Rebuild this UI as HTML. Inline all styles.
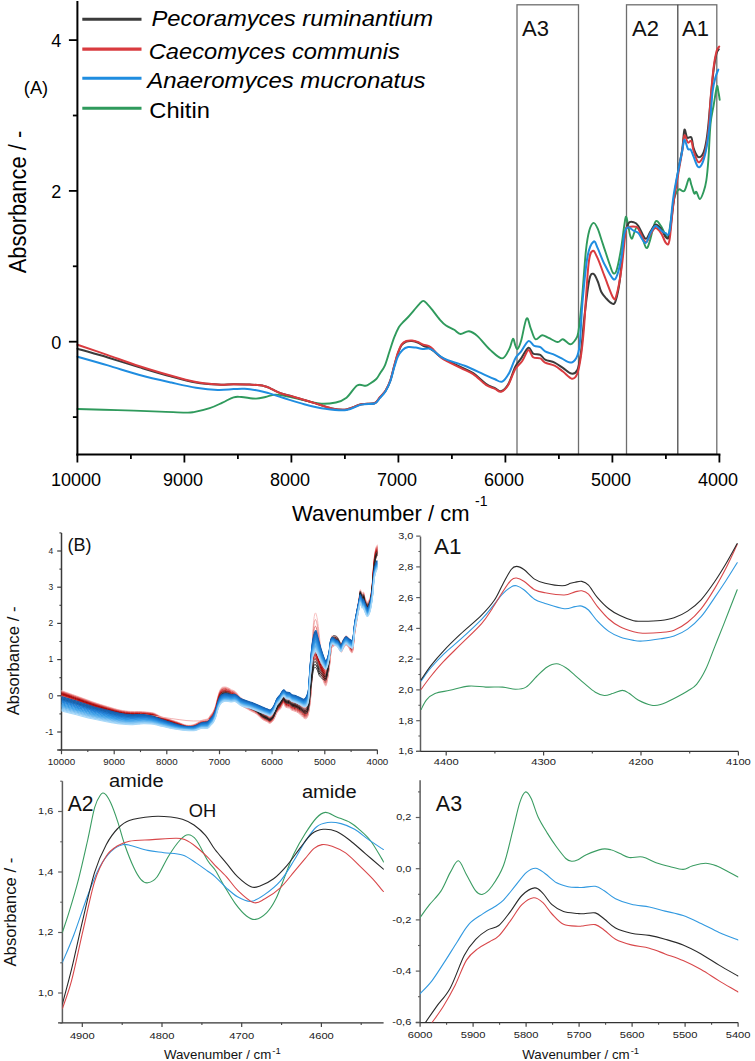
<!DOCTYPE html>
<html><head><meta charset="utf-8"><style>
html,body{margin:0;padding:0;background:#fff;}
svg{display:block;}
</style></head><body>
<svg width="755" height="1061" viewBox="0 0 755 1061">
<defs>
<clipPath id="clipB"><rect x="61.5" y="533" width="320" height="217"/></clipPath>
<clipPath id="clipA2"><rect x="62.4" y="781" width="321.5" height="242"/></clipPath>
<clipPath id="clipA3"><rect x="420.1" y="780" width="318.5" height="242.6"/></clipPath>
</defs>
<rect width="755" height="1061" fill="#fff"/>
<rect x="517" y="4.8" width="61.5" height="449.7" fill="none" stroke="#6e6e6e" stroke-width="1.3"/>
<rect x="626.5" y="4.8" width="90.3" height="449.7" fill="none" stroke="#6e6e6e" stroke-width="1.3"/>
<line x1="677.8" y1="4.8" x2="677.8" y2="454.5" stroke="#4a4a4a" stroke-width="1.3"/>
<text x="522" y="35.5" font-family="Liberation Sans, sans-serif" font-size="22" fill="#111">A3</text>
<text x="632" y="35.5" font-family="Liberation Sans, sans-serif" font-size="22" fill="#111">A2</text>
<text x="682" y="35.5" font-family="Liberation Sans, sans-serif" font-size="22" fill="#111">A1</text>
<path d="M77.5,409.0 C84.2,409.2 103.7,409.7 117.4,410.1 C131.1,410.5 148.4,411.2 159.7,411.6 C171.0,412.0 179.5,412.5 185.2,412.6 C190.9,412.7 189.7,412.8 193.8,412.1 C197.9,411.4 204.9,409.8 209.7,408.2 C214.5,406.6 218.5,404.4 222.5,402.6 C226.5,400.8 230.4,398.2 233.6,397.3 C236.8,396.4 237.8,396.8 241.5,397.0 C245.2,397.2 251.9,398.6 255.9,398.6 C259.9,398.6 262.2,397.7 265.4,397.0 C268.6,396.3 271.7,394.8 274.9,394.6 C278.1,394.4 281.4,395.3 284.5,395.8 C287.6,396.3 287.9,396.5 293.6,397.8 C299.4,399.1 311.9,402.7 319.0,403.5 C326.1,404.3 331.3,403.4 335.9,402.5 C340.5,401.6 343.0,400.6 346.5,397.8 C350.0,395.0 353.9,387.5 357.1,385.5 C360.3,383.5 363.5,386.1 365.6,385.8 C367.7,385.5 368.0,384.9 369.8,383.8 C371.6,382.7 374.6,380.7 376.3,379.0 C378.0,377.3 378.6,375.6 380.0,373.4 C381.4,371.2 383.1,369.5 384.7,365.9 C386.3,362.3 387.8,356.5 389.4,351.8 C391.0,347.1 392.5,341.8 394.1,337.7 C395.7,333.6 397.4,329.8 398.8,327.3 C400.2,324.8 401.0,324.3 402.6,322.6 C404.2,320.9 406.3,319.0 408.2,317.0 C410.1,315.0 412.0,312.6 413.9,310.4 C415.8,308.2 417.9,305.4 419.5,303.8 C421.1,302.2 422.0,300.9 423.3,300.9 C424.6,300.9 425.5,302.2 427.1,303.8 C428.7,305.4 430.6,307.7 432.7,310.4 C434.8,313.1 437.8,317.3 440.0,319.8 C442.2,322.3 443.6,323.8 446.0,325.5 C448.4,327.2 451.8,328.4 454.2,329.8 C456.6,331.2 458.0,333.8 460.5,334.0 C463.0,334.2 466.2,330.9 469.0,331.3 C471.8,331.7 474.0,333.0 477.5,336.1 C481.0,339.2 486.1,346.2 490.2,349.9 C494.3,353.6 499.0,358.6 502.2,358.4 C505.4,358.2 507.5,352.2 509.3,348.9 C511.1,345.6 511.9,339.3 512.9,338.7 C513.9,338.1 514.5,343.6 515.3,345.3 C516.1,347.0 516.6,349.7 517.6,348.9 C518.6,348.1 519.7,345.6 521.2,340.5 C522.7,335.4 525.0,320.5 526.6,318.5 C528.2,316.5 529.3,325.1 530.8,328.6 C532.3,332.1 533.6,338.2 535.5,339.3 C537.4,340.4 539.9,335.4 542.1,335.2 C544.3,335.0 546.0,336.8 548.6,337.9 C551.2,339.0 555.2,341.8 557.6,342.0 C560.0,342.2 560.8,338.9 562.9,339.3 C565.0,339.7 568.1,344.1 570.1,344.3 C572.1,344.5 573.5,342.5 574.9,340.5 C576.3,338.5 577.2,338.8 578.3,332.4 C579.4,326.0 580.4,315.5 581.7,301.9 C583.0,288.3 584.6,262.8 585.9,250.9 C587.2,239.0 588.0,235.3 589.3,230.6 C590.6,225.9 592.2,223.2 593.6,222.9 C595.0,222.6 596.2,225.4 597.8,228.9 C599.3,232.4 600.9,238.2 602.9,244.1 C604.9,250.0 608.0,259.7 609.7,264.5 C611.4,269.3 612.0,272.0 613.1,273.0 C614.2,274.0 615.2,274.2 616.5,270.5 C617.8,266.8 619.4,258.3 620.7,250.9 C622.0,243.5 623.3,231.7 624.2,226.0 C625.1,220.3 625.3,217.3 625.9,216.8 C626.5,216.3 627.1,220.2 627.8,223.2 C628.5,226.1 629.2,231.9 629.9,234.5 C630.6,237.1 631.3,238.9 632.0,238.7 C632.7,238.5 633.3,235.0 634.1,233.1 C634.9,231.2 635.8,227.2 637.0,227.4 C638.2,227.6 639.7,231.1 641.2,234.5 C642.7,237.9 644.8,246.7 646.2,247.9 C647.6,249.1 648.2,245.9 649.7,241.5 C651.2,237.1 653.5,224.3 655.4,221.7 C657.3,219.1 659.4,223.9 661.0,226.0 C662.6,228.1 664.1,232.6 665.3,234.5 C666.5,236.4 667.2,239.7 668.1,237.3 C669.0,234.9 670.0,226.4 670.9,220.3 C671.8,214.2 672.8,205.2 673.7,200.5 C674.7,195.8 675.7,193.9 676.6,192.0 C677.5,190.1 678.1,189.4 679.4,189.2 C680.7,189.0 682.8,192.7 684.4,190.9 C686.0,189.1 687.8,179.6 689.0,178.6 C690.2,177.6 690.5,182.5 691.4,185.0 C692.3,187.5 693.5,192.4 694.3,193.5 C695.1,194.6 695.5,190.9 696.4,191.8 C697.3,192.7 698.7,199.1 699.9,199.1 C701.1,199.1 702.4,195.1 703.5,192.0 C704.6,188.9 705.5,186.1 706.3,180.7 C707.1,175.3 707.7,168.9 708.4,159.5 C709.1,150.1 709.6,133.1 710.5,124.1 C711.4,115.1 712.5,111.8 713.6,105.5 C714.7,99.2 716.1,89.0 716.9,86.6 C717.7,84.2 717.8,89.1 718.3,91.3 C718.8,93.5 719.5,98.4 719.7,99.8" fill="none" stroke="#2f9a5c" stroke-width="1.9" stroke-linejoin="round" stroke-linecap="round" />
<path d="M77.5,348.7 C82.5,350.2 97.5,354.4 107.8,357.5 C118.1,360.6 129.0,364.1 139.6,367.3 C150.2,370.5 162.0,374.1 171.4,376.6 C180.8,379.2 188.3,381.3 196.0,382.6 C203.7,383.9 211.4,384.3 217.7,384.6 C224.0,384.9 228.3,384.3 233.6,384.3 C238.9,384.3 244.5,384.3 249.5,384.6 C254.5,384.9 260.1,385.1 263.8,385.9 C267.5,386.6 268.8,387.8 271.7,389.1 C274.6,390.4 277.6,392.2 281.3,393.5 C285.0,394.8 288.0,395.3 293.6,396.9 C299.2,398.5 308.4,401.2 314.7,403.1 C321.0,405.0 326.4,407.3 331.7,408.4 C337.0,409.4 341.6,410.1 346.5,409.4 C351.4,408.7 356.7,405.2 361.4,404.2 C366.1,403.2 371.4,404.3 374.5,403.2 C377.6,402.1 378.1,399.4 380.0,397.3 C381.9,395.2 383.9,393.6 385.6,390.8 C387.3,388.0 389.0,384.6 390.4,380.5 C391.8,376.4 392.9,371.0 394.1,366.5 C395.4,362.0 396.6,357.1 397.9,353.5 C399.2,349.9 400.3,347.0 401.7,345.0 C403.1,343.0 404.7,342.2 406.4,341.5 C408.1,340.8 410.1,340.8 412.0,341.0 C413.9,341.2 415.8,341.7 417.7,342.5 C419.6,343.3 421.4,344.9 423.3,345.8 C425.2,346.7 427.3,346.9 429.0,347.8 C430.7,348.7 431.6,349.4 433.7,351.0 C435.8,352.6 436.9,354.7 441.4,357.3 C445.9,359.9 455.2,364.2 460.5,366.9 C465.8,369.5 469.0,370.4 473.2,373.2 C477.4,376.0 482.3,381.3 485.9,383.8 C489.5,386.3 492.5,387.0 495.0,388.2 C497.5,389.4 498.8,391.8 501.0,391.2 C503.2,390.6 505.7,388.7 508.1,384.6 C510.5,380.5 513.1,371.1 515.3,366.7 C517.5,362.3 519.0,361.6 521.2,358.4 C523.4,355.2 526.4,348.5 528.4,347.7 C530.4,346.9 531.1,352.4 533.1,353.6 C535.1,354.8 538.3,353.8 540.3,354.8 C542.3,355.8 542.7,358.3 545.1,359.6 C547.5,360.9 551.6,361.2 554.6,362.6 C557.6,364.0 560.1,366.1 562.9,367.9 C565.7,369.7 568.9,373.2 571.3,373.6 C573.7,374.0 575.6,373.6 577.2,370.3 C578.8,367.0 579.6,362.2 580.8,353.6 C582.0,345.0 582.8,331.1 584.2,318.8 C585.6,306.5 587.7,287.3 589.3,279.8 C590.9,272.3 592.2,273.6 593.6,273.9 C595.0,274.2 596.5,278.5 597.8,281.5 C599.1,284.5 599.8,288.9 601.2,291.7 C602.6,294.5 604.5,296.5 606.3,298.5 C608.1,300.5 610.7,303.2 612.2,303.6 C613.8,304.0 614.3,305.0 615.6,301.0 C616.9,297.0 618.5,290.4 619.9,279.8 C621.3,269.2 622.8,246.7 624.2,237.3 C625.6,227.9 626.9,225.7 628.5,223.2 C630.1,220.7 632.5,221.9 634.1,222.4 C635.8,222.9 636.5,223.3 638.4,226.0 C640.3,228.7 643.5,237.8 645.5,238.7 C647.5,239.6 648.8,233.9 650.4,231.6 C652.0,229.2 653.6,225.1 655.4,224.6 C657.2,224.1 659.2,226.7 661.0,228.8 C662.8,230.9 664.6,236.4 666.0,237.3 C667.4,238.2 668.2,240.6 669.5,234.5 C670.8,228.4 672.3,210.9 673.7,200.5 C675.1,190.1 676.6,180.7 678.0,172.2 C679.4,163.7 681.1,156.7 682.2,149.6 C683.3,142.5 683.6,131.8 684.4,129.8 C685.2,127.8 686.0,136.3 687.2,137.6 C688.4,138.9 690.3,135.8 691.4,137.6 C692.5,139.4 692.5,145.0 693.6,148.2 C694.7,151.4 696.4,155.5 697.8,156.7 C699.2,157.9 700.8,156.7 702.0,155.3 C703.2,153.9 703.9,152.2 704.9,148.2 C705.9,144.2 706.8,139.2 707.7,131.2 C708.7,123.2 709.6,110.2 710.6,100.0 C711.6,89.8 712.6,77.7 713.6,70.0 C714.6,62.3 715.5,57.5 716.4,54.0 C717.3,50.5 718.4,50.1 718.8,49.3" fill="none" stroke="#3b3b3b" stroke-width="2.0" stroke-linejoin="round" stroke-linecap="round" />
<path d="M77.5,344.8 C82.5,346.5 97.5,351.5 107.8,355.1 C118.1,358.7 129.0,362.8 139.6,366.2 C150.2,369.6 162.0,373.1 171.4,375.8 C180.8,378.5 188.3,380.6 196.0,382.1 C203.7,383.6 211.4,384.2 217.7,384.6 C224.0,385.0 228.3,384.3 233.6,384.3 C238.9,384.3 244.5,384.3 249.5,384.6 C254.5,384.9 260.1,385.1 263.8,385.9 C267.5,386.6 268.8,387.8 271.7,389.1 C274.6,390.4 277.6,392.2 281.3,393.5 C285.0,394.8 288.0,395.1 293.6,396.7 C299.2,398.3 308.4,401.2 314.7,403.1 C321.0,405.1 326.4,407.3 331.7,408.4 C337.0,409.4 341.6,410.1 346.5,409.4 C351.4,408.7 356.7,405.2 361.4,404.2 C366.1,403.2 371.4,404.4 374.5,403.2 C377.6,402.0 378.1,399.1 380.0,397.0 C381.9,394.9 383.9,393.2 385.6,390.4 C387.3,387.6 389.0,384.1 390.4,380.0 C391.8,375.9 392.9,370.4 394.1,365.9 C395.4,361.3 396.6,356.3 397.9,352.7 C399.2,349.1 400.3,346.2 401.7,344.3 C403.1,342.4 404.7,341.6 406.4,341.0 C408.1,340.4 410.1,340.4 412.0,340.5 C413.9,340.6 415.8,341.2 417.7,341.9 C419.6,342.6 421.4,344.0 423.3,344.7 C425.2,345.4 427.3,345.2 429.0,346.1 C430.7,347.0 431.6,347.9 433.7,349.9 C435.8,351.8 436.9,354.8 441.4,357.8 C445.9,360.8 455.2,365.2 460.5,367.9 C465.8,370.6 469.0,371.4 473.2,374.2 C477.4,377.0 482.3,382.4 485.9,384.8 C489.5,387.2 492.5,387.6 495.0,388.8 C497.5,390.0 498.8,392.4 501.0,391.8 C503.2,391.2 505.7,389.0 508.1,385.2 C510.5,381.4 512.9,373.2 515.3,369.1 C517.7,365.0 520.2,364.0 522.4,360.8 C524.6,357.6 526.6,350.7 528.4,350.1 C530.2,349.5 531.1,355.8 533.1,357.2 C535.1,358.6 538.3,357.5 540.3,358.4 C542.3,359.3 542.7,361.4 545.1,362.6 C547.5,363.8 551.6,364.1 554.6,365.6 C557.6,367.1 560.0,369.3 562.9,371.5 C565.8,373.7 569.5,378.3 571.9,378.7 C574.3,379.1 575.7,377.5 577.2,373.9 C578.7,370.3 579.7,364.5 580.8,357.2 C581.9,349.9 582.5,345.4 583.8,330.0 C585.1,314.6 587.0,277.7 588.5,264.5 C590.0,251.3 591.2,251.9 592.7,250.9 C594.2,249.9 595.8,254.4 597.8,258.6 C599.8,262.9 602.0,269.9 604.6,276.4 C607.2,282.9 611.1,294.5 613.1,297.6 C615.1,300.7 615.1,300.1 616.5,295.1 C617.9,290.2 620.1,278.5 621.6,267.9 C623.1,257.3 624.6,238.3 625.7,231.6 C626.9,224.8 626.9,228.2 628.5,227.4 C630.1,226.6 634.0,226.5 635.6,226.7 C637.2,226.9 636.8,226.2 638.4,228.8 C640.0,231.4 643.5,241.2 645.5,242.2 C647.5,243.1 648.8,236.8 650.4,234.5 C652.0,232.2 653.6,228.3 655.4,228.1 C657.2,227.9 659.2,230.6 661.0,233.1 C662.8,235.6 664.6,241.8 666.0,243.0 C667.4,244.2 668.2,246.9 669.5,240.1 C670.8,233.2 671.6,216.8 673.7,201.9 C675.8,187.1 680.4,162.1 682.2,151.0 C684.0,139.9 683.5,136.9 684.4,135.5 C685.3,134.1 686.7,141.6 687.9,142.5 C689.1,143.4 690.4,139.7 691.4,141.1 C692.4,142.5 692.5,147.6 693.6,151.0 C694.7,154.4 696.5,160.1 697.8,161.6 C699.1,163.1 700.1,161.7 701.3,160.2 C702.5,158.7 703.7,157.2 704.9,152.4 C706.1,147.6 707.4,140.6 708.4,131.2 C709.4,121.8 709.9,106.6 710.8,96.0 C711.7,85.4 712.7,75.1 713.6,67.7 C714.5,60.3 715.5,55.2 716.4,51.7 C717.3,48.2 718.7,47.4 719.2,46.5" fill="none" stroke="#d93b3f" stroke-width="2.0" stroke-linejoin="round" stroke-linecap="round" />
<path d="M77.5,356.7 C82.5,358.1 97.5,362.3 107.8,365.4 C118.1,368.4 129.0,372.1 139.6,375.0 C150.2,377.9 162.0,380.5 171.4,382.6 C180.8,384.7 188.3,386.5 196.0,387.7 C203.7,388.9 211.4,389.7 217.7,389.9 C224.0,390.1 229.1,389.3 233.6,389.1 C238.1,388.9 240.5,388.5 244.7,388.8 C248.9,389.1 255.0,390.0 259.0,390.7 C263.0,391.4 264.6,391.9 268.6,393.1 C272.6,394.3 277.1,396.0 283.0,397.8 C288.9,399.6 297.1,402.4 304.2,404.2 C311.2,406.0 318.2,407.8 325.3,408.8 C332.4,409.8 340.5,410.8 346.5,410.1 C352.5,409.4 356.7,405.7 361.4,404.6 C366.1,403.5 371.4,404.6 374.5,403.5 C377.6,402.4 378.1,399.9 380.0,397.9 C381.9,395.9 383.9,394.1 385.6,391.3 C387.3,388.5 389.0,384.9 390.4,381.0 C391.8,377.1 392.9,371.9 394.1,367.8 C395.4,363.7 396.5,359.5 397.9,356.5 C399.3,353.5 400.9,351.5 402.6,349.9 C404.3,348.3 406.0,347.5 408.2,347.1 C410.4,346.7 413.4,347.3 415.8,347.6 C418.2,347.9 420.2,348.9 422.4,349.0 C424.6,349.1 427.1,348.2 429.0,348.5 C430.9,348.8 431.3,349.2 433.7,350.8 C436.1,352.4 438.4,355.9 443.6,358.4 C448.8,360.9 457.6,363.0 464.7,365.8 C471.8,368.6 480.8,373.1 485.9,375.3 C490.9,377.6 492.3,378.2 495.0,379.3 C497.7,380.4 499.8,382.7 502.2,381.6 C504.6,380.5 507.1,376.6 509.3,372.7 C511.5,368.8 513.3,362.0 515.3,358.4 C517.3,354.8 519.0,354.2 521.2,351.3 C523.4,348.4 526.2,342.0 528.4,341.1 C530.6,340.2 532.3,344.9 534.3,345.9 C536.3,346.9 538.5,346.2 540.3,347.1 C542.1,348.0 542.7,350.0 545.1,351.3 C547.5,352.6 551.8,353.6 554.6,354.8 C557.4,356.0 559.1,357.1 561.7,358.4 C564.3,359.7 567.7,362.6 570.1,362.6 C572.5,362.6 574.4,361.3 576.0,358.4 C577.6,355.5 578.5,354.7 579.6,345.3 C580.7,335.9 581.2,316.8 582.5,301.9 C583.8,287.0 585.8,266.1 587.6,256.0 C589.5,245.9 591.9,242.9 593.6,241.6 C595.3,240.3 596.0,244.6 597.8,248.4 C599.6,252.2 602.0,259.4 604.6,264.5 C607.2,269.6 611.0,277.2 613.1,278.9 C615.2,280.6 615.9,278.5 617.3,274.7 C618.7,270.9 620.5,262.7 621.6,256.0 C622.8,249.3 623.2,239.3 624.2,234.5 C625.2,229.7 626.1,228.0 627.8,227.4 C629.4,226.8 632.3,230.0 634.1,230.9 C635.9,231.8 636.5,231.1 638.4,233.1 C640.3,235.1 643.5,243.0 645.5,243.0 C647.5,243.0 648.8,235.9 650.4,233.1 C652.0,230.3 653.6,226.5 655.4,226.0 C657.2,225.5 659.4,229.0 661.0,230.2 C662.6,231.4 663.9,232.9 665.3,233.1 C666.7,233.3 668.1,238.0 669.5,231.6 C670.9,225.2 671.6,208.3 673.7,194.9 C675.8,181.5 680.4,160.2 682.2,151.0 C684.0,141.8 683.5,140.0 684.4,139.7 C685.3,139.3 686.8,147.2 687.9,148.9 C689.0,150.6 689.8,148.3 690.7,149.6 C691.7,150.9 692.4,153.9 693.6,156.7 C694.8,159.5 696.5,165.2 697.8,166.6 C699.1,168.0 700.1,167.1 701.3,165.2 C702.5,163.3 703.7,160.2 704.9,155.3 C706.1,150.4 707.5,141.9 708.4,135.5 C709.3,129.1 709.8,124.5 710.5,117.1 C711.2,109.7 711.8,97.9 712.6,91.3 C713.4,84.7 714.5,80.8 715.5,77.2 C716.5,73.6 717.8,70.9 718.3,69.6" fill="none" stroke="#1f8de0" stroke-width="2.0" stroke-linejoin="round" stroke-linecap="round" />
<line x1="77.4" y1="1" x2="77.4" y2="455.5" stroke="#000" stroke-width="2"/>
<line x1="76.4" y1="454.5" x2="720.4" y2="454.5" stroke="#000" stroke-width="2"/>
<line x1="72.9" y1="417.1" x2="77.4" y2="417.1" stroke="#000" stroke-width="1.8"/>
<line x1="68.9" y1="341.7" x2="77.4" y2="341.7" stroke="#000" stroke-width="1.8"/>
<line x1="72.9" y1="266.3" x2="77.4" y2="266.3" stroke="#000" stroke-width="1.8"/>
<line x1="68.9" y1="190.9" x2="77.4" y2="190.9" stroke="#000" stroke-width="1.8"/>
<line x1="72.9" y1="115.5" x2="77.4" y2="115.5" stroke="#000" stroke-width="1.8"/>
<line x1="68.9" y1="40.1" x2="77.4" y2="40.1" stroke="#000" stroke-width="1.8"/>
<text x="61.2" y="348.7" font-family="Liberation Sans, sans-serif" font-size="18" text-anchor="end" fill="#000">0</text>
<text x="61.2" y="197.9" font-family="Liberation Sans, sans-serif" font-size="18" text-anchor="end" fill="#000">2</text>
<text x="61.2" y="47.1" font-family="Liberation Sans, sans-serif" font-size="18" text-anchor="end" fill="#000">4</text>
<line x1="77.4" y1="454.5" x2="77.4" y2="462.5" stroke="#000" stroke-width="1.8"/>
<line x1="130.9" y1="454.5" x2="130.9" y2="459.0" stroke="#000" stroke-width="1.8"/>
<line x1="184.4" y1="454.5" x2="184.4" y2="462.5" stroke="#000" stroke-width="1.8"/>
<line x1="237.9" y1="454.5" x2="237.9" y2="459.0" stroke="#000" stroke-width="1.8"/>
<line x1="291.4" y1="454.5" x2="291.4" y2="462.5" stroke="#000" stroke-width="1.8"/>
<line x1="344.9" y1="454.5" x2="344.9" y2="459.0" stroke="#000" stroke-width="1.8"/>
<line x1="398.4" y1="454.5" x2="398.4" y2="462.5" stroke="#000" stroke-width="1.8"/>
<line x1="451.9" y1="454.5" x2="451.9" y2="459.0" stroke="#000" stroke-width="1.8"/>
<line x1="505.4" y1="454.5" x2="505.4" y2="462.5" stroke="#000" stroke-width="1.8"/>
<line x1="558.9" y1="454.5" x2="558.9" y2="459.0" stroke="#000" stroke-width="1.8"/>
<line x1="612.4" y1="454.5" x2="612.4" y2="462.5" stroke="#000" stroke-width="1.8"/>
<line x1="665.9" y1="454.5" x2="665.9" y2="459.0" stroke="#000" stroke-width="1.8"/>
<line x1="719.4" y1="454.5" x2="719.4" y2="462.5" stroke="#000" stroke-width="1.8"/>
<text x="76.1" y="485.6" font-family="Liberation Sans, sans-serif" font-size="18" text-anchor="middle" fill="#000">10000</text>
<text x="183.1" y="485.6" font-family="Liberation Sans, sans-serif" font-size="18" text-anchor="middle" fill="#000">9000</text>
<text x="290.1" y="485.6" font-family="Liberation Sans, sans-serif" font-size="18" text-anchor="middle" fill="#000">8000</text>
<text x="397.1" y="485.6" font-family="Liberation Sans, sans-serif" font-size="18" text-anchor="middle" fill="#000">7000</text>
<text x="504.1" y="485.6" font-family="Liberation Sans, sans-serif" font-size="18" text-anchor="middle" fill="#000">6000</text>
<text x="611.1" y="485.6" font-family="Liberation Sans, sans-serif" font-size="18" text-anchor="middle" fill="#000">5000</text>
<text x="718.1" y="485.6" font-family="Liberation Sans, sans-serif" font-size="18" text-anchor="middle" fill="#000">4000</text>
<text x="292" y="521.2" font-family="Liberation Sans, sans-serif" font-size="22" fill="#000" textLength="177.5" lengthAdjust="spacingAndGlyphs">Wavenumber / cm</text>
<text x="475" y="505.5" font-family="Liberation Sans, sans-serif" font-size="14" fill="#000">-1</text>
<text transform="translate(25.6,273.3) rotate(-90)" font-family="Liberation Sans, sans-serif" font-size="23" fill="#000" textLength="142.5" lengthAdjust="spacingAndGlyphs">Absorbance / -</text>
<text x="23.8" y="94.4" font-family="Liberation Sans, sans-serif" font-size="18.3" fill="#000">(A)</text>
<line x1="82.3" y1="19.3" x2="141.5" y2="19.3" stroke="#3b3b3b" stroke-width="3.1"/>
<text x="151.5" y="26.4" font-family="Liberation Sans, sans-serif" font-size="22" font-style="italic" fill="#000" textLength="281.7" lengthAdjust="spacingAndGlyphs">Pecoramyces ruminantium</text>
<line x1="82.3" y1="49.1" x2="141.5" y2="49.1" stroke="#d93b3f" stroke-width="3.1"/>
<text x="148.8" y="58.5" font-family="Liberation Sans, sans-serif" font-size="22" font-style="italic" fill="#000" textLength="251" lengthAdjust="spacingAndGlyphs">Caecomyces communis</text>
<line x1="82.3" y1="78.3" x2="141.5" y2="78.3" stroke="#1f8de0" stroke-width="3.1"/>
<text x="147.2" y="87.7" font-family="Liberation Sans, sans-serif" font-size="22" font-style="italic" fill="#000" textLength="278.4" lengthAdjust="spacingAndGlyphs">Anaeromyces mucronatus</text>
<line x1="82.3" y1="108.3" x2="141.5" y2="108.3" stroke="#2f9a5c" stroke-width="3.1"/>
<text x="149.3" y="117.8" font-family="Liberation Sans, sans-serif" font-size="22" font-style="normal" fill="#000" textLength="60.6" lengthAdjust="spacingAndGlyphs">Chitin</text>
<line x1="61.5" y1="533" x2="61.5" y2="750" stroke="#3a3a3a" stroke-width="1.5"/>
<line x1="57.2" y1="750" x2="377.6" y2="750" stroke="#3a3a3a" stroke-width="1.3"/>
<line x1="57.2" y1="732.0" x2="61.5" y2="732.0" stroke="#3a3a3a" stroke-width="1.2"/>
<line x1="57.2" y1="695.8" x2="61.5" y2="695.8" stroke="#3a3a3a" stroke-width="1.2"/>
<line x1="57.2" y1="659.6" x2="61.5" y2="659.6" stroke="#3a3a3a" stroke-width="1.2"/>
<line x1="57.2" y1="623.4" x2="61.5" y2="623.4" stroke="#3a3a3a" stroke-width="1.2"/>
<line x1="57.2" y1="587.2" x2="61.5" y2="587.2" stroke="#3a3a3a" stroke-width="1.2"/>
<line x1="57.2" y1="551.0" x2="61.5" y2="551.0" stroke="#3a3a3a" stroke-width="1.2"/>
<line x1="59.4" y1="750.1" x2="61.5" y2="750.1" stroke="#3a3a3a" stroke-width="1.1"/>
<line x1="59.4" y1="713.9" x2="61.5" y2="713.9" stroke="#3a3a3a" stroke-width="1.1"/>
<line x1="59.4" y1="677.7" x2="61.5" y2="677.7" stroke="#3a3a3a" stroke-width="1.1"/>
<line x1="59.4" y1="641.5" x2="61.5" y2="641.5" stroke="#3a3a3a" stroke-width="1.1"/>
<line x1="59.4" y1="605.3" x2="61.5" y2="605.3" stroke="#3a3a3a" stroke-width="1.1"/>
<line x1="59.4" y1="569.1" x2="61.5" y2="569.1" stroke="#3a3a3a" stroke-width="1.1"/>
<line x1="59.4" y1="532.9" x2="61.5" y2="532.9" stroke="#3a3a3a" stroke-width="1.1"/>
<line x1="61.5" y1="750" x2="61.5" y2="754.2" stroke="#444" stroke-width="1.2"/>
<line x1="114.2" y1="750" x2="114.2" y2="754.2" stroke="#444" stroke-width="1.2"/>
<line x1="166.8" y1="750" x2="166.8" y2="754.2" stroke="#444" stroke-width="1.2"/>
<line x1="219.5" y1="750" x2="219.5" y2="754.2" stroke="#444" stroke-width="1.2"/>
<line x1="272.1" y1="750" x2="272.1" y2="754.2" stroke="#444" stroke-width="1.2"/>
<line x1="324.8" y1="750" x2="324.8" y2="754.2" stroke="#444" stroke-width="1.2"/>
<line x1="377.4" y1="750" x2="377.4" y2="754.2" stroke="#444" stroke-width="1.2"/>
<line x1="87.8" y1="750" x2="87.8" y2="752.1" stroke="#444" stroke-width="1.1"/>
<line x1="140.5" y1="750" x2="140.5" y2="752.1" stroke="#444" stroke-width="1.1"/>
<line x1="193.1" y1="750" x2="193.1" y2="752.1" stroke="#444" stroke-width="1.1"/>
<line x1="245.8" y1="750" x2="245.8" y2="752.1" stroke="#444" stroke-width="1.1"/>
<line x1="298.4" y1="750" x2="298.4" y2="752.1" stroke="#444" stroke-width="1.1"/>
<line x1="351.1" y1="750" x2="351.1" y2="752.1" stroke="#444" stroke-width="1.1"/>
<text x="45.2" y="734.8" font-family="Liberation Sans, sans-serif" font-size="9.4" fill="#222" textLength="8.1" lengthAdjust="spacingAndGlyphs">-1</text>
<text x="48.6" y="698.6" font-family="Liberation Sans, sans-serif" font-size="9.4" fill="#222" textLength="4.7" lengthAdjust="spacingAndGlyphs">0</text>
<text x="48.6" y="662.4" font-family="Liberation Sans, sans-serif" font-size="9.4" fill="#222" textLength="4.7" lengthAdjust="spacingAndGlyphs">1</text>
<text x="48.6" y="626.2" font-family="Liberation Sans, sans-serif" font-size="9.4" fill="#222" textLength="4.7" lengthAdjust="spacingAndGlyphs">2</text>
<text x="48.6" y="590.0" font-family="Liberation Sans, sans-serif" font-size="9.4" fill="#222" textLength="4.7" lengthAdjust="spacingAndGlyphs">3</text>
<text x="48.6" y="553.8" font-family="Liberation Sans, sans-serif" font-size="9.4" fill="#222" textLength="4.7" lengthAdjust="spacingAndGlyphs">4</text>
<text x="47.8" y="764.9" font-family="Liberation Sans, sans-serif" font-size="9.4" fill="#222" textLength="27.3" lengthAdjust="spacingAndGlyphs">10000</text>
<text x="103.3" y="764.9" font-family="Liberation Sans, sans-serif" font-size="9.4" fill="#222" textLength="21.7" lengthAdjust="spacingAndGlyphs">9000</text>
<text x="156.0" y="764.9" font-family="Liberation Sans, sans-serif" font-size="9.4" fill="#222" textLength="21.7" lengthAdjust="spacingAndGlyphs">8000</text>
<text x="208.6" y="764.9" font-family="Liberation Sans, sans-serif" font-size="9.4" fill="#222" textLength="21.7" lengthAdjust="spacingAndGlyphs">7000</text>
<text x="261.3" y="764.9" font-family="Liberation Sans, sans-serif" font-size="9.4" fill="#222" textLength="21.7" lengthAdjust="spacingAndGlyphs">6000</text>
<text x="313.9" y="764.9" font-family="Liberation Sans, sans-serif" font-size="9.4" fill="#222" textLength="21.7" lengthAdjust="spacingAndGlyphs">5000</text>
<text x="366.6" y="764.9" font-family="Liberation Sans, sans-serif" font-size="9.4" fill="#222" textLength="21.7" lengthAdjust="spacingAndGlyphs">4000</text>
<text x="67.6" y="550.6" font-family="Liberation Sans, sans-serif" font-size="18" fill="#111">(B)</text>
<text transform="translate(18.5,715.3) rotate(-90)" font-family="Liberation Sans, sans-serif" font-size="16.5" fill="#111" textLength="108.8" lengthAdjust="spacingAndGlyphs">Absorbance / -</text>
<g clip-path="url(#clipB)"><path d="M61.5,690.6 C64.0,691.5 71.4,694.1 76.5,695.9 C81.6,697.8 86.9,699.8 92.1,701.6 C97.3,703.4 103.1,705.3 107.8,706.6 C112.4,708.0 116.1,709.2 119.9,710.0 C123.7,710.8 127.5,711.2 130.5,711.4 C133.6,711.7 135.8,711.4 138.4,711.5 C141.0,711.6 143.7,711.7 146.2,712.0 C148.7,712.2 151.4,712.5 153.2,712.9 C155.0,713.3 155.7,713.9 157.1,714.6 C158.5,715.3 160.0,716.3 161.8,716.9 C163.6,717.6 165.1,717.9 167.9,718.8 C170.6,719.6 175.1,721.2 178.3,722.3 C181.4,723.4 184.0,724.9 186.6,725.2 C189.2,725.6 191.5,725.3 193.9,724.5 C196.3,723.7 198.9,721.5 201.2,720.5 C203.5,719.5 206.2,719.6 207.7,718.7 C209.2,717.8 209.5,716.4 210.4,715.2 C211.3,714.0 212.3,713.0 213.2,711.4 C214.0,709.9 214.8,708.1 215.5,706.0 C216.2,703.8 216.7,701.1 217.3,698.8 C217.9,696.5 218.6,693.8 219.2,692.1 C219.8,690.3 220.4,689.1 221.1,688.2 C221.8,687.4 222.5,687.1 223.4,687.0 C224.2,686.8 225.2,686.9 226.1,687.1 C227.1,687.3 228.0,687.7 228.9,688.2 C229.9,688.6 230.8,689.4 231.7,689.9 C232.6,690.3 233.7,690.4 234.5,690.9 C235.4,691.5 235.8,692.0 236.8,693.1 C237.8,694.2 238.4,695.7 240.6,697.4 C242.8,699.1 247.4,701.7 250.0,703.2 C252.6,704.8 254.2,705.2 256.3,706.7 C258.3,708.2 260.7,710.9 262.5,712.2 C264.3,713.5 265.7,713.8 267.0,714.4 C268.2,715.1 268.9,716.3 269.9,716.1 C271.0,715.8 272.3,714.8 273.4,712.9 C274.6,711.1 275.8,706.9 277.0,704.8 C278.1,702.8 279.4,702.1 280.5,700.5 C281.5,698.9 282.5,695.4 283.4,695.0 C284.3,694.7 284.8,697.7 285.7,698.2 C286.7,698.8 288.3,698.1 289.3,698.4 C290.3,698.8 290.5,699.7 291.6,700.2 C292.8,700.7 294.8,700.6 296.3,701.2 C297.8,701.7 299.0,702.7 300.4,703.6 C301.8,704.5 303.6,706.6 304.8,706.6 C306.0,706.5 306.7,705.6 307.4,703.2 C308.2,700.9 308.7,697.2 309.2,692.4 C309.7,687.6 310.0,684.7 310.7,674.2 C311.3,663.7 312.3,639.7 313.0,629.5 C313.7,619.4 314.3,614.7 315.1,613.3 C315.8,611.8 316.6,614.9 317.6,620.8 C318.5,626.6 319.7,640.7 320.9,648.4 C322.2,656.1 324.1,664.0 325.1,667.0 C326.1,670.1 326.1,668.8 326.8,666.7 C327.5,664.5 328.5,659.2 329.3,654.4 C330.0,649.5 330.7,640.6 331.3,637.5 C331.9,634.4 331.9,636.1 332.7,635.9 C333.5,635.6 335.4,636.0 336.2,636.1 C337.0,636.3 336.7,635.9 337.5,637.0 C338.4,638.2 340.1,642.7 341.0,643.1 C342.0,643.4 342.6,640.3 343.4,639.1 C344.3,637.9 345.0,636.0 345.9,635.7 C346.8,635.5 347.8,636.7 348.7,637.8 C349.5,638.9 350.4,641.8 351.1,642.3 C351.8,642.8 352.2,644.1 352.8,640.7 C353.5,637.4 353.9,629.4 354.9,622.2 C356.0,614.9 358.2,602.7 359.1,597.3 C360.0,591.9 359.7,590.5 360.2,589.7 C360.6,589.0 361.3,592.5 361.9,592.9 C362.5,593.3 363.2,591.4 363.6,592.0 C364.1,592.6 364.2,595.1 364.7,596.6 C365.2,598.2 366.1,600.8 366.8,601.5 C367.4,602.2 367.9,601.4 368.5,600.6 C369.1,599.8 369.7,599.1 370.3,596.7 C370.8,594.3 371.5,590.9 372.0,586.3 C372.5,581.7 372.7,574.4 373.2,569.3 C373.6,564.1 374.1,559.1 374.5,555.5 C375.0,551.9 375.5,549.4 375.9,547.7 C376.4,545.9 377.1,545.5 377.3,545.0" fill="none" stroke="#f7c0c0" stroke-width="1.0" stroke-linejoin="round" stroke-linecap="round" />
<path d="M61.5,691.1 C64.0,692.0 71.4,694.6 76.5,696.4 C81.6,698.2 86.9,700.3 92.1,702.1 C97.3,703.9 103.1,705.7 107.8,707.1 C112.4,708.5 116.1,709.6 119.9,710.4 C123.7,711.2 127.5,711.6 130.5,711.9 C133.6,712.1 135.8,711.8 138.4,711.9 C141.0,712.0 143.7,712.1 146.2,712.4 C148.7,712.6 151.4,712.8 153.2,713.3 C155.0,713.7 155.7,714.3 157.1,715.0 C158.5,715.7 160.0,716.6 161.8,717.3 C163.6,718.0 165.1,718.2 167.9,719.1 C170.6,720.0 175.1,721.6 178.3,722.6 C181.4,723.7 184.0,725.2 186.6,725.5 C189.2,725.9 191.5,725.7 193.9,724.9 C196.3,724.2 198.9,722.0 201.2,721.0 C203.5,720.1 206.2,720.2 207.7,719.3 C209.2,718.4 209.5,717.0 210.4,715.8 C211.3,714.6 212.3,713.6 213.2,712.1 C214.0,710.6 214.8,708.8 215.5,706.7 C216.2,704.6 216.7,701.9 217.3,699.6 C217.9,697.3 218.6,694.6 219.2,692.9 C219.8,691.1 220.4,689.9 221.1,689.0 C221.8,688.1 222.5,687.9 223.4,687.7 C224.2,687.5 225.2,687.6 226.1,687.8 C227.1,688.0 228.0,688.4 228.9,688.9 C229.9,689.3 230.8,690.1 231.7,690.6 C232.6,691.0 233.7,691.1 234.5,691.6 C235.4,692.1 235.8,692.7 236.8,693.7 C237.8,694.8 238.4,696.3 240.6,698.0 C242.8,699.7 247.4,702.3 250.0,703.8 C252.6,705.4 254.2,705.8 256.3,707.3 C258.3,708.8 260.7,711.5 262.5,712.8 C264.3,714.1 265.7,714.4 267.0,715.0 C268.2,715.7 268.9,716.9 269.9,716.7 C271.0,716.4 272.3,715.4 273.4,713.5 C274.6,711.7 275.8,707.6 277.0,705.5 C278.1,703.4 279.4,702.8 280.5,701.2 C281.5,699.6 282.5,696.1 283.4,695.8 C284.3,695.4 284.8,698.4 285.7,699.0 C286.7,699.6 288.3,698.9 289.3,699.2 C290.3,699.6 290.5,700.6 291.6,701.0 C292.8,701.5 294.8,701.5 296.3,702.0 C297.8,702.6 299.0,703.6 300.4,704.5 C301.8,705.4 303.6,707.6 304.8,707.6 C306.0,707.6 306.7,706.7 307.4,704.5 C308.2,702.2 308.7,698.8 309.2,694.2 C309.7,689.6 310.0,686.8 310.7,676.8 C311.3,666.9 312.3,643.9 313.0,634.4 C313.7,624.9 314.3,621.1 315.1,619.8 C315.8,618.6 316.6,621.5 317.6,626.8 C318.5,632.0 319.7,644.3 320.9,651.3 C322.2,658.2 324.1,665.8 325.1,668.6 C326.1,671.4 326.1,670.2 326.8,668.0 C327.5,665.9 328.5,660.5 329.3,655.5 C330.0,650.6 330.7,641.6 331.3,638.5 C331.9,635.4 331.9,637.1 332.7,636.8 C333.5,636.5 335.4,636.7 336.2,636.9 C337.0,637.0 336.7,636.6 337.5,637.7 C338.4,638.9 340.1,643.5 341.0,643.8 C342.0,644.2 342.6,641.1 343.4,639.9 C344.3,638.7 345.0,636.7 345.9,636.5 C346.8,636.3 347.8,637.6 348.7,638.7 C349.5,639.8 350.4,642.7 351.1,643.2 C351.8,643.6 352.2,644.9 352.8,641.6 C353.5,638.2 353.9,630.3 354.9,623.0 C356.0,615.8 358.2,603.6 359.1,598.2 C360.0,592.8 359.7,591.3 360.2,590.6 C360.6,589.9 361.3,593.4 361.9,593.8 C362.5,594.2 363.2,592.3 363.6,592.9 C364.1,593.6 364.2,596.0 364.7,597.6 C365.2,599.1 366.1,601.7 366.8,602.4 C367.4,603.1 367.9,602.3 368.5,601.5 C369.1,600.7 369.7,600.0 370.3,597.6 C370.8,595.2 371.5,591.8 372.0,587.2 C372.5,582.6 372.7,575.3 373.2,570.2 C373.6,565.0 374.1,560.0 374.5,556.4 C375.0,552.8 375.5,550.3 375.9,548.6 C376.4,546.8 377.1,546.4 377.3,545.9" fill="none" stroke="#ed9898" stroke-width="1.0" stroke-linejoin="round" stroke-linecap="round" />
<path d="M61.5,691.6 C64.0,692.5 71.4,695.1 76.5,696.9 C81.6,698.7 86.9,700.8 92.1,702.6 C97.3,704.4 103.1,706.2 107.8,707.6 C112.4,708.9 116.1,710.1 119.9,710.9 C123.7,711.7 127.5,712.1 130.5,712.3 C133.6,712.6 135.8,712.3 138.4,712.3 C141.0,712.4 143.7,712.5 146.2,712.8 C148.7,713.0 151.4,713.2 153.2,713.7 C155.0,714.1 155.7,714.7 157.1,715.4 C158.5,716.0 160.0,717.0 161.8,717.7 C163.6,718.4 165.1,718.6 167.9,719.5 C170.6,720.3 175.1,721.9 178.3,723.0 C181.4,724.0 184.0,725.5 186.6,725.8 C189.2,726.2 191.5,726.0 193.9,725.3 C196.3,724.6 198.9,722.4 201.2,721.5 C203.5,720.6 206.2,720.8 207.7,719.9 C209.2,719.1 209.5,717.6 210.4,716.5 C211.3,715.3 212.3,714.3 213.2,712.8 C214.0,711.3 214.8,709.5 215.5,707.4 C216.2,705.3 216.7,702.6 217.3,700.3 C217.9,698.0 218.6,695.4 219.2,693.6 C219.8,691.9 220.4,690.6 221.1,689.8 C221.8,688.9 222.5,688.7 223.4,688.5 C224.2,688.3 225.2,688.4 226.1,688.6 C227.1,688.8 228.0,689.1 228.9,689.6 C229.9,690.0 230.8,690.8 231.7,691.3 C232.6,691.7 233.7,691.8 234.5,692.3 C235.4,692.8 235.8,693.3 236.8,694.4 C237.8,695.5 238.4,697.0 240.6,698.7 C242.8,700.3 247.4,702.9 250.0,704.4 C252.6,706.0 254.2,706.4 256.3,707.9 C258.3,709.4 260.7,712.1 262.5,713.4 C264.3,714.7 265.7,715.0 267.0,715.6 C268.2,716.3 268.9,717.5 269.9,717.3 C271.0,717.0 272.3,716.0 273.4,714.2 C274.6,712.3 275.8,708.2 277.0,706.2 C278.1,704.1 279.4,703.5 280.5,701.9 C281.5,700.3 282.5,696.9 283.4,696.5 C284.3,696.2 284.8,699.1 285.7,699.7 C286.7,700.3 288.3,699.7 289.3,700.0 C290.3,700.4 290.5,701.4 291.6,701.9 C292.8,702.3 294.8,702.3 296.3,702.9 C297.8,703.5 299.0,704.5 300.4,705.4 C301.8,706.4 303.6,708.5 304.8,708.6 C306.0,708.6 306.7,707.8 307.4,705.7 C308.2,703.6 308.7,700.3 309.2,695.9 C309.7,691.5 310.0,688.9 310.7,679.5 C311.3,670.1 312.3,648.2 313.0,639.3 C313.7,630.5 314.3,627.5 315.1,626.4 C315.8,625.3 316.6,628.1 317.6,632.8 C318.5,637.4 319.7,647.9 320.9,654.2 C322.2,660.4 324.1,667.6 325.1,670.2 C326.1,672.7 326.1,671.6 326.8,669.4 C327.5,667.2 328.5,661.7 329.3,656.7 C330.0,651.7 330.7,642.7 331.3,639.5 C331.9,636.4 331.9,638.0 332.7,637.7 C333.5,637.4 335.4,637.5 336.2,637.6 C337.0,637.7 336.7,637.3 337.5,638.5 C338.4,639.6 340.1,644.2 341.0,644.6 C342.0,644.9 342.6,641.9 343.4,640.7 C344.3,639.4 345.0,637.5 345.9,637.3 C346.8,637.1 347.8,638.4 348.7,639.5 C349.5,640.6 350.4,643.5 351.1,644.0 C351.8,644.5 352.2,645.8 352.8,642.4 C353.5,639.1 353.9,631.1 354.9,623.9 C356.0,616.7 358.2,604.5 359.1,599.1 C360.0,593.7 359.7,592.2 360.2,591.5 C360.6,590.8 361.3,594.3 361.9,594.7 C362.5,595.1 363.2,593.2 363.6,593.8 C364.1,594.5 364.2,596.9 364.7,598.5 C365.2,600.0 366.1,602.6 366.8,603.3 C367.4,604.0 367.9,603.2 368.5,602.4 C369.1,601.6 369.7,600.9 370.3,598.5 C370.8,596.1 371.5,592.7 372.0,588.1 C372.5,583.5 372.7,576.2 373.2,571.1 C373.6,566.0 374.1,560.9 374.5,557.3 C375.0,553.7 375.5,551.2 375.9,549.5 C376.4,547.7 377.1,547.3 377.3,546.8" fill="none" stroke="#e27070" stroke-width="1.0" stroke-linejoin="round" stroke-linecap="round" />
<path d="M61.5,692.1 C64.0,693.0 71.4,695.6 76.5,697.4 C81.6,699.2 86.9,701.3 92.1,703.1 C97.3,704.8 103.1,706.6 107.8,708.0 C112.4,709.4 116.1,710.5 119.9,711.3 C123.7,712.1 127.5,712.5 130.5,712.7 C133.6,713.0 135.8,712.7 138.4,712.8 C141.0,712.8 143.7,713.0 146.2,713.2 C148.7,713.4 151.4,713.6 153.2,714.1 C155.0,714.5 155.7,715.1 157.1,715.8 C158.5,716.4 160.0,717.4 161.8,718.0 C163.6,718.7 165.1,718.9 167.9,719.8 C170.6,720.7 175.1,722.2 178.3,723.3 C181.4,724.3 184.0,725.7 186.6,726.1 C189.2,726.6 191.5,726.4 193.9,725.7 C196.3,725.0 198.9,722.9 201.2,722.0 C203.5,721.2 206.2,721.3 207.7,720.5 C209.2,719.7 209.5,718.3 210.4,717.1 C211.3,715.9 212.3,715.0 213.2,713.5 C214.0,712.0 214.8,710.2 215.5,708.1 C216.2,706.1 216.7,703.3 217.3,701.1 C217.9,698.8 218.6,696.2 219.2,694.4 C219.8,692.7 220.4,691.4 221.1,690.5 C221.8,689.7 222.5,689.4 223.4,689.2 C224.2,689.0 225.2,689.1 226.1,689.3 C227.1,689.5 228.0,689.9 228.9,690.3 C229.9,690.8 230.8,691.5 231.7,692.0 C232.6,692.4 233.7,692.5 234.5,693.0 C235.4,693.5 235.8,694.0 236.8,695.1 C237.8,696.1 238.4,697.6 240.6,699.3 C242.8,701.0 247.4,703.5 250.0,705.0 C252.6,706.6 254.2,707.0 256.3,708.5 C258.3,710.0 260.7,712.7 262.5,714.0 C264.3,715.3 265.7,715.6 267.0,716.3 C268.2,716.9 268.9,718.1 269.9,717.9 C271.0,717.6 272.3,716.6 273.4,714.8 C274.6,712.9 275.8,708.8 277.0,706.8 C278.1,704.8 279.4,704.2 280.5,702.6 C281.5,701.0 282.5,697.6 283.4,697.2 C284.3,696.9 284.8,699.9 285.7,700.5 C286.7,701.1 288.3,700.5 289.3,700.8 C290.3,701.2 290.5,702.2 291.6,702.7 C292.8,703.2 294.8,703.2 296.3,703.8 C297.8,704.4 299.0,705.4 300.4,706.4 C301.8,707.3 303.6,709.5 304.8,709.6 C306.0,709.7 306.7,708.9 307.4,707.0 C308.2,705.0 308.7,701.8 309.2,697.7 C309.7,693.5 310.0,691.0 310.7,682.1 C311.3,673.2 312.3,652.4 313.0,644.2 C313.7,636.0 314.3,633.9 315.1,633.0 C315.8,632.1 316.6,634.7 317.6,638.8 C318.5,642.8 319.7,651.6 320.9,657.1 C322.2,662.5 324.1,669.4 325.1,671.7 C326.1,674.0 326.1,673.1 326.8,670.8 C327.5,668.5 328.5,662.9 329.3,657.9 C330.0,652.8 330.7,643.8 331.3,640.6 C331.9,637.4 331.9,639.0 332.7,638.6 C333.5,638.2 335.4,638.2 336.2,638.3 C337.0,638.4 336.7,638.1 337.5,639.2 C338.4,640.4 340.1,645.0 341.0,645.3 C342.0,645.7 342.6,642.6 343.4,641.4 C344.3,640.2 345.0,638.3 345.9,638.1 C346.8,637.9 347.8,639.2 348.7,640.3 C349.5,641.4 350.4,644.3 351.1,644.8 C351.8,645.3 352.2,646.6 352.8,643.3 C353.5,639.9 353.9,632.0 354.9,624.8 C356.0,617.5 358.2,605.3 359.1,599.9 C360.0,594.6 359.7,593.1 360.2,592.4 C360.6,591.7 361.3,595.2 361.9,595.6 C362.5,596.0 363.2,594.1 363.6,594.7 C364.1,595.4 364.2,597.8 364.7,599.4 C365.2,600.9 366.1,603.6 366.8,604.2 C367.4,604.9 367.9,604.1 368.5,603.3 C369.1,602.5 369.7,601.8 370.3,599.4 C370.8,597.0 371.5,593.6 372.0,589.0 C372.5,584.5 372.7,577.1 373.2,572.0 C373.6,566.9 374.1,561.8 374.5,558.2 C375.0,554.6 375.5,552.2 375.9,550.4 C376.4,548.7 377.1,548.2 377.3,547.7" fill="none" stroke="#d84848" stroke-width="1.0" stroke-linejoin="round" stroke-linecap="round" />
<path d="M61.5,692.6 C64.0,693.5 71.4,696.1 76.5,697.9 C81.6,699.7 86.9,701.8 92.1,703.5 C97.3,705.3 103.1,707.1 107.8,708.5 C112.4,709.8 116.1,711.0 119.9,711.8 C123.7,712.5 127.5,712.9 130.5,713.2 C133.6,713.4 135.8,713.1 138.4,713.2 C141.0,713.3 143.7,713.4 146.2,713.6 C148.7,713.8 151.4,714.0 153.2,714.5 C155.0,714.9 155.7,715.5 157.1,716.1 C158.5,716.8 160.0,717.7 161.8,718.4 C163.6,719.1 165.1,719.3 167.9,720.2 C170.6,721.0 175.1,722.6 178.3,723.6 C181.4,724.7 184.0,726.0 186.6,726.5 C189.2,726.9 191.5,726.7 193.9,726.1 C196.3,725.4 198.9,723.4 201.2,722.5 C203.5,721.7 206.2,721.9 207.7,721.1 C209.2,720.3 209.5,718.9 210.4,717.8 C211.3,716.6 212.3,715.7 213.2,714.2 C214.0,712.7 214.8,710.9 215.5,708.8 C216.2,706.8 216.7,704.1 217.3,701.8 C217.9,699.5 218.6,697.0 219.2,695.2 C219.8,693.5 220.4,692.2 221.1,691.3 C221.8,690.4 222.5,690.2 223.4,690.0 C224.2,689.8 225.2,689.9 226.1,690.0 C227.1,690.2 228.0,690.6 228.9,691.0 C229.9,691.5 230.8,692.2 231.7,692.7 C232.6,693.1 233.7,693.1 234.5,693.7 C235.4,694.2 235.8,694.7 236.8,695.7 C237.8,696.8 238.4,698.3 240.6,699.9 C242.8,701.6 247.4,704.1 250.0,705.7 C252.6,707.2 254.2,707.6 256.3,709.1 C258.3,710.6 260.7,713.3 262.5,714.6 C264.3,715.9 265.7,716.2 267.0,716.9 C268.2,717.5 268.9,718.7 269.9,718.5 C271.0,718.3 272.3,717.2 273.4,715.4 C274.6,713.6 275.8,709.5 277.0,707.5 C278.1,705.4 279.4,704.9 280.5,703.3 C281.5,701.7 282.5,698.3 283.4,698.0 C284.3,697.6 284.8,700.6 285.7,701.3 C286.7,701.9 288.3,701.3 289.3,701.6 C290.3,702.0 290.5,703.0 291.6,703.5 C292.8,704.0 294.8,704.1 296.3,704.7 C297.8,705.3 299.0,706.3 300.4,707.3 C301.8,708.3 303.6,710.5 304.8,710.6 C306.0,710.8 306.7,710.1 307.4,708.2 C308.2,706.3 308.7,703.3 309.2,699.4 C309.7,695.5 310.0,693.2 310.7,684.8 C311.3,676.4 312.3,656.7 313.0,649.1 C313.7,641.6 314.3,640.3 315.1,639.5 C315.8,638.8 316.6,641.3 317.6,644.7 C318.5,648.1 319.7,655.2 320.9,659.9 C322.2,664.7 324.1,671.2 325.1,673.3 C326.1,675.3 326.1,674.5 326.8,672.1 C327.5,669.8 328.5,664.2 329.3,659.1 C330.0,654.0 330.7,644.8 331.3,641.6 C331.9,638.3 331.9,640.0 332.7,639.5 C333.5,639.1 335.4,639.0 336.2,639.1 C337.0,639.1 336.7,638.8 337.5,640.0 C338.4,641.1 340.1,645.7 341.0,646.1 C342.0,646.5 342.6,643.4 343.4,642.2 C344.3,641.0 345.0,639.1 345.9,638.9 C346.8,638.8 347.8,640.0 348.7,641.1 C349.5,642.2 350.4,645.2 351.1,645.7 C351.8,646.2 352.2,647.5 352.8,644.1 C353.5,640.8 353.9,632.8 354.9,625.6 C356.0,618.4 358.2,606.2 359.1,600.8 C360.0,595.4 359.7,594.0 360.2,593.3 C360.6,592.6 361.3,596.1 361.9,596.5 C362.5,596.9 363.2,595.0 363.6,595.6 C364.1,596.3 364.2,598.7 364.7,600.3 C365.2,601.8 366.1,604.5 366.8,605.1 C367.4,605.8 367.9,605.1 368.5,604.3 C369.1,603.4 369.7,602.7 370.3,600.3 C370.8,597.9 371.5,594.5 372.0,589.9 C372.5,585.4 372.7,578.0 373.2,572.9 C373.6,567.8 374.1,562.7 374.5,559.1 C375.0,555.6 375.5,553.1 375.9,551.3 C376.4,549.6 377.1,549.1 377.3,548.7" fill="none" stroke="#c53030" stroke-width="1.0" stroke-linejoin="round" stroke-linecap="round" />
<path d="M61.5,693.2 C64.0,694.0 71.4,696.6 76.5,698.4 C81.6,700.2 86.9,702.3 92.1,704.0 C97.3,705.8 103.1,707.6 107.8,708.9 C112.4,710.3 116.1,711.4 119.9,712.2 C123.7,713.0 127.5,713.4 130.5,713.6 C133.6,713.8 135.8,713.6 138.4,713.6 C141.0,713.7 143.7,713.8 146.2,714.0 C148.7,714.2 151.4,714.4 153.2,714.8 C155.0,715.3 155.7,715.9 157.1,716.5 C158.5,717.2 160.0,718.1 161.8,718.8 C163.6,719.4 165.1,719.7 167.9,720.5 C170.6,721.4 175.1,722.9 178.3,723.9 C181.4,725.0 184.0,726.3 186.6,726.8 C189.2,727.2 191.5,727.1 193.9,726.5 C196.3,725.9 198.9,723.8 201.2,723.0 C203.5,722.2 206.2,722.5 207.7,721.7 C209.2,721.0 209.5,719.5 210.4,718.4 C211.3,717.3 212.3,716.3 213.2,714.9 C214.0,713.4 214.8,711.6 215.5,709.6 C216.2,707.5 216.7,704.8 217.3,702.6 C217.9,700.3 218.6,697.7 219.2,696.0 C219.8,694.2 220.4,693.0 221.1,692.1 C221.8,691.2 222.5,691.0 223.4,690.7 C224.2,690.5 225.2,690.6 226.1,690.8 C227.1,691.0 228.0,691.3 228.9,691.7 C229.9,692.2 230.8,692.9 231.7,693.4 C232.6,693.8 233.7,693.8 234.5,694.3 C235.4,694.8 235.8,695.4 236.8,696.4 C237.8,697.4 238.4,698.9 240.6,700.6 C242.8,702.2 247.4,704.7 250.0,706.3 C252.6,707.8 254.2,708.2 256.3,709.7 C258.3,711.2 260.7,713.9 262.5,715.2 C264.3,716.5 265.7,716.8 267.0,717.5 C268.2,718.1 268.9,719.3 269.9,719.1 C271.0,718.9 272.3,717.8 273.4,716.0 C274.6,714.2 275.8,710.1 277.0,708.1 C278.1,706.1 279.4,705.6 280.5,704.0 C281.5,702.4 282.5,699.0 283.4,698.7 C284.3,698.4 284.8,701.4 285.7,702.0 C286.7,702.6 288.3,702.0 289.3,702.4 C290.3,702.8 290.5,703.8 291.6,704.3 C292.8,704.9 294.8,704.9 296.3,705.6 C297.8,706.2 299.0,707.2 300.4,708.2 C301.8,709.2 303.6,711.4 304.8,711.6 C306.0,711.8 306.7,711.2 307.4,709.4 C308.2,707.7 308.7,704.8 309.2,701.2 C309.7,697.5 310.0,695.3 310.7,687.4 C311.3,679.6 312.3,660.9 313.0,654.0 C313.7,647.1 314.3,646.7 315.1,646.1 C315.8,645.6 316.6,647.9 317.6,650.7 C318.5,653.5 319.7,658.8 320.9,662.8 C322.2,666.9 324.1,673.0 325.1,674.8 C326.1,676.6 326.1,676.0 326.8,673.5 C327.5,671.1 328.5,665.4 329.3,660.2 C330.0,655.1 330.7,645.9 331.3,642.6 C331.9,639.3 331.9,640.9 332.7,640.5 C333.5,640.0 335.4,639.8 336.2,639.8 C337.0,639.8 336.7,639.5 337.5,640.7 C338.4,641.9 340.1,646.5 341.0,646.9 C342.0,647.3 342.6,644.2 343.4,643.0 C344.3,641.8 345.0,639.9 345.9,639.7 C346.8,639.6 347.8,640.8 348.7,641.9 C349.5,643.1 350.4,646.0 351.1,646.5 C351.8,647.0 352.2,648.3 352.8,645.0 C353.5,641.6 353.9,633.7 354.9,626.5 C356.0,619.3 358.2,607.1 359.1,601.7 C360.0,596.3 359.7,594.9 360.2,594.2 C360.6,593.5 361.3,597.0 361.9,597.4 C362.5,597.8 363.2,595.9 363.6,596.5 C364.1,597.2 364.2,599.6 364.7,601.2 C365.2,602.8 366.1,605.4 366.8,606.0 C367.4,606.7 367.9,606.0 368.5,605.2 C369.1,604.4 369.7,603.6 370.3,601.2 C370.8,598.8 371.5,595.4 372.0,590.8 C372.5,586.3 372.7,578.9 373.2,573.8 C373.6,568.7 374.1,563.7 374.5,560.1 C375.0,556.5 375.5,554.0 375.9,552.2 C376.4,550.5 377.1,550.0 377.3,549.6" fill="none" stroke="#b31818" stroke-width="1.0" stroke-linejoin="round" stroke-linecap="round" />
<path d="M61.5,693.7 C64.0,694.5 71.4,697.1 76.5,698.9 C81.6,700.7 86.9,702.8 92.1,704.5 C97.3,706.3 103.1,708.0 107.8,709.4 C112.4,710.8 116.1,711.9 119.9,712.6 C123.7,713.4 127.5,713.8 130.5,714.0 C133.6,714.3 135.8,714.0 138.4,714.0 C141.0,714.1 143.7,714.2 146.2,714.4 C148.7,714.6 151.4,714.8 153.2,715.2 C155.0,715.7 155.7,716.2 157.1,716.9 C158.5,717.5 160.0,718.5 161.8,719.2 C163.6,719.8 165.1,720.0 167.9,720.9 C170.6,721.7 175.1,723.2 178.3,724.3 C181.4,725.3 184.0,726.6 186.6,727.1 C189.2,727.5 191.5,727.5 193.9,726.9 C196.3,726.3 198.9,724.3 201.2,723.5 C203.5,722.8 206.2,723.1 207.7,722.3 C209.2,721.6 209.5,720.2 210.4,719.0 C211.3,717.9 212.3,717.0 213.2,715.6 C214.0,714.1 214.8,712.3 215.5,710.3 C216.2,708.3 216.7,705.6 217.3,703.3 C217.9,701.1 218.6,698.5 219.2,696.8 C219.8,695.0 220.4,693.7 221.1,692.9 C221.8,692.0 222.5,691.7 223.4,691.5 C224.2,691.3 225.2,691.4 226.1,691.5 C227.1,691.7 228.0,692.0 228.9,692.5 C229.9,692.9 230.8,693.7 231.7,694.1 C232.6,694.5 233.7,694.5 234.5,695.0 C235.4,695.5 235.8,696.0 236.8,697.1 C237.8,698.1 238.4,699.6 240.6,701.2 C242.8,702.9 247.4,705.3 250.0,706.9 C252.6,708.4 254.2,708.8 256.3,710.3 C258.3,711.8 260.7,714.5 262.5,715.8 C264.3,717.1 265.7,717.4 267.0,718.1 C268.2,718.7 268.9,719.9 269.9,719.7 C271.0,719.5 272.3,718.5 273.4,716.6 C274.6,714.8 275.8,710.8 277.0,708.8 C278.1,706.8 279.4,706.2 280.5,704.7 C281.5,703.1 282.5,699.8 283.4,699.4 C284.3,699.1 284.8,702.1 285.7,702.8 C286.7,703.4 288.3,702.8 289.3,703.2 C290.3,703.6 290.5,704.6 291.6,705.2 C292.8,705.7 294.8,705.8 296.3,706.4 C297.8,707.1 299.0,708.1 300.4,709.1 C301.8,710.2 303.6,712.4 304.8,712.6 C306.0,712.9 306.7,712.3 307.4,710.7 C308.2,709.1 308.7,706.4 309.2,702.9 C309.7,699.5 310.0,697.4 310.7,690.1 C311.3,682.7 312.3,665.2 313.0,658.9 C313.7,652.7 314.3,653.1 315.1,652.7 C315.8,652.3 316.6,654.6 317.6,656.7 C318.5,658.9 319.7,662.5 320.9,665.7 C322.2,669.0 324.1,674.9 325.1,676.4 C326.1,677.9 326.1,677.4 326.8,674.9 C327.5,672.4 328.5,666.6 329.3,661.4 C330.0,656.2 330.7,647.0 331.3,643.6 C331.9,640.3 331.9,641.9 332.7,641.4 C333.5,640.9 335.4,640.5 336.2,640.5 C337.0,640.5 336.7,640.3 337.5,641.4 C338.4,642.6 340.1,647.2 341.0,647.6 C342.0,648.0 342.6,645.0 343.4,643.8 C344.3,642.6 345.0,640.7 345.9,640.5 C346.8,640.4 347.8,641.6 348.7,642.7 C349.5,643.9 350.4,646.8 351.1,647.3 C351.8,647.8 352.2,649.1 352.8,645.8 C353.5,642.5 353.9,634.5 354.9,627.3 C356.0,620.1 358.2,608.0 359.1,602.6 C360.0,597.2 359.7,595.8 360.2,595.1 C360.6,594.4 361.3,597.9 361.9,598.3 C362.5,598.7 363.2,596.8 363.6,597.4 C364.1,598.1 364.2,600.5 364.7,602.1 C365.2,603.7 366.1,606.3 366.8,606.9 C367.4,607.6 367.9,606.9 368.5,606.1 C369.1,605.3 369.7,604.5 370.3,602.1 C370.8,599.7 371.5,596.3 372.0,591.7 C372.5,587.2 372.7,579.8 373.2,574.7 C373.6,569.6 374.1,564.6 374.5,561.0 C375.0,557.4 375.5,554.9 375.9,553.1 C376.4,551.4 377.1,550.9 377.3,550.5" fill="none" stroke="#a00000" stroke-width="1.0" stroke-linejoin="round" stroke-linecap="round" />
<path d="M61.5,694.2 C64.0,695.0 71.4,697.6 76.5,699.4 C81.6,701.2 86.9,703.2 92.1,705.0 C97.3,706.7 103.1,708.5 107.8,709.9 C112.4,711.2 116.1,712.3 119.9,713.1 C123.7,713.9 127.5,714.2 130.5,714.5 C133.6,714.7 135.8,714.4 138.4,714.5 C141.0,714.5 143.7,714.6 146.2,714.8 C148.7,715.0 151.4,715.2 153.2,715.6 C155.0,716.0 155.7,716.6 157.1,717.3 C158.5,717.9 160.0,718.9 161.8,719.5 C163.6,720.2 165.1,720.4 167.9,721.2 C170.6,722.1 175.1,723.6 178.3,724.6 C181.4,725.6 184.0,726.9 186.6,727.4 C189.2,727.8 191.5,727.8 193.9,727.3 C196.3,726.7 198.9,724.8 201.2,724.1 C203.5,723.3 206.2,723.7 207.7,722.9 C209.2,722.2 209.5,720.8 210.4,719.7 C211.3,718.6 212.3,717.7 213.2,716.2 C214.0,714.8 214.8,713.0 215.5,711.0 C216.2,709.0 216.7,706.3 217.3,704.1 C217.9,701.8 218.6,699.3 219.2,697.5 C219.8,695.8 220.4,694.5 221.1,693.6 C221.8,692.8 222.5,692.5 223.4,692.3 C224.2,692.0 225.2,692.1 226.1,692.3 C227.1,692.4 228.0,692.8 228.9,693.2 C229.9,693.6 230.8,694.4 231.7,694.8 C232.6,695.2 233.7,695.2 234.5,695.7 C235.4,696.2 235.8,696.7 236.8,697.7 C237.8,698.8 238.4,700.2 240.6,701.9 C242.8,703.5 247.4,706.0 250.0,707.5 C252.6,709.0 254.2,709.4 256.3,710.9 C258.3,712.4 260.7,715.1 262.5,716.4 C264.3,717.7 265.7,718.0 267.0,718.7 C268.2,719.3 268.9,720.5 269.9,720.3 C271.0,720.1 272.3,719.1 273.4,717.3 C274.6,715.4 275.8,711.4 277.0,709.4 C278.1,707.5 279.4,706.9 280.5,705.4 C281.5,703.8 282.5,700.5 283.4,700.2 C284.3,699.9 284.8,702.9 285.7,703.5 C286.7,704.2 288.3,703.6 289.3,704.0 C290.3,704.4 290.5,705.4 291.6,706.0 C292.8,706.5 294.8,706.6 296.3,707.3 C297.8,708.0 299.0,709.0 300.4,710.1 C301.8,711.1 303.6,713.3 304.8,713.6 C306.0,713.9 306.7,713.4 307.4,711.8 C308.2,710.2 308.7,707.5 309.2,704.0 C309.7,700.6 310.0,698.5 310.7,691.2 C311.3,683.9 312.3,666.4 313.0,660.2 C313.7,654.0 314.3,654.3 315.1,654.0 C315.8,653.6 316.6,655.9 317.6,658.1 C318.5,660.3 319.7,663.9 320.9,667.2 C322.2,670.5 324.1,676.3 325.1,677.9 C326.1,679.4 326.1,678.8 326.8,676.2 C327.5,673.7 328.5,667.8 329.3,662.6 C330.0,657.3 330.7,648.0 331.3,644.6 C331.9,641.3 331.9,642.9 332.7,642.3 C333.5,641.7 335.4,641.3 336.2,641.3 C337.0,641.2 336.7,641.0 337.5,642.2 C338.4,643.4 340.1,648.0 341.0,648.4 C342.0,648.8 342.6,645.7 343.4,644.6 C344.3,643.4 345.0,641.5 345.9,641.3 C346.8,641.2 347.8,642.4 348.7,643.6 C349.5,644.7 350.4,647.6 351.1,648.2 C351.8,648.7 352.2,650.0 352.8,646.7 C353.5,643.3 353.9,635.4 354.9,628.2 C356.0,621.0 358.2,608.9 359.1,603.5 C360.0,598.1 359.7,596.7 360.2,596.0 C360.6,595.3 361.3,598.8 361.9,599.2 C362.5,599.6 363.2,597.7 363.6,598.4 C364.1,599.0 364.2,601.4 364.7,603.0 C365.2,604.6 366.1,607.2 366.8,607.8 C367.4,608.5 367.9,607.8 368.5,607.0 C369.1,606.2 369.7,605.4 370.3,603.0 C370.8,600.6 371.5,597.2 372.0,592.6 C372.5,588.1 372.7,580.7 373.2,575.6 C373.6,570.5 374.1,565.5 374.5,561.9 C375.0,558.3 375.5,555.8 375.9,554.0 C376.4,552.3 377.1,551.8 377.3,551.4" fill="none" stroke="#ab0808" stroke-width="1.0" stroke-linejoin="round" stroke-linecap="round" />
<path d="M61.5,694.7 C64.0,695.6 71.4,698.1 76.5,699.9 C81.6,701.7 86.9,703.7 92.1,705.5 C97.3,707.2 103.1,709.0 107.8,710.3 C112.4,711.7 116.1,712.8 119.9,713.5 C123.7,714.3 127.5,714.7 130.5,714.9 C133.6,715.1 135.8,714.8 138.4,714.9 C141.0,714.9 143.7,715.0 146.2,715.2 C148.7,715.4 151.4,715.6 153.2,716.0 C155.0,716.4 155.7,717.0 157.1,717.7 C158.5,718.3 160.0,719.2 161.8,719.9 C163.6,720.5 165.1,720.7 167.9,721.6 C170.6,722.4 175.1,723.9 178.3,724.9 C181.4,725.9 184.0,727.2 186.6,727.7 C189.2,728.1 191.5,728.2 193.9,727.7 C196.3,727.2 198.9,725.3 201.2,724.6 C203.5,723.9 206.2,724.2 207.7,723.5 C209.2,722.8 209.5,721.4 210.4,720.3 C211.3,719.2 212.3,718.4 213.2,716.9 C214.0,715.5 214.8,713.8 215.5,711.7 C216.2,709.7 216.7,707.1 217.3,704.8 C217.9,702.6 218.6,700.1 219.2,698.3 C219.8,696.6 220.4,695.3 221.1,694.4 C221.8,693.5 222.5,693.2 223.4,693.0 C224.2,692.8 225.2,692.9 226.1,693.0 C227.1,693.1 228.0,693.5 228.9,693.9 C229.9,694.3 230.8,695.1 231.7,695.5 C232.6,695.9 233.7,695.9 234.5,696.4 C235.4,696.9 235.8,697.4 236.8,698.4 C237.8,699.4 238.4,700.9 240.6,702.5 C242.8,704.1 247.4,706.6 250.0,708.1 C252.6,709.6 254.2,710.0 256.3,711.5 C258.3,713.0 260.7,715.7 262.5,717.0 C264.3,718.3 265.7,718.6 267.0,719.3 C268.2,719.9 268.9,721.1 269.9,720.9 C271.0,720.7 272.3,719.7 273.4,717.9 C274.6,716.1 275.8,712.1 277.0,710.1 C278.1,708.1 279.4,707.6 280.5,706.1 C281.5,704.5 282.5,701.2 283.4,700.9 C284.3,700.6 284.8,703.6 285.7,704.3 C286.7,704.9 288.3,704.4 289.3,704.8 C290.3,705.2 290.5,706.3 291.6,706.8 C292.8,707.4 294.8,707.5 296.3,708.2 C297.8,708.9 299.0,709.9 300.4,711.0 C301.8,712.1 303.6,714.3 304.8,714.6 C306.0,714.9 306.7,714.4 307.4,712.8 C308.2,711.3 308.7,708.6 309.2,705.2 C309.7,701.8 310.0,699.7 310.7,692.4 C311.3,685.1 312.3,667.6 313.0,661.4 C313.7,655.2 314.3,655.6 315.1,655.3 C315.8,654.9 316.6,657.2 317.6,659.4 C318.5,661.6 319.7,665.3 320.9,668.6 C322.2,671.9 324.1,677.8 325.1,679.3 C326.1,680.8 326.1,680.2 326.8,677.6 C327.5,675.0 328.5,669.1 329.3,663.7 C330.0,658.4 330.7,649.1 331.3,645.7 C331.9,642.2 331.9,643.8 332.7,643.2 C333.5,642.6 335.4,642.0 336.2,642.0 C337.0,641.9 336.7,641.7 337.5,642.9 C338.4,644.1 340.1,648.8 341.0,649.2 C342.0,649.6 342.6,646.5 343.4,645.3 C344.3,644.2 345.0,642.3 345.9,642.1 C346.8,642.0 347.8,643.2 348.7,644.4 C349.5,645.5 350.4,648.5 351.1,649.0 C351.8,649.5 352.2,650.8 352.8,647.5 C353.5,644.2 353.9,636.2 354.9,629.0 C356.0,621.9 358.2,609.7 359.1,604.4 C360.0,599.0 359.7,597.6 360.2,596.9 C360.6,596.2 361.3,599.7 361.9,600.1 C362.5,600.5 363.2,598.6 363.6,599.3 C364.1,599.9 364.2,602.3 364.7,603.9 C365.2,605.5 366.1,608.1 366.8,608.7 C367.4,609.4 367.9,608.7 368.5,607.9 C369.1,607.1 369.7,606.3 370.3,603.9 C370.8,601.5 371.5,598.1 372.0,593.5 C372.5,589.0 372.7,581.6 373.2,576.5 C373.6,571.4 374.1,566.4 374.5,562.8 C375.0,559.2 375.5,556.7 375.9,554.9 C376.4,553.2 377.1,552.7 377.3,552.3" fill="none" stroke="#b51010" stroke-width="1.0" stroke-linejoin="round" stroke-linecap="round" />
<path d="M61.5,695.2 C64.0,696.1 71.4,698.6 76.5,700.4 C81.6,702.2 86.9,704.2 92.1,705.9 C97.3,707.7 103.1,709.4 107.8,710.8 C112.4,712.1 116.1,713.2 119.9,714.0 C123.7,714.7 127.5,715.1 130.5,715.3 C133.6,715.6 135.8,715.3 138.4,715.3 C141.0,715.4 143.7,715.4 146.2,715.6 C148.7,715.8 151.4,716.0 153.2,716.4 C155.0,716.8 155.7,717.4 157.1,718.0 C158.5,718.7 160.0,719.6 161.8,720.3 C163.6,720.9 165.1,721.1 167.9,721.9 C170.6,722.8 175.1,724.2 178.3,725.2 C181.4,726.2 184.0,727.5 186.6,728.0 C189.2,728.4 191.5,728.6 193.9,728.1 C196.3,727.6 198.9,725.7 201.2,725.1 C203.5,724.4 206.2,724.8 207.7,724.1 C209.2,723.5 209.5,722.1 210.4,721.0 C211.3,719.9 212.3,719.0 213.2,717.6 C214.0,716.2 214.8,714.5 215.5,712.5 C216.2,710.5 216.7,707.8 217.3,705.6 C217.9,703.3 218.6,700.8 219.2,699.1 C219.8,697.4 220.4,696.1 221.1,695.2 C221.8,694.3 222.5,694.0 223.4,693.8 C224.2,693.5 225.2,693.6 226.1,693.7 C227.1,693.9 228.0,694.2 228.9,694.6 C229.9,695.0 230.8,695.8 231.7,696.2 C232.6,696.6 233.7,696.6 234.5,697.1 C235.4,697.5 235.8,698.0 236.8,699.1 C237.8,700.1 238.4,701.5 240.6,703.1 C242.8,704.7 247.4,707.2 250.0,708.7 C252.6,710.2 254.2,710.6 256.3,712.1 C258.3,713.6 260.7,716.4 262.5,717.6 C264.3,718.9 265.7,719.2 267.0,719.9 C268.2,720.5 268.9,721.7 269.9,721.5 C271.0,721.3 272.3,720.3 273.4,718.5 C274.6,716.7 275.8,712.7 277.0,710.8 C278.1,708.8 279.4,708.3 280.5,706.8 C281.5,705.3 282.5,701.9 283.4,701.6 C284.3,701.4 284.8,704.4 285.7,705.1 C286.7,705.7 288.3,705.2 289.3,705.6 C290.3,706.1 290.5,707.1 291.6,707.6 C292.8,708.2 294.8,708.4 296.3,709.1 C297.8,709.8 299.0,710.8 300.4,711.9 C301.8,713.0 303.6,715.3 304.8,715.6 C306.0,716.0 306.7,715.5 307.4,713.9 C308.2,712.4 308.7,709.7 309.2,706.3 C309.7,702.9 310.0,700.9 310.7,693.6 C311.3,686.3 312.3,668.8 313.0,662.6 C313.7,656.5 314.3,656.9 315.1,656.5 C315.8,656.2 316.6,658.5 317.6,660.8 C318.5,663.0 319.7,666.6 320.9,670.0 C322.2,673.3 324.1,679.3 325.1,680.8 C326.1,682.3 326.1,681.6 326.8,679.0 C327.5,676.3 328.5,670.3 329.3,664.9 C330.0,659.5 330.7,650.2 331.3,646.7 C331.9,643.2 331.9,644.8 332.7,644.1 C333.5,643.5 335.4,642.8 336.2,642.7 C337.0,642.6 336.7,642.5 337.5,643.7 C338.4,644.9 340.1,649.5 341.0,649.9 C342.0,650.3 342.6,647.3 343.4,646.1 C344.3,644.9 345.0,643.1 345.9,642.9 C346.8,642.8 347.8,644.0 348.7,645.2 C349.5,646.3 350.4,649.3 351.1,649.8 C351.8,650.3 352.2,651.7 352.8,648.3 C353.5,645.0 353.9,637.1 354.9,629.9 C356.0,622.7 358.2,610.6 359.1,605.3 C360.0,599.9 359.7,598.5 360.2,597.8 C360.6,597.1 361.3,600.6 361.9,601.0 C362.5,601.4 363.2,599.5 363.6,600.2 C364.1,600.8 364.2,603.2 364.7,604.8 C365.2,606.4 366.1,609.0 366.8,609.6 C367.4,610.3 367.9,609.6 368.5,608.8 C369.1,608.0 369.7,607.2 370.3,604.8 C370.8,602.4 371.5,599.0 372.0,594.5 C372.5,589.9 372.7,582.5 373.2,577.4 C373.6,572.3 374.1,567.3 374.5,563.7 C375.0,560.1 375.5,557.6 375.9,555.8 C376.4,554.1 377.1,553.6 377.3,553.2" fill="none" stroke="#c01818" stroke-width="1.0" stroke-linejoin="round" stroke-linecap="round" />
<path d="M61.5,695.7 C64.0,696.6 71.4,699.1 76.5,700.9 C81.6,702.7 86.9,704.7 92.1,706.4 C97.3,708.1 103.1,709.9 107.8,711.2 C112.4,712.6 116.1,713.7 119.9,714.4 C123.7,715.2 127.5,715.6 130.5,715.8 C133.6,716.0 135.8,715.7 138.4,715.7 C141.0,715.8 143.7,715.9 146.2,716.0 C148.7,716.2 151.4,716.4 153.2,716.8 C155.0,717.2 155.7,717.8 157.1,718.4 C158.5,719.1 160.0,720.0 161.8,720.6 C163.6,721.3 165.1,721.5 167.9,722.3 C170.6,723.1 175.1,724.6 178.3,725.6 C181.4,726.6 184.0,727.8 186.6,728.3 C189.2,728.8 191.5,728.9 193.9,728.5 C196.3,728.0 198.9,726.2 201.2,725.6 C203.5,725.0 206.2,725.4 207.7,724.7 C209.2,724.1 209.5,722.7 210.4,721.6 C211.3,720.6 212.3,719.7 213.2,718.3 C214.0,716.9 214.8,715.2 215.5,713.2 C216.2,711.2 216.7,708.5 217.3,706.3 C217.9,704.1 218.6,701.6 219.2,699.9 C219.8,698.2 220.4,696.8 221.1,696.0 C221.8,695.1 222.5,694.8 223.4,694.5 C224.2,694.3 225.2,694.3 226.1,694.5 C227.1,694.6 228.0,694.9 228.9,695.3 C229.9,695.7 230.8,696.5 231.7,696.9 C232.6,697.3 233.7,697.3 234.5,697.7 C235.4,698.2 235.8,698.7 236.8,699.7 C237.8,700.7 238.4,702.2 240.6,703.8 C242.8,705.4 247.4,707.8 250.0,709.3 C252.6,710.8 254.2,711.2 256.3,712.7 C258.3,714.2 260.7,717.0 262.5,718.2 C264.3,719.5 265.7,719.8 267.0,720.5 C268.2,721.1 268.9,722.3 269.9,722.1 C271.0,721.9 272.3,720.9 273.4,719.1 C274.6,717.3 275.8,713.4 277.0,711.4 C278.1,709.5 279.4,709.0 280.5,707.5 C281.5,706.0 282.5,702.7 283.4,702.4 C284.3,702.1 284.8,705.1 285.7,705.8 C286.7,706.5 288.3,706.0 289.3,706.4 C290.3,706.9 290.5,707.9 291.6,708.5 C292.8,709.1 294.8,709.2 296.3,710.0 C297.8,710.7 299.0,711.7 300.4,712.8 C301.8,714.0 303.6,716.3 304.8,716.6 C306.0,717.0 306.7,716.5 307.4,715.0 C308.2,713.5 308.7,710.8 309.2,707.4 C309.7,704.1 310.0,702.0 310.7,694.8 C311.3,687.5 312.3,670.0 313.0,663.9 C313.7,657.7 314.3,658.1 315.1,657.8 C315.8,657.5 316.6,659.8 317.6,662.1 C318.5,664.4 319.7,668.0 320.9,671.4 C322.2,674.8 324.1,680.8 325.1,682.3 C326.1,683.8 326.1,683.0 326.8,680.3 C327.5,677.6 328.5,671.5 329.3,666.1 C330.0,660.6 330.7,651.2 331.3,647.7 C331.9,644.2 331.9,645.8 332.7,645.0 C333.5,644.3 335.4,643.6 336.2,643.4 C337.0,643.3 336.7,643.2 337.5,644.4 C338.4,645.6 340.1,650.3 341.0,650.7 C342.0,651.1 342.6,648.1 343.4,646.9 C344.3,645.7 345.0,643.9 345.9,643.7 C346.8,643.6 347.8,644.8 348.7,646.0 C349.5,647.2 350.4,650.1 351.1,650.7 C351.8,651.2 352.2,652.5 352.8,649.2 C353.5,645.9 353.9,637.9 354.9,630.8 C356.0,623.6 358.2,611.5 359.1,606.2 C360.0,600.8 359.7,599.4 360.2,598.7 C360.6,598.0 361.3,601.5 361.9,601.9 C362.5,602.3 363.2,600.4 363.6,601.1 C364.1,601.7 364.2,604.1 364.7,605.7 C365.2,607.3 366.1,609.9 366.8,610.6 C367.4,611.2 367.9,610.5 368.5,609.7 C369.1,608.9 369.7,608.1 370.3,605.7 C370.8,603.3 371.5,599.9 372.0,595.4 C372.5,590.8 372.7,583.5 373.2,578.3 C373.6,573.2 374.1,568.2 374.5,564.6 C375.0,561.0 375.5,558.5 375.9,556.7 C376.4,555.0 377.1,554.5 377.3,554.1" fill="none" stroke="#d14848" stroke-width="1.0" stroke-linejoin="round" stroke-linecap="round" />
<path d="M61.5,696.2 C64.0,697.1 71.4,699.6 76.5,701.4 C81.6,703.1 86.9,705.2 92.1,706.9 C97.3,708.6 103.1,710.4 107.8,711.7 C112.4,713.0 116.1,714.1 119.9,714.9 C123.7,715.6 127.5,716.0 130.5,716.2 C133.6,716.4 135.8,716.1 138.4,716.2 C141.0,716.2 143.7,716.3 146.2,716.4 C148.7,716.6 151.4,716.8 153.2,717.2 C155.0,717.6 155.7,718.2 157.1,718.8 C158.5,719.4 160.0,720.3 161.8,721.0 C163.6,721.6 165.1,721.8 167.9,722.6 C170.6,723.5 175.1,724.9 178.3,725.9 C181.4,726.9 184.0,728.1 186.6,728.6 C189.2,729.1 191.5,729.3 193.9,728.9 C196.3,728.4 198.9,726.7 201.2,726.1 C203.5,725.5 206.2,726.0 207.7,725.4 C209.2,724.7 209.5,723.3 210.4,722.3 C211.3,721.2 212.3,720.4 213.2,719.0 C214.0,717.6 214.8,715.9 215.5,713.9 C216.2,711.9 216.7,709.3 217.3,707.1 C217.9,704.9 218.6,702.4 219.2,700.7 C219.8,698.9 220.4,697.6 221.1,696.7 C221.8,695.8 222.5,695.5 223.4,695.3 C224.2,695.0 225.2,695.1 226.1,695.2 C227.1,695.3 228.0,695.7 228.9,696.1 C229.9,696.5 230.8,697.2 231.7,697.6 C232.6,698.0 233.7,698.0 234.5,698.4 C235.4,698.9 235.8,699.4 236.8,700.4 C237.8,701.4 238.4,702.8 240.6,704.4 C242.8,706.0 247.4,708.4 250.0,709.9 C252.6,711.4 254.2,711.8 256.3,713.3 C258.3,714.8 260.7,717.6 262.5,718.8 C264.3,720.1 265.7,720.4 267.0,721.1 C268.2,721.7 268.9,722.9 269.9,722.7 C271.0,722.5 272.3,721.5 273.4,719.7 C274.6,718.0 275.8,714.0 277.0,712.1 C278.1,710.2 279.4,709.7 280.5,708.2 C281.5,706.7 282.5,703.4 283.4,703.1 C284.3,702.8 284.8,705.9 285.7,706.6 C286.7,707.3 288.3,706.8 289.3,707.2 C290.3,707.7 290.5,708.7 291.6,709.3 C292.8,709.9 294.8,710.1 296.3,710.8 C297.8,711.6 299.0,712.6 300.4,713.8 C301.8,714.9 303.6,717.2 304.8,717.6 C306.0,718.0 306.7,717.6 307.4,716.1 C308.2,714.6 308.7,711.9 309.2,708.6 C309.7,705.2 310.0,703.2 310.7,696.0 C311.3,688.7 312.3,671.3 313.0,665.1 C313.7,659.0 314.3,659.4 315.1,659.1 C315.8,658.8 316.6,661.2 317.6,663.4 C318.5,665.7 319.7,669.4 320.9,672.8 C322.2,676.2 324.1,682.3 325.1,683.8 C326.1,685.3 326.1,684.4 326.8,681.7 C327.5,678.9 328.5,672.7 329.3,667.3 C330.0,661.8 330.7,652.3 331.3,648.7 C331.9,645.2 331.9,646.7 332.7,646.0 C333.5,645.2 335.4,644.3 336.2,644.2 C337.0,644.0 336.7,643.9 337.5,645.1 C338.4,646.4 340.1,651.0 341.0,651.5 C342.0,651.9 342.6,648.8 343.4,647.7 C344.3,646.5 345.0,644.7 345.9,644.5 C346.8,644.4 347.8,645.7 348.7,646.8 C349.5,648.0 350.4,651.0 351.1,651.5 C351.8,652.0 352.2,653.3 352.8,650.0 C353.5,646.7 353.9,638.8 354.9,631.6 C356.0,624.5 358.2,612.4 359.1,607.0 C360.0,601.7 359.7,600.3 360.2,599.6 C360.6,598.9 361.3,602.4 361.9,602.8 C362.5,603.2 363.2,601.3 363.6,602.0 C364.1,602.6 364.2,605.0 364.7,606.6 C365.2,608.2 366.1,610.8 366.8,611.5 C367.4,612.1 367.9,611.4 368.5,610.6 C369.1,609.8 369.7,609.0 370.3,606.6 C370.8,604.3 371.5,600.8 372.0,596.3 C372.5,591.7 372.7,584.4 373.2,579.2 C373.6,574.1 374.1,569.1 374.5,565.5 C375.0,561.9 375.5,559.4 375.9,557.6 C376.4,555.9 377.1,555.4 377.3,555.0" fill="none" stroke="#e17878" stroke-width="1.0" stroke-linejoin="round" stroke-linecap="round" />
<path d="M61.5,696.7 C64.0,697.6 71.4,700.1 76.5,701.9 C81.6,703.6 86.9,705.7 92.1,707.4 C97.3,709.1 103.1,710.8 107.8,712.2 C112.4,713.5 116.1,714.6 119.9,715.3 C123.7,716.1 127.5,716.4 130.5,716.6 C133.6,716.9 135.8,716.6 138.4,716.6 C141.0,716.6 143.7,716.7 146.2,716.8 C148.7,717.0 151.4,717.2 153.2,717.6 C155.0,718.0 155.7,718.5 157.1,719.2 C158.5,719.8 160.0,720.7 161.8,721.4 C163.6,722.0 165.1,722.2 167.9,723.0 C170.6,723.8 175.1,725.2 178.3,726.2 C181.4,727.2 184.0,728.4 186.6,728.9 C189.2,729.4 191.5,729.6 193.9,729.3 C196.3,728.9 198.9,727.1 201.2,726.6 C203.5,726.0 206.2,726.6 207.7,726.0 C209.2,725.3 209.5,724.0 210.4,722.9 C211.3,721.9 212.3,721.1 213.2,719.7 C214.0,718.3 214.8,716.6 215.5,714.6 C216.2,712.7 216.7,710.0 217.3,707.8 C217.9,705.6 218.6,703.2 219.2,701.4 C219.8,699.7 220.4,698.4 221.1,697.5 C221.8,696.6 222.5,696.3 223.4,696.0 C224.2,695.8 225.2,695.8 226.1,696.0 C227.1,696.1 228.0,696.4 228.9,696.8 C229.9,697.2 230.8,697.9 231.7,698.3 C232.6,698.7 233.7,698.6 234.5,699.1 C235.4,699.6 235.8,700.1 236.8,701.1 C237.8,702.0 238.4,703.5 240.6,705.1 C242.8,706.6 247.4,709.0 250.0,710.5 C252.6,712.0 254.2,712.4 256.3,713.9 C258.3,715.4 260.7,718.2 262.5,719.5 C264.3,720.7 265.7,721.0 267.0,721.7 C268.2,722.3 268.9,723.5 269.9,723.3 C271.0,723.1 272.3,722.1 273.4,720.4 C274.6,718.6 275.8,714.7 277.0,712.7 C278.1,710.8 279.4,710.4 280.5,708.9 C281.5,707.4 282.5,704.1 283.4,703.8 C284.3,703.6 284.8,706.6 285.7,707.3 C286.7,708.0 288.3,707.6 289.3,708.0 C290.3,708.5 290.5,709.5 291.6,710.1 C292.8,710.7 294.8,711.0 296.3,711.7 C297.8,712.5 299.0,713.5 300.4,714.7 C301.8,715.9 303.6,718.2 304.8,718.6 C306.0,719.0 306.7,718.7 307.4,717.2 C308.2,715.7 308.7,713.1 309.2,709.7 C309.7,706.4 310.0,704.4 310.7,697.1 C311.3,689.9 312.3,672.5 313.0,666.4 C313.7,660.2 314.3,660.7 315.1,660.4 C315.8,660.1 316.6,662.5 317.6,664.8 C318.5,667.1 319.7,670.8 320.9,674.3 C322.2,677.7 324.1,683.8 325.1,685.3 C326.1,686.7 326.1,685.8 326.8,683.0 C327.5,680.2 328.5,674.0 329.3,668.4 C330.0,662.9 330.7,653.3 331.3,649.8 C331.9,646.2 331.9,647.7 332.7,646.9 C333.5,646.1 335.4,645.1 336.2,644.9 C337.0,644.7 336.7,644.7 337.5,645.9 C338.4,647.1 340.1,651.8 341.0,652.2 C342.0,652.6 342.6,649.6 343.4,648.5 C344.3,647.3 345.0,645.4 345.9,645.3 C346.8,645.2 347.8,646.5 348.7,647.6 C349.5,648.8 350.4,651.8 351.1,652.3 C351.8,652.9 352.2,654.2 352.8,650.9 C353.5,647.6 353.9,639.6 354.9,632.5 C356.0,625.3 358.2,613.3 359.1,607.9 C360.0,602.6 359.7,601.2 360.2,600.5 C360.6,599.8 361.3,603.3 361.9,603.7 C362.5,604.2 363.2,602.3 363.6,602.9 C364.1,603.5 364.2,605.9 364.7,607.5 C365.2,609.1 366.1,611.7 366.8,612.4 C367.4,613.0 367.9,612.3 368.5,611.5 C369.1,610.7 369.7,609.9 370.3,607.5 C370.8,605.2 371.5,601.7 372.0,597.2 C372.5,592.6 372.7,585.3 373.2,580.1 C373.6,575.0 374.1,570.0 374.5,566.4 C375.0,562.8 375.5,560.3 375.9,558.5 C376.4,556.8 377.1,556.3 377.3,555.9" fill="none" stroke="#f2a8a8" stroke-width="1.0" stroke-linejoin="round" stroke-linecap="round" />
<path d="M140,714.2 C150,715 165,718 187,720.6 C196,721.4 204,721 210,719.5 C213,717 215,713 217,708" fill="none" stroke="#f0a8a8" stroke-width="0.9"/>
<path d="M61.5,698.1 C64.0,698.8 71.4,700.8 76.5,702.4 C81.6,703.9 86.9,705.6 92.1,707.1 C97.3,708.7 103.1,710.4 107.8,711.6 C112.4,712.9 116.1,713.9 119.9,714.6 C123.7,715.2 127.5,715.4 130.5,715.5 C133.6,715.7 135.8,715.4 138.4,715.4 C141.0,715.4 143.7,715.5 146.2,715.6 C148.7,715.7 151.4,715.9 153.2,716.3 C155.0,716.6 155.7,717.2 157.1,717.8 C158.5,718.4 160.0,719.3 161.8,719.9 C163.6,720.6 165.1,720.8 167.9,721.6 C170.6,722.4 175.1,723.7 178.3,724.6 C181.4,725.5 184.0,726.8 186.6,727.2 C189.2,727.6 191.5,727.6 193.9,727.1 C196.3,726.5 198.9,724.6 201.2,723.9 C203.5,723.1 206.2,723.5 207.7,722.8 C209.2,722.1 209.5,720.8 210.4,719.7 C211.3,718.6 212.3,717.7 213.2,716.3 C214.0,714.9 214.8,713.1 215.5,711.1 C216.2,709.1 216.7,706.4 217.3,704.2 C217.9,702.0 218.6,699.5 219.2,697.8 C219.8,696.1 220.4,694.7 221.1,693.8 C221.8,692.8 222.5,692.5 223.4,692.2 C224.2,691.9 225.2,692.0 226.1,692.1 C227.1,692.2 228.0,692.5 228.9,693.0 C229.9,693.4 230.8,694.2 231.7,694.7 C232.6,695.2 233.7,695.3 234.5,695.8 C235.4,696.2 235.8,696.6 236.8,697.4 C237.8,698.2 238.4,699.3 240.6,700.6 C242.8,702.0 247.4,704.3 250.0,705.7 C252.6,707.1 254.2,707.6 256.3,709.1 C258.3,710.5 260.7,713.2 262.5,714.5 C264.3,715.7 265.7,716.1 267.0,716.8 C268.2,717.4 268.9,718.6 269.9,718.4 C271.0,718.1 272.3,717.2 273.4,715.3 C274.6,713.3 275.9,708.7 277.0,706.6 C278.0,704.5 278.8,704.1 279.9,702.6 C280.9,701.0 282.4,697.8 283.4,697.4 C284.4,697.0 284.8,699.6 285.7,700.1 C286.7,700.7 288.3,700.2 289.3,700.6 C290.3,701.1 290.5,702.3 291.6,702.9 C292.8,703.5 294.8,703.6 296.3,704.2 C297.8,704.9 299.0,705.9 300.4,706.7 C301.8,707.5 303.4,709.1 304.5,709.2 C305.7,709.2 306.7,708.7 307.4,706.9 C308.2,705.1 308.6,702.7 309.2,698.5 C309.8,694.2 310.2,687.4 310.9,681.4 C311.6,675.3 312.6,665.8 313.4,662.1 C314.2,658.3 314.8,658.9 315.5,659.0 C316.2,659.2 316.9,661.5 317.6,663.0 C318.2,664.6 318.5,666.7 319.2,668.2 C319.9,669.7 320.8,670.8 321.7,671.9 C322.7,673.0 323.9,674.6 324.7,674.9 C325.4,675.2 325.7,675.5 326.3,673.6 C327.0,671.7 327.7,668.6 328.4,663.5 C329.1,658.4 329.9,647.6 330.6,643.0 C331.3,638.5 331.9,637.5 332.7,636.3 C333.5,635.1 334.6,635.6 335.4,635.9 C336.2,636.1 336.6,636.3 337.5,637.6 C338.5,638.9 340.1,643.2 341.0,643.6 C342.0,644.1 342.6,641.4 343.4,640.2 C344.3,639.1 345.0,637.1 345.9,636.8 C346.8,636.6 347.8,637.8 348.7,638.8 C349.5,639.9 350.4,642.5 351.1,642.9 C351.8,643.4 352.2,644.5 352.8,641.6 C353.5,638.6 354.2,630.2 354.9,625.2 C355.6,620.2 356.3,615.7 357.0,611.6 C357.7,607.5 358.6,604.2 359.1,600.8 C359.6,597.4 359.8,592.2 360.2,591.3 C360.6,590.3 361.0,594.4 361.6,595.0 C362.1,595.6 363.1,594.1 363.6,594.9 C364.1,595.7 364.2,598.4 364.7,599.9 C365.2,601.4 366.1,603.4 366.8,603.9 C367.5,604.5 368.3,603.9 368.8,603.2 C369.4,602.4 369.8,601.6 370.3,599.7 C370.7,597.7 371.2,595.3 371.6,591.5 C372.1,587.6 372.6,581.3 373.1,576.4 C373.6,571.5 374.1,565.6 374.5,561.9 C375.0,558.2 375.5,555.9 375.9,554.2 C376.4,552.5 376.9,552.3 377.1,551.9" fill="none" stroke="#555" stroke-width="1.0" stroke-linejoin="round" stroke-linecap="round" />
<path d="M61.5,698.8 C64.0,699.5 71.4,701.5 76.5,703.0 C81.6,704.5 86.9,706.2 92.1,707.8 C97.3,709.3 103.1,711.0 107.8,712.2 C112.4,713.5 116.1,714.5 119.9,715.1 C123.7,715.8 127.5,716.0 130.5,716.1 C133.6,716.3 135.8,716.0 138.4,716.0 C141.0,716.0 143.7,716.0 146.2,716.1 C148.7,716.3 151.4,716.4 153.2,716.8 C155.0,717.1 155.7,717.7 157.1,718.3 C158.5,718.9 160.0,719.8 161.8,720.4 C163.6,721.0 165.1,721.3 167.9,722.1 C170.6,722.8 175.1,724.1 178.3,725.1 C181.4,726.0 184.0,727.2 186.6,727.6 C189.2,728.0 191.5,728.1 193.9,727.6 C196.3,727.1 198.9,725.2 201.2,724.5 C203.5,723.9 206.2,724.2 207.7,723.6 C209.2,722.9 209.5,721.6 210.4,720.5 C211.3,719.5 212.3,718.6 213.2,717.2 C214.0,715.8 214.8,714.1 215.5,712.1 C216.2,710.1 216.7,707.4 217.3,705.2 C217.9,703.0 218.6,700.5 219.2,698.8 C219.8,697.1 220.4,695.7 221.1,694.8 C221.8,693.8 222.5,693.5 223.4,693.2 C224.2,692.9 225.2,693.0 226.1,693.1 C227.1,693.2 228.0,693.5 228.9,693.9 C229.9,694.3 230.8,695.2 231.7,695.6 C232.6,696.1 233.7,696.3 234.5,696.7 C235.4,697.2 235.8,697.5 236.8,698.4 C237.8,699.2 238.4,700.2 240.6,701.5 C242.8,702.9 247.4,705.2 250.0,706.6 C252.6,708.0 254.2,708.4 256.3,709.9 C258.3,711.3 260.7,713.9 262.5,715.2 C264.3,716.5 265.7,716.9 267.0,717.5 C268.2,718.2 268.9,719.4 269.9,719.1 C271.0,718.9 272.3,718.0 273.4,716.0 C274.6,714.1 275.9,709.5 277.0,707.4 C278.0,705.3 278.8,704.9 279.9,703.4 C280.9,701.9 282.4,698.6 283.4,698.2 C284.4,697.9 284.8,700.5 285.7,701.1 C286.7,701.6 288.3,701.1 289.3,701.6 C290.3,702.1 290.5,703.3 291.6,703.9 C292.8,704.5 294.8,704.7 296.3,705.3 C297.8,706.0 299.0,707.0 300.4,707.8 C301.8,708.7 303.4,710.3 304.5,710.5 C305.7,710.6 306.7,710.3 307.4,708.7 C308.2,707.0 308.6,704.7 309.2,700.5 C309.8,696.3 310.2,689.6 310.9,683.7 C311.6,677.7 312.6,668.4 313.4,664.7 C314.2,661.1 314.8,661.7 315.5,661.8 C316.2,662.0 316.9,664.2 317.6,665.6 C318.2,667.1 318.5,669.2 319.2,670.6 C319.9,672.0 320.8,673.0 321.7,674.0 C322.7,675.0 323.9,676.4 324.7,676.6 C325.4,676.9 325.7,677.3 326.3,675.4 C327.0,673.4 327.7,670.2 328.4,665.1 C329.1,660.0 329.9,649.2 330.6,644.7 C331.3,640.1 331.9,639.1 332.7,637.9 C333.5,636.7 334.6,637.2 335.4,637.4 C336.2,637.6 336.6,637.8 337.5,639.1 C338.5,640.4 340.1,644.7 341.0,645.1 C342.0,645.6 342.6,642.8 343.4,641.7 C344.3,640.5 345.0,638.5 345.9,638.3 C346.8,638.0 347.8,639.2 348.7,640.2 C349.5,641.2 350.4,643.8 351.1,644.2 C351.8,644.7 352.2,645.8 352.8,642.9 C353.5,639.9 354.2,631.5 354.9,626.5 C355.6,621.5 356.3,616.9 357.0,612.9 C357.7,608.8 358.6,605.4 359.1,602.0 C359.6,598.6 359.8,593.4 360.2,592.4 C360.6,591.5 361.0,595.5 361.6,596.1 C362.1,596.7 363.1,595.2 363.6,596.1 C364.1,596.9 364.2,599.6 364.7,601.1 C365.2,602.6 366.1,604.5 366.8,605.1 C367.5,605.6 368.3,605.0 368.8,604.3 C369.4,603.6 369.8,602.8 370.3,600.8 C370.7,598.9 371.2,596.5 371.6,592.6 C372.1,588.7 372.6,582.5 373.1,577.6 C373.6,572.6 374.1,566.8 374.5,563.1 C375.0,559.4 375.5,557.0 375.9,555.4 C376.4,553.7 376.9,553.4 377.1,553.0" fill="none" stroke="#222" stroke-width="1.0" stroke-linejoin="round" stroke-linecap="round" />
<path d="M61.5,699.5 C64.0,700.2 71.4,702.2 76.5,703.7 C81.6,705.2 86.9,706.9 92.1,708.4 C97.3,709.9 103.1,711.6 107.8,712.9 C112.4,714.1 116.1,715.1 119.9,715.7 C123.7,716.4 127.5,716.5 130.5,716.7 C133.6,716.8 135.8,716.5 138.4,716.5 C141.0,716.5 143.7,716.5 146.2,716.7 C148.7,716.8 151.4,716.9 153.2,717.3 C155.0,717.6 155.7,718.2 157.1,718.8 C158.5,719.4 160.0,720.3 161.8,720.9 C163.6,721.5 165.1,721.8 167.9,722.5 C170.6,723.3 175.1,724.6 178.3,725.5 C181.4,726.4 184.0,727.6 186.6,728.0 C189.2,728.5 191.5,728.6 193.9,728.2 C196.3,727.7 198.9,725.9 201.2,725.2 C203.5,724.6 206.2,725.0 207.7,724.4 C209.2,723.7 209.5,722.4 210.4,721.4 C211.3,720.3 212.3,719.5 213.2,718.1 C214.0,716.7 214.8,715.0 215.5,713.0 C216.2,711.0 216.7,708.4 217.3,706.2 C217.9,704.0 218.6,701.5 219.2,699.8 C219.8,698.1 220.4,696.7 221.1,695.8 C221.8,694.8 222.5,694.5 223.4,694.2 C224.2,693.9 225.2,693.9 226.1,694.1 C227.1,694.2 228.0,694.5 228.9,694.9 C229.9,695.3 230.8,696.1 231.7,696.6 C232.6,697.0 233.7,697.2 234.5,697.6 C235.4,698.1 235.8,698.5 236.8,699.3 C237.8,700.1 238.4,701.1 240.6,702.4 C242.8,703.8 247.4,706.0 250.0,707.4 C252.6,708.8 254.2,709.2 256.3,710.7 C258.3,712.1 260.7,714.7 262.5,716.0 C264.3,717.3 265.7,717.7 267.0,718.3 C268.2,718.9 268.9,720.1 269.9,719.8 C271.0,719.6 272.3,718.7 273.4,716.8 C274.6,714.8 275.9,710.3 277.0,708.2 C278.0,706.1 278.8,705.7 279.9,704.2 C280.9,702.7 282.4,699.5 283.4,699.1 C284.4,698.7 284.8,701.4 285.7,702.0 C286.7,702.5 288.3,702.1 289.3,702.6 C290.3,703.1 290.5,704.3 291.6,704.9 C292.8,705.5 294.8,705.7 296.3,706.4 C297.8,707.0 299.0,708.0 300.4,708.9 C301.8,709.8 303.4,711.5 304.5,711.8 C305.7,712.0 306.7,711.9 307.4,710.4 C308.2,708.9 308.6,706.6 309.2,702.5 C309.8,698.4 310.2,691.8 310.9,685.9 C311.6,680.1 312.6,671.0 313.4,667.4 C314.2,663.9 314.8,664.5 315.5,664.7 C316.2,664.8 316.9,666.8 317.6,668.2 C318.2,669.6 318.5,671.7 319.2,673.0 C319.9,674.3 320.8,675.2 321.7,676.1 C322.7,677.0 323.9,678.2 324.7,678.4 C325.4,678.5 325.7,679.0 326.3,677.1 C327.0,675.1 327.7,671.9 328.4,666.8 C329.1,661.7 329.9,650.9 330.6,646.3 C331.3,641.8 331.9,640.7 332.7,639.5 C333.5,638.3 334.6,638.8 335.4,639.0 C336.2,639.2 336.6,639.4 337.5,640.6 C338.5,641.9 340.1,646.2 341.0,646.6 C342.0,647.0 342.6,644.3 343.4,643.1 C344.3,642.0 345.0,639.9 345.9,639.7 C346.8,639.4 347.8,640.6 348.7,641.6 C349.5,642.6 350.4,645.1 351.1,645.6 C351.8,646.0 352.2,647.1 352.8,644.2 C353.5,641.2 354.2,632.8 354.9,627.8 C355.6,622.7 356.3,618.2 357.0,614.1 C357.7,610.0 358.6,606.6 359.1,603.2 C359.6,599.7 359.8,594.6 360.2,593.6 C360.6,592.6 361.0,596.7 361.6,597.3 C362.1,597.9 363.1,596.4 363.6,597.2 C364.1,598.0 364.2,600.7 364.7,602.3 C365.2,603.8 366.1,605.7 366.8,606.2 C367.5,606.8 368.3,606.2 368.8,605.5 C369.4,604.8 369.8,603.9 370.3,602.0 C370.7,600.0 371.2,597.6 371.6,593.8 C372.1,589.9 372.6,583.6 373.1,578.7 C373.6,573.8 374.1,568.0 374.5,564.3 C375.0,560.6 375.5,558.2 375.9,556.5 C376.4,554.8 376.9,554.6 377.1,554.2" fill="none" stroke="#111" stroke-width="1.0" stroke-linejoin="round" stroke-linecap="round" />
<path d="M61.5,700.2 C64.0,700.9 71.4,702.9 76.5,704.4 C81.6,705.9 86.9,707.6 92.1,709.1 C97.3,710.6 103.1,712.3 107.8,713.5 C112.4,714.7 116.1,715.7 119.9,716.3 C123.7,716.9 127.5,717.1 130.5,717.2 C133.6,717.4 135.8,717.1 138.4,717.1 C141.0,717.1 143.7,717.1 146.2,717.2 C148.7,717.3 151.4,717.4 153.2,717.8 C155.0,718.1 155.7,718.7 157.1,719.3 C158.5,719.9 160.0,720.8 161.8,721.4 C163.6,722.0 165.1,722.3 167.9,723.0 C170.6,723.8 175.1,725.1 178.3,726.0 C181.4,726.9 184.0,728.0 186.6,728.5 C189.2,728.9 191.5,729.1 193.9,728.7 C196.3,728.3 198.9,726.5 201.2,725.9 C203.5,725.3 206.2,725.8 207.7,725.2 C209.2,724.5 209.5,723.2 210.4,722.2 C211.3,721.2 212.3,720.4 213.2,719.0 C214.0,717.6 214.8,715.9 215.5,713.9 C216.2,712.0 216.7,709.3 217.3,707.1 C217.9,705.0 218.6,702.5 219.2,700.8 C219.8,699.1 220.4,697.7 221.1,696.8 C221.8,695.8 222.5,695.5 223.4,695.2 C224.2,694.9 225.2,694.9 226.1,695.0 C227.1,695.1 228.0,695.4 228.9,695.8 C229.9,696.3 230.8,697.1 231.7,697.5 C232.6,698.0 233.7,698.1 234.5,698.6 C235.4,699.0 235.8,699.4 236.8,700.2 C237.8,701.0 238.4,702.0 240.6,703.3 C242.8,704.7 247.4,706.9 250.0,708.3 C252.6,709.6 254.2,710.1 256.3,711.5 C258.3,712.9 260.7,715.5 262.5,716.8 C264.3,718.0 265.7,718.4 267.0,719.0 C268.2,719.7 268.9,720.8 269.9,720.6 C271.0,720.3 272.3,719.4 273.4,717.5 C274.6,715.6 275.9,711.1 277.0,709.0 C278.0,706.9 278.8,706.6 279.9,705.1 C280.9,703.6 282.4,700.4 283.4,700.0 C284.4,699.6 284.8,702.3 285.7,702.9 C286.7,703.5 288.3,703.0 289.3,703.5 C290.3,704.0 290.5,705.2 291.6,705.9 C292.8,706.5 294.8,706.7 296.3,707.4 C297.8,708.1 299.0,709.1 300.4,710.0 C301.8,711.0 303.4,712.7 304.5,713.1 C305.7,713.4 306.7,713.6 307.4,712.2 C308.2,710.7 308.6,708.5 309.2,704.6 C309.8,700.6 310.2,694.0 310.9,688.2 C311.6,682.5 312.6,673.6 313.4,670.1 C314.2,666.6 314.8,667.4 315.5,667.5 C316.2,667.6 316.9,669.4 317.6,670.8 C318.2,672.1 318.5,674.1 319.2,675.4 C319.9,676.6 320.8,677.4 321.7,678.2 C322.7,679.0 323.9,680.0 324.7,680.1 C325.4,680.2 325.7,680.7 326.3,678.8 C327.0,676.8 327.7,673.6 328.4,668.5 C329.1,663.4 329.9,652.5 330.6,648.0 C331.3,643.4 331.9,642.3 332.7,641.1 C333.5,639.9 334.6,640.4 335.4,640.6 C336.2,640.7 336.6,640.9 337.5,642.2 C338.5,643.4 340.1,647.7 341.0,648.1 C342.0,648.5 342.6,645.7 343.4,644.6 C344.3,643.4 345.0,641.3 345.9,641.1 C346.8,640.8 347.8,642.0 348.7,642.9 C349.5,643.9 350.4,646.5 351.1,646.9 C351.8,647.3 352.2,648.4 352.8,645.4 C353.5,642.5 354.2,634.0 354.9,629.0 C355.6,624.0 356.3,619.4 357.0,615.3 C357.7,611.2 358.6,607.8 359.1,604.4 C359.6,600.9 359.8,595.8 360.2,594.8 C360.6,593.8 361.0,597.9 361.6,598.5 C362.1,599.1 363.1,597.5 363.6,598.4 C364.1,599.2 364.2,601.9 364.7,603.4 C365.2,604.9 366.1,606.9 366.8,607.4 C367.5,607.9 368.3,607.3 368.8,606.6 C369.4,605.9 369.8,605.1 370.3,603.2 C370.7,601.2 371.2,598.8 371.6,594.9 C372.1,591.1 372.6,584.8 373.1,579.9 C373.6,575.0 374.1,569.1 374.5,565.4 C375.0,561.7 375.5,559.3 375.9,557.7 C376.4,556.0 376.9,555.7 377.1,555.4" fill="none" stroke="#333" stroke-width="1.0" stroke-linejoin="round" stroke-linecap="round" />
<path d="M61.5,696.5 C64.0,697.3 71.4,699.5 76.5,701.1 C81.6,702.8 86.9,704.7 92.1,706.3 C97.3,707.8 103.1,709.2 107.8,710.4 C112.4,711.6 116.1,712.5 119.9,713.2 C123.7,713.9 127.5,714.4 130.5,714.6 C133.6,714.9 136.1,714.5 138.4,714.5 C140.6,714.5 141.7,714.4 143.8,714.6 C145.9,714.8 148.9,715.4 150.9,715.8 C152.8,716.3 153.6,716.5 155.6,717.2 C157.5,717.8 159.7,718.7 162.7,719.8 C165.6,720.8 169.6,722.3 173.1,723.3 C176.6,724.4 180.0,725.5 183.5,726.0 C186.9,726.5 191.0,726.8 193.9,726.3 C196.9,725.8 198.9,723.7 201.2,723.0 C203.5,722.2 206.2,722.5 207.7,721.8 C209.2,721.2 209.5,720.0 210.4,718.9 C211.3,717.8 212.3,716.9 213.2,715.5 C214.0,714.1 214.8,712.3 215.5,710.3 C216.2,708.4 216.7,705.8 217.3,703.8 C217.9,701.8 218.5,699.7 219.2,698.2 C219.9,696.8 220.7,695.8 221.5,695.0 C222.4,694.3 223.2,693.9 224.3,693.7 C225.4,693.5 226.8,693.8 228.0,693.9 C229.2,694.1 230.2,694.5 231.3,694.6 C232.3,694.7 233.6,694.2 234.5,694.4 C235.4,694.5 235.6,694.7 236.8,695.5 C238.0,696.3 239.1,697.9 241.7,699.1 C244.2,700.3 248.6,701.3 252.1,702.6 C255.5,703.9 260.0,705.9 262.5,707.0 C265.0,708.0 265.6,708.4 267.0,708.9 C268.3,709.3 269.4,710.5 270.5,709.9 C271.7,709.4 272.9,707.4 274.0,705.5 C275.1,703.6 276.0,700.3 277.0,698.5 C277.9,696.8 278.8,696.4 279.9,695.0 C280.9,693.6 282.3,690.4 283.4,689.9 C284.5,689.4 285.3,691.7 286.3,692.1 C287.3,692.5 288.4,692.1 289.3,692.5 C290.2,692.9 290.5,693.9 291.6,694.4 C292.8,695.0 294.9,695.4 296.3,695.9 C297.7,696.4 298.5,696.9 299.8,697.5 C301.1,698.0 302.8,699.5 303.9,699.2 C305.1,698.9 306.1,697.4 306.8,695.6 C307.6,693.8 308.1,693.1 308.6,688.3 C309.1,683.5 309.4,674.5 310.0,666.7 C310.7,658.9 311.6,647.6 312.5,641.6 C313.5,635.6 314.7,631.4 315.5,630.6 C316.3,629.7 316.7,633.5 317.6,636.5 C318.5,639.5 319.7,644.5 320.9,648.4 C322.2,652.4 324.1,658.6 325.1,660.3 C326.1,662.0 326.5,660.4 327.2,658.8 C327.9,657.1 328.7,653.4 329.3,650.3 C329.8,647.2 330.0,642.5 330.6,640.3 C331.1,638.1 331.5,637.4 332.3,637.3 C333.1,637.2 334.6,639.1 335.4,639.7 C336.3,640.3 336.6,639.7 337.5,640.6 C338.5,641.6 340.1,645.3 341.0,645.2 C342.0,645.1 342.6,641.7 343.4,640.3 C344.3,638.9 345.0,637.1 345.9,636.8 C346.8,636.5 347.9,638.1 348.7,638.6 C349.5,639.2 350.1,639.8 350.8,639.9 C351.5,640.0 352.2,642.2 352.8,639.1 C353.5,636.0 353.9,627.9 354.9,621.3 C356.0,614.8 358.2,604.5 359.1,600.0 C360.0,595.6 359.7,594.7 360.2,594.6 C360.6,594.4 361.4,598.1 361.9,598.9 C362.4,599.7 362.8,598.6 363.3,599.2 C363.7,599.9 364.1,601.3 364.7,602.6 C365.3,604.0 366.1,606.7 366.8,607.4 C367.4,608.1 367.9,607.6 368.5,606.7 C369.1,605.8 369.7,604.3 370.3,602.0 C370.8,599.6 371.5,595.5 372.0,592.5 C372.4,589.4 372.7,587.2 373.0,583.6 C373.4,580.1 373.6,574.4 374.1,571.2 C374.5,568.0 375.0,566.2 375.5,564.5 C375.9,562.7 376.6,561.4 376.9,560.8" fill="none" stroke="#135aa8" stroke-width="1.1" stroke-linejoin="round" stroke-linecap="round" />
<path d="M61.5,697.4 C64.0,698.2 71.4,700.4 76.5,702.0 C81.6,703.6 86.9,705.5 92.1,707.0 C97.3,708.6 103.1,710.0 107.8,711.1 C112.4,712.3 116.1,713.2 119.9,713.9 C123.7,714.6 127.5,715.1 130.5,715.3 C133.6,715.5 136.1,715.1 138.4,715.1 C140.6,715.1 141.7,714.9 143.8,715.1 C145.9,715.4 148.9,715.9 150.9,716.3 C152.8,716.7 153.6,717.0 155.6,717.7 C157.5,718.3 159.7,719.2 162.7,720.2 C165.6,721.2 169.6,722.6 173.1,723.7 C176.6,724.7 180.0,725.8 183.5,726.3 C186.9,726.7 191.0,727.0 193.9,726.6 C196.9,726.1 198.9,724.0 201.2,723.3 C203.5,722.6 206.2,722.9 207.7,722.2 C209.2,721.6 209.5,720.4 210.4,719.3 C211.3,718.3 212.3,717.4 213.2,715.9 C214.0,714.5 214.8,712.7 215.5,710.8 C216.2,708.8 216.7,706.3 217.3,704.3 C217.9,702.3 218.5,700.2 219.2,698.7 C219.9,697.3 220.7,696.3 221.5,695.5 C222.4,694.8 223.2,694.4 224.3,694.2 C225.4,694.0 226.8,694.2 228.0,694.4 C229.2,694.5 230.2,695.0 231.3,695.1 C232.3,695.1 233.6,694.7 234.5,694.8 C235.4,694.9 235.6,695.1 236.8,695.9 C238.0,696.7 239.1,698.4 241.7,699.5 C244.2,700.7 248.6,701.7 252.1,703.0 C255.5,704.3 260.0,706.3 262.5,707.4 C265.0,708.4 265.6,708.7 267.0,709.2 C268.3,709.7 269.4,710.8 270.5,710.3 C271.7,709.7 272.9,707.8 274.0,705.9 C275.1,704.0 276.0,700.7 277.0,698.9 C277.9,697.1 278.8,696.8 279.9,695.4 C280.9,693.9 282.3,690.8 283.4,690.3 C284.5,689.8 285.3,692.1 286.3,692.5 C287.3,692.9 288.4,692.6 289.3,692.9 C290.2,693.3 290.5,694.3 291.6,694.9 C292.8,695.4 294.9,695.8 296.3,696.3 C297.7,696.9 298.5,697.4 299.8,697.9 C301.1,698.5 302.8,699.9 303.9,699.6 C305.1,699.4 306.1,698.0 306.8,696.2 C307.6,694.4 308.1,693.8 308.6,689.0 C309.1,684.3 309.4,675.2 310.0,667.5 C310.7,659.8 311.6,648.6 312.5,642.6 C313.5,636.7 314.7,632.7 315.5,631.9 C316.3,631.1 316.7,634.7 317.6,637.6 C318.5,640.5 319.7,645.4 320.9,649.3 C322.2,653.2 324.1,659.2 325.1,660.8 C326.1,662.5 326.5,661.0 327.2,659.3 C327.9,657.6 328.7,653.9 329.3,650.8 C329.8,647.7 330.0,642.9 330.6,640.7 C331.1,638.6 331.5,637.8 332.3,637.7 C333.1,637.6 334.6,639.5 335.4,640.1 C336.3,640.6 336.6,640.1 337.5,641.0 C338.5,641.9 340.1,645.6 341.0,645.6 C342.0,645.6 342.6,642.1 343.4,640.7 C344.3,639.3 345.0,637.5 345.9,637.2 C346.8,636.9 347.9,638.6 348.7,639.1 C349.5,639.6 350.1,640.3 350.8,640.4 C351.5,640.5 352.2,642.7 352.8,639.6 C353.5,636.5 353.9,628.3 354.9,621.8 C356.0,615.3 358.2,605.0 359.1,600.6 C360.0,596.1 359.7,595.3 360.2,595.1 C360.6,594.9 361.4,598.7 361.9,599.4 C362.4,600.2 362.8,599.1 363.3,599.8 C363.7,600.4 364.1,601.8 364.7,603.2 C365.3,604.5 366.1,607.3 366.8,607.9 C367.4,608.6 367.9,608.2 368.5,607.3 C369.1,606.4 369.7,604.9 370.3,602.5 C370.8,600.1 371.5,596.1 372.0,593.0 C372.4,589.9 372.7,587.7 373.0,584.2 C373.4,580.6 373.6,575.0 374.1,571.8 C374.5,568.6 375.0,566.7 375.5,565.0 C375.9,563.3 376.6,562.0 376.9,561.4" fill="none" stroke="#1561b0" stroke-width="1.1" stroke-linejoin="round" stroke-linecap="round" />
<path d="M61.5,698.3 C64.0,699.1 71.4,701.2 76.5,702.8 C81.6,704.4 86.9,706.3 92.1,707.8 C97.3,709.3 103.1,710.7 107.8,711.8 C112.4,713.0 116.1,713.9 119.9,714.6 C123.7,715.3 127.5,715.7 130.5,715.9 C133.6,716.1 136.1,715.7 138.4,715.7 C140.6,715.7 141.7,715.5 143.8,715.7 C145.9,715.9 148.9,716.4 150.9,716.8 C152.8,717.2 153.6,717.5 155.6,718.1 C157.5,718.8 159.7,719.6 162.7,720.6 C165.6,721.6 169.6,723.0 173.1,724.0 C176.6,725.0 180.0,726.1 183.5,726.5 C186.9,727.0 191.0,727.3 193.9,726.8 C196.9,726.4 198.9,724.3 201.2,723.6 C203.5,722.9 206.2,723.3 207.7,722.6 C209.2,722.0 209.5,720.8 210.4,719.7 C211.3,718.7 212.3,717.8 213.2,716.4 C214.0,715.0 214.8,713.2 215.5,711.3 C216.2,709.3 216.7,706.8 217.3,704.8 C217.9,702.8 218.5,700.7 219.2,699.2 C219.9,697.8 220.7,696.8 221.5,696.0 C222.4,695.3 223.2,694.8 224.3,694.6 C225.4,694.5 226.8,694.7 228.0,694.9 C229.2,695.0 230.2,695.4 231.3,695.5 C232.3,695.6 233.6,695.1 234.5,695.3 C235.4,695.4 235.6,695.6 236.8,696.3 C238.0,697.1 239.1,698.8 241.7,700.0 C244.2,701.1 248.6,702.1 252.1,703.4 C255.5,704.7 260.0,706.7 262.5,707.8 C265.0,708.8 265.6,709.1 267.0,709.6 C268.3,710.1 269.4,711.2 270.5,710.6 C271.7,710.1 272.9,708.2 274.0,706.3 C275.1,704.4 276.0,701.0 277.0,699.3 C277.9,697.5 278.8,697.2 279.9,695.8 C280.9,694.3 282.3,691.2 283.4,690.7 C284.5,690.2 285.3,692.5 286.3,692.9 C287.3,693.3 288.4,693.0 289.3,693.4 C290.2,693.8 290.5,694.7 291.6,695.3 C292.8,695.9 294.9,696.3 296.3,696.8 C297.7,697.3 298.5,697.8 299.8,698.4 C301.1,698.9 302.8,700.4 303.9,700.1 C305.1,699.9 306.1,698.6 306.8,696.8 C307.6,695.1 308.1,694.5 308.6,689.8 C309.1,685.0 309.4,676.0 310.0,668.3 C310.7,660.6 311.6,649.5 312.5,643.7 C313.5,637.8 314.7,634.0 315.5,633.2 C316.3,632.4 316.7,635.9 317.6,638.7 C318.5,641.6 319.7,646.4 320.9,650.2 C322.2,653.9 324.1,659.8 325.1,661.4 C326.1,663.0 326.5,661.5 327.2,659.8 C327.9,658.1 328.7,654.3 329.3,651.2 C329.8,648.1 330.0,643.4 330.6,641.2 C331.1,639.0 331.5,638.3 332.3,638.1 C333.1,638.0 334.6,639.9 335.4,640.4 C336.3,641.0 336.6,640.5 337.5,641.4 C338.5,642.3 340.1,646.0 341.0,646.0 C342.0,646.0 342.6,642.5 343.4,641.2 C344.3,639.8 345.0,637.9 345.9,637.6 C346.8,637.4 347.9,639.0 348.7,639.5 C349.5,640.1 350.1,640.8 350.8,640.8 C351.5,640.9 352.2,643.1 352.8,640.0 C353.5,637.0 353.9,628.8 354.9,622.3 C356.0,615.8 358.2,605.5 359.1,601.1 C360.0,596.6 359.7,595.8 360.2,595.6 C360.6,595.4 361.4,599.2 361.9,600.0 C362.4,600.8 362.8,599.7 363.3,600.3 C363.7,600.9 364.1,602.4 364.7,603.7 C365.3,605.1 366.1,607.8 366.8,608.5 C367.4,609.2 367.9,608.7 368.5,607.8 C369.1,606.9 369.7,605.4 370.3,603.1 C370.8,600.7 371.5,596.6 372.0,593.5 C372.4,590.5 372.7,588.2 373.0,584.7 C373.4,581.2 373.6,575.5 374.1,572.3 C374.5,569.1 375.0,567.3 375.5,565.6 C375.9,563.8 376.6,562.5 376.9,561.9" fill="none" stroke="#1767b8" stroke-width="1.1" stroke-linejoin="round" stroke-linecap="round" />
<path d="M61.5,699.2 C64.0,699.9 71.4,702.1 76.5,703.7 C81.6,705.2 86.9,707.1 92.1,708.6 C97.3,710.1 103.1,711.5 107.8,712.6 C112.4,713.7 116.1,714.6 119.9,715.3 C123.7,715.9 127.5,716.4 130.5,716.5 C133.6,716.7 136.1,716.3 138.4,716.3 C140.6,716.3 141.7,716.1 143.8,716.3 C145.9,716.4 148.9,717.0 150.9,717.3 C152.8,717.7 153.6,718.0 155.6,718.6 C157.5,719.2 159.7,720.1 162.7,721.0 C165.6,722.0 169.6,723.4 173.1,724.3 C176.6,725.3 180.0,726.3 183.5,726.8 C186.9,727.2 191.0,727.6 193.9,727.1 C196.9,726.6 198.9,724.7 201.2,724.0 C203.5,723.3 206.2,723.7 207.7,723.0 C209.2,722.4 209.5,721.2 210.4,720.2 C211.3,719.1 212.3,718.2 213.2,716.8 C214.0,715.4 214.8,713.6 215.5,711.7 C216.2,709.8 216.7,707.3 217.3,705.3 C217.9,703.3 218.5,701.2 219.2,699.7 C219.9,698.2 220.7,697.3 221.5,696.5 C222.4,695.7 223.2,695.3 224.3,695.1 C225.4,694.9 226.8,695.2 228.0,695.3 C229.2,695.5 230.2,695.9 231.3,696.0 C232.3,696.0 233.6,695.6 234.5,695.7 C235.4,695.8 235.6,696.0 236.8,696.8 C238.0,697.6 239.1,699.2 241.7,700.4 C244.2,701.5 248.6,702.5 252.1,703.8 C255.5,705.1 260.0,707.1 262.5,708.1 C265.0,709.2 265.6,709.5 267.0,710.0 C268.3,710.4 269.4,711.6 270.5,711.0 C271.7,710.4 272.9,708.5 274.0,706.6 C275.1,704.7 276.0,701.4 277.0,699.7 C277.9,697.9 278.8,697.6 279.9,696.1 C280.9,694.7 282.3,691.6 283.4,691.1 C284.5,690.6 285.3,692.9 286.3,693.3 C287.3,693.7 288.4,693.4 289.3,693.8 C290.2,694.2 290.5,695.1 291.6,695.7 C292.8,696.3 294.9,696.7 296.3,697.2 C297.7,697.7 298.5,698.2 299.8,698.8 C301.1,699.4 302.8,700.8 303.9,700.6 C305.1,700.4 306.1,699.1 306.8,697.5 C307.6,695.8 308.1,695.2 308.6,690.5 C309.1,685.8 309.4,676.8 310.0,669.1 C310.7,661.5 311.6,650.5 312.5,644.7 C313.5,638.9 314.7,635.3 315.5,634.5 C316.3,633.7 316.7,637.1 317.6,639.9 C318.5,642.6 319.7,647.3 320.9,651.0 C322.2,654.7 324.1,660.4 325.1,661.9 C326.1,663.5 326.5,662.0 327.2,660.3 C327.9,658.6 328.7,654.8 329.3,651.7 C329.8,648.6 330.0,643.8 330.6,641.6 C331.1,639.4 331.5,638.7 332.3,638.6 C333.1,638.4 334.6,640.3 335.4,640.8 C336.3,641.3 336.6,640.8 337.5,641.8 C338.5,642.7 340.1,646.4 341.0,646.4 C342.0,646.4 342.6,643.0 343.4,641.6 C344.3,640.2 345.0,638.3 345.9,638.1 C346.8,637.8 347.9,639.5 348.7,640.0 C349.5,640.5 350.1,641.2 350.8,641.3 C351.5,641.4 352.2,643.6 352.8,640.5 C353.5,637.4 353.9,629.3 354.9,622.8 C356.0,616.4 358.2,606.1 359.1,601.6 C360.0,597.2 359.7,596.3 360.2,596.2 C360.6,596.0 361.4,599.7 361.9,600.5 C362.4,601.3 362.8,600.2 363.3,600.9 C363.7,601.5 364.1,602.9 364.7,604.3 C365.3,605.6 366.1,608.3 366.8,609.0 C367.4,609.7 367.9,609.3 368.5,608.3 C369.1,607.4 369.7,606.0 370.3,603.6 C370.8,601.2 371.5,597.1 372.0,594.1 C372.4,591.0 372.7,588.8 373.0,585.3 C373.4,581.7 373.6,576.1 374.1,572.9 C374.5,569.7 375.0,567.8 375.5,566.1 C375.9,564.4 376.6,563.1 376.9,562.4" fill="none" stroke="#196ec1" stroke-width="1.1" stroke-linejoin="round" stroke-linecap="round" />
<path d="M61.5,700.1 C64.0,700.8 71.4,703.0 76.5,704.5 C81.6,706.1 86.9,707.9 92.1,709.4 C97.3,710.8 103.1,712.2 107.8,713.3 C112.4,714.4 116.1,715.3 119.9,715.9 C123.7,716.6 127.5,717.0 130.5,717.2 C133.6,717.3 136.1,716.9 138.4,716.9 C140.6,716.8 141.7,716.7 143.8,716.8 C145.9,717.0 148.9,717.5 150.9,717.9 C152.8,718.2 153.6,718.5 155.6,719.1 C157.5,719.7 159.7,720.5 162.7,721.4 C165.6,722.4 169.6,723.7 173.1,724.7 C176.6,725.6 180.0,726.6 183.5,727.0 C186.9,727.5 191.0,727.8 193.9,727.4 C196.9,726.9 198.9,725.0 201.2,724.3 C203.5,723.7 206.2,724.1 207.7,723.4 C209.2,722.8 209.5,721.6 210.4,720.6 C211.3,719.6 212.3,718.7 213.2,717.3 C214.0,715.9 214.8,714.1 215.5,712.2 C216.2,710.3 216.7,707.7 217.3,705.7 C217.9,703.7 218.5,701.7 219.2,700.2 C219.9,698.7 220.7,697.8 221.5,697.0 C222.4,696.2 223.2,695.8 224.3,695.6 C225.4,695.4 226.8,695.7 228.0,695.8 C229.2,695.9 230.2,696.4 231.3,696.4 C232.3,696.5 233.6,696.0 234.5,696.1 C235.4,696.3 235.6,696.4 236.8,697.2 C238.0,698.0 239.1,699.6 241.7,700.8 C244.2,702.0 248.6,702.9 252.1,704.2 C255.5,705.4 260.0,707.5 262.5,708.5 C265.0,709.5 265.6,709.9 267.0,710.3 C268.3,710.8 269.4,711.9 270.5,711.4 C271.7,710.8 272.9,708.9 274.0,707.0 C275.1,705.1 276.0,701.8 277.0,700.0 C277.9,698.3 278.8,697.9 279.9,696.5 C280.9,695.1 282.3,692.0 283.4,691.5 C284.5,691.0 285.3,693.3 286.3,693.7 C287.3,694.2 288.4,693.8 289.3,694.2 C290.2,694.6 290.5,695.5 291.6,696.1 C292.8,696.7 294.9,697.1 296.3,697.6 C297.7,698.2 298.5,698.7 299.8,699.2 C301.1,699.8 302.8,701.2 303.9,701.0 C305.1,700.9 306.1,699.7 306.8,698.1 C307.6,696.5 308.1,695.9 308.6,691.2 C309.1,686.6 309.4,677.5 310.0,669.9 C310.7,662.4 311.6,651.5 312.5,645.8 C313.5,640.1 314.7,636.6 315.5,635.8 C316.3,635.0 316.7,638.3 317.6,641.0 C318.5,643.7 319.7,648.3 320.9,651.9 C322.2,655.4 324.1,661.0 325.1,662.5 C326.1,663.9 326.5,662.5 327.2,660.8 C327.9,659.1 328.7,655.3 329.3,652.2 C329.8,649.1 330.0,644.3 330.6,642.1 C331.1,639.9 331.5,639.1 332.3,639.0 C333.1,638.8 334.6,640.6 335.4,641.2 C336.3,641.7 336.6,641.2 337.5,642.2 C338.5,643.1 340.1,646.8 341.0,646.8 C342.0,646.8 342.6,643.4 343.4,642.0 C344.3,640.6 345.0,638.8 345.9,638.5 C346.8,638.3 347.9,639.9 348.7,640.5 C349.5,641.0 350.1,641.7 350.8,641.8 C351.5,641.9 352.2,644.1 352.8,641.0 C353.5,637.9 353.9,629.8 354.9,623.3 C356.0,616.9 358.2,606.6 359.1,602.1 C360.0,597.7 359.7,596.9 360.2,596.7 C360.6,596.5 361.4,600.3 361.9,601.1 C362.4,601.8 362.8,600.8 363.3,601.4 C363.7,602.0 364.1,603.4 364.7,604.8 C365.3,606.2 366.1,608.9 366.8,609.6 C367.4,610.2 367.9,609.8 368.5,608.9 C369.1,608.0 369.7,606.5 370.3,604.1 C370.8,601.8 371.5,597.7 372.0,594.6 C372.4,591.6 372.7,589.3 373.0,585.8 C373.4,582.3 373.6,576.6 374.1,573.4 C374.5,570.2 375.0,568.4 375.5,566.6 C375.9,564.9 376.6,563.6 376.9,563.0" fill="none" stroke="#1c74c9" stroke-width="1.1" stroke-linejoin="round" stroke-linecap="round" />
<path d="M61.5,701.0 C64.0,701.7 71.4,703.8 76.5,705.4 C81.6,706.9 86.9,708.7 92.1,710.2 C97.3,711.6 103.1,712.9 107.8,714.0 C112.4,715.1 116.1,716.0 119.9,716.6 C123.7,717.2 127.5,717.6 130.5,717.8 C133.6,717.9 136.1,717.6 138.4,717.5 C140.6,717.4 141.7,717.3 143.8,717.4 C145.9,717.5 148.9,718.0 150.9,718.4 C152.8,718.7 153.6,719.0 155.6,719.6 C157.5,720.1 159.7,721.0 162.7,721.9 C165.6,722.8 169.6,724.1 173.1,725.0 C176.6,725.9 180.0,726.9 183.5,727.3 C186.9,727.7 191.0,728.1 193.9,727.7 C196.9,727.2 198.9,725.3 201.2,724.7 C203.5,724.0 206.2,724.4 207.7,723.8 C209.2,723.2 209.5,722.0 210.4,721.0 C211.3,720.0 212.3,719.1 213.2,717.7 C214.0,716.3 214.8,714.6 215.5,712.6 C216.2,710.7 216.7,708.2 217.3,706.2 C217.9,704.2 218.5,702.2 219.2,700.7 C219.9,699.2 220.7,698.3 221.5,697.5 C222.4,696.7 223.2,696.3 224.3,696.1 C225.4,695.9 226.8,696.1 228.0,696.3 C229.2,696.4 230.2,696.8 231.3,696.9 C232.3,696.9 233.6,696.5 234.5,696.6 C235.4,696.7 235.6,696.9 236.8,697.7 C238.0,698.4 239.1,700.1 241.7,701.2 C244.2,702.4 248.6,703.3 252.1,704.6 C255.5,705.8 260.0,707.9 262.5,708.9 C265.0,709.9 265.6,710.2 267.0,710.7 C268.3,711.2 269.4,712.3 270.5,711.7 C271.7,711.2 272.9,709.3 274.0,707.4 C275.1,705.5 276.0,702.1 277.0,700.4 C277.9,698.7 278.8,698.3 279.9,696.9 C280.9,695.5 282.3,692.4 283.4,691.9 C284.5,691.4 285.3,693.7 286.3,694.1 C287.3,694.6 288.4,694.2 289.3,694.6 C290.2,695.0 290.5,696.0 291.6,696.5 C292.8,697.1 294.9,697.5 296.3,698.1 C297.7,698.6 298.5,699.1 299.8,699.7 C301.1,700.3 302.8,701.7 303.9,701.5 C305.1,701.4 306.1,700.3 306.8,698.7 C307.6,697.1 308.1,696.6 308.6,692.0 C309.1,687.3 309.4,678.3 310.0,670.8 C310.7,663.2 311.6,652.4 312.5,646.8 C313.5,641.2 314.7,637.9 315.5,637.1 C316.3,636.3 316.7,639.5 317.6,642.1 C318.5,644.7 319.7,649.2 320.9,652.7 C322.2,656.2 324.1,661.6 325.1,663.0 C326.1,664.4 326.5,663.0 327.2,661.3 C327.9,659.6 328.7,655.8 329.3,652.6 C329.8,649.5 330.0,644.7 330.6,642.5 C331.1,640.3 331.5,639.5 332.3,639.4 C333.1,639.2 334.6,641.0 335.4,641.5 C336.3,642.0 336.6,641.6 337.5,642.5 C338.5,643.5 340.1,647.2 341.0,647.2 C342.0,647.2 342.6,643.8 343.4,642.4 C344.3,641.0 345.0,639.2 345.9,638.9 C346.8,638.7 347.9,640.4 348.7,640.9 C349.5,641.5 350.1,642.2 350.8,642.3 C351.5,642.4 352.2,644.6 352.8,641.5 C353.5,638.4 353.9,630.3 354.9,623.8 C356.0,617.4 358.2,607.1 359.1,602.7 C360.0,598.2 359.7,597.4 360.2,597.2 C360.6,597.0 361.4,600.8 361.9,601.6 C362.4,602.4 362.8,601.3 363.3,601.9 C363.7,602.6 364.1,604.0 364.7,605.4 C365.3,606.7 366.1,609.4 366.8,610.1 C367.4,610.8 367.9,610.3 368.5,609.4 C369.1,608.5 369.7,607.1 370.3,604.7 C370.8,602.3 371.5,598.2 372.0,595.2 C372.4,592.1 372.7,589.9 373.0,586.3 C373.4,582.8 373.6,577.1 374.1,574.0 C374.5,570.8 375.0,568.9 375.5,567.2 C375.9,565.4 376.6,564.1 376.9,563.5" fill="none" stroke="#1e7bd1" stroke-width="1.1" stroke-linejoin="round" stroke-linecap="round" />
<path d="M61.5,701.9 C64.0,702.6 71.4,704.7 76.5,706.2 C81.6,707.7 86.9,709.5 92.1,710.9 C97.3,712.4 103.1,713.7 107.8,714.7 C112.4,715.8 116.1,716.7 119.9,717.3 C123.7,717.9 127.5,718.3 130.5,718.4 C133.6,718.5 136.1,718.2 138.4,718.1 C140.6,718.0 141.7,717.8 143.8,718.0 C145.9,718.1 148.9,718.5 150.9,718.9 C152.8,719.2 153.6,719.5 155.6,720.0 C157.5,720.6 159.7,721.4 162.7,722.3 C165.6,723.2 169.6,724.5 173.1,725.4 C176.6,726.2 180.0,727.1 183.5,727.6 C186.9,728.0 191.0,728.4 193.9,727.9 C196.9,727.5 198.9,725.6 201.2,725.0 C203.5,724.4 206.2,724.8 207.7,724.2 C209.2,723.6 209.5,722.4 210.4,721.4 C211.3,720.4 212.3,719.5 213.2,718.1 C214.0,716.8 214.8,715.0 215.5,713.1 C216.2,711.2 216.7,708.7 217.3,706.7 C217.9,704.7 218.5,702.6 219.2,701.2 C219.9,699.7 220.7,698.7 221.5,698.0 C222.4,697.2 223.2,696.8 224.3,696.6 C225.4,696.4 226.8,696.6 228.0,696.7 C229.2,696.9 230.2,697.3 231.3,697.3 C232.3,697.4 233.6,696.9 234.5,697.0 C235.4,697.2 235.6,697.3 236.8,698.1 C238.0,698.9 239.1,700.5 241.7,701.6 C244.2,702.8 248.6,703.7 252.1,705.0 C255.5,706.2 260.0,708.2 262.5,709.3 C265.0,710.3 265.6,710.6 267.0,711.1 C268.3,711.6 269.4,712.7 270.5,712.1 C271.7,711.5 272.9,709.6 274.0,707.7 C275.1,705.8 276.0,702.5 277.0,700.8 C277.9,699.0 278.8,698.7 279.9,697.3 C280.9,695.9 282.3,692.8 283.4,692.3 C284.5,691.8 285.3,694.1 286.3,694.5 C287.3,695.0 288.4,694.6 289.3,695.0 C290.2,695.4 290.5,696.4 291.6,697.0 C292.8,697.5 294.9,698.0 296.3,698.5 C297.7,699.0 298.5,699.5 299.8,700.1 C301.1,700.7 302.8,702.1 303.9,702.0 C305.1,701.9 306.1,700.9 306.8,699.4 C307.6,697.8 308.1,697.3 308.6,692.7 C309.1,688.1 309.4,679.1 310.0,671.6 C310.7,664.1 311.6,653.4 312.5,647.9 C313.5,642.3 314.7,639.1 315.5,638.4 C316.3,637.6 316.7,640.7 317.6,643.2 C318.5,645.8 319.7,650.2 320.9,653.6 C322.2,657.0 324.1,662.2 325.1,663.5 C326.1,664.9 326.5,663.5 327.2,661.8 C327.9,660.1 328.7,656.2 329.3,653.1 C329.8,650.0 330.0,645.2 330.6,643.0 C331.1,640.7 331.5,640.0 332.3,639.8 C333.1,639.6 334.6,641.4 335.4,641.9 C336.3,642.4 336.6,641.9 337.5,642.9 C338.5,643.9 340.1,647.6 341.0,647.6 C342.0,647.6 342.6,644.2 343.4,642.8 C344.3,641.5 345.0,639.6 345.9,639.4 C346.8,639.1 347.9,640.8 348.7,641.4 C349.5,641.9 350.1,642.6 350.8,642.7 C351.5,642.8 352.2,645.0 352.8,642.0 C353.5,638.9 353.9,630.8 354.9,624.3 C356.0,617.9 358.2,607.6 359.1,603.2 C360.0,598.8 359.7,597.9 360.2,597.8 C360.6,597.6 361.4,601.4 361.9,602.1 C362.4,602.9 362.8,601.9 363.3,602.5 C363.7,603.1 364.1,604.5 364.7,605.9 C365.3,607.3 366.1,610.0 366.8,610.6 C367.4,611.3 367.9,610.9 368.5,610.0 C369.1,609.1 369.7,607.6 370.3,605.2 C370.8,602.8 371.5,598.8 372.0,595.7 C372.4,592.7 372.7,590.4 373.0,586.9 C373.4,583.3 373.6,577.7 374.1,574.5 C374.5,571.3 375.0,569.5 375.5,567.7 C375.9,566.0 376.6,564.7 376.9,564.1" fill="none" stroke="#2282d8" stroke-width="1.1" stroke-linejoin="round" stroke-linecap="round" />
<path d="M61.5,702.8 C64.0,703.5 71.4,705.6 76.5,707.1 C81.6,708.5 86.9,710.3 92.1,711.7 C97.3,713.1 103.1,714.4 107.8,715.4 C112.4,716.5 116.1,717.3 119.9,717.9 C123.7,718.5 127.5,718.9 130.5,719.0 C133.6,719.2 136.1,718.8 138.4,718.7 C140.6,718.6 141.7,718.4 143.8,718.5 C145.9,718.6 148.9,719.1 150.9,719.4 C152.8,719.7 153.6,719.9 155.6,720.5 C157.5,721.1 159.7,721.8 162.7,722.7 C165.6,723.6 169.6,724.8 173.1,725.7 C176.6,726.5 180.0,727.4 183.5,727.8 C186.9,728.2 191.0,728.6 193.9,728.2 C196.9,727.8 198.9,726.0 201.2,725.4 C203.5,724.8 206.2,725.2 207.7,724.6 C209.2,724.0 209.5,722.9 210.4,721.8 C211.3,720.8 212.3,720.0 213.2,718.6 C214.0,717.2 214.8,715.5 215.5,713.6 C216.2,711.7 216.7,709.2 217.3,707.2 C217.9,705.2 218.5,703.1 219.2,701.7 C219.9,700.2 220.7,699.2 221.5,698.5 C222.4,697.7 223.2,697.3 224.3,697.1 C225.4,696.8 226.8,697.1 228.0,697.2 C229.2,697.3 230.2,697.8 231.3,697.8 C232.3,697.8 233.6,697.4 234.5,697.5 C235.4,697.6 235.6,697.8 236.8,698.5 C238.0,699.3 239.1,700.9 241.7,702.1 C244.2,703.2 248.6,704.1 252.1,705.4 C255.5,706.6 260.0,708.6 262.5,709.6 C265.0,710.7 265.6,711.0 267.0,711.4 C268.3,711.9 269.4,713.0 270.5,712.5 C271.7,711.9 272.9,710.0 274.0,708.1 C275.1,706.2 276.0,702.9 277.0,701.2 C277.9,699.4 278.8,699.1 279.9,697.7 C280.9,696.3 282.3,693.1 283.4,692.7 C284.5,692.2 285.3,694.5 286.3,694.9 C287.3,695.4 288.4,695.0 289.3,695.4 C290.2,695.8 290.5,696.8 291.6,697.4 C292.8,698.0 294.9,698.4 296.3,698.9 C297.7,699.5 298.5,700.0 299.8,700.6 C301.1,701.2 302.8,702.5 303.9,702.4 C305.1,702.4 306.1,701.5 306.8,700.0 C307.6,698.5 308.1,698.0 308.6,693.4 C309.1,688.8 309.4,679.8 310.0,672.4 C310.7,665.0 311.6,654.3 312.5,648.9 C313.5,643.4 314.7,640.4 315.5,639.7 C316.3,638.9 316.7,641.9 317.6,644.4 C318.5,646.8 319.7,651.2 320.9,654.4 C322.2,657.7 324.1,662.8 325.1,664.1 C326.1,665.4 326.5,664.0 327.2,662.3 C327.9,660.5 328.7,656.7 329.3,653.6 C329.8,650.4 330.0,645.6 330.6,643.4 C331.1,641.2 331.5,640.4 332.3,640.2 C333.1,640.0 334.6,641.7 335.4,642.2 C336.3,642.8 336.6,642.3 337.5,643.3 C338.5,644.2 340.1,648.0 341.0,648.0 C342.0,648.0 342.6,644.6 343.4,643.2 C344.3,641.9 345.0,640.1 345.9,639.8 C346.8,639.6 347.9,641.3 348.7,641.8 C349.5,642.4 350.1,643.1 350.8,643.2 C351.5,643.3 352.2,645.5 352.8,642.5 C353.5,639.4 353.9,631.3 354.9,624.8 C356.0,618.4 358.2,608.1 359.1,603.7 C360.0,599.3 359.7,598.5 360.2,598.3 C360.6,598.1 361.4,601.9 361.9,602.7 C362.4,603.5 362.8,602.4 363.3,603.0 C363.7,603.7 364.1,605.1 364.7,606.4 C365.3,607.8 366.1,610.5 366.8,611.2 C367.4,611.9 367.9,611.4 368.5,610.5 C369.1,609.6 369.7,608.1 370.3,605.8 C370.8,603.4 371.5,599.3 372.0,596.3 C372.4,593.2 372.7,591.0 373.0,587.4 C373.4,583.9 373.6,578.2 374.1,575.0 C374.5,571.8 375.0,570.0 375.5,568.3 C375.9,566.5 376.6,565.2 376.9,564.6" fill="none" stroke="#288adc" stroke-width="1.1" stroke-linejoin="round" stroke-linecap="round" />
<path d="M61.5,703.7 C64.0,704.4 71.4,706.4 76.5,707.9 C81.6,709.4 86.9,711.1 92.1,712.5 C97.3,713.9 103.1,715.1 107.8,716.2 C112.4,717.2 116.1,718.0 119.9,718.6 C123.7,719.2 127.5,719.6 130.5,719.7 C133.6,719.8 136.1,719.4 138.4,719.3 C140.6,719.2 141.7,719.0 143.8,719.1 C145.9,719.2 148.9,719.6 150.9,719.9 C152.8,720.2 153.6,720.4 155.6,721.0 C157.5,721.5 159.7,722.3 162.7,723.1 C165.6,724.0 169.6,725.2 173.1,726.0 C176.6,726.9 180.0,727.7 183.5,728.1 C186.9,728.5 191.0,728.9 193.9,728.5 C196.9,728.1 198.9,726.3 201.2,725.7 C203.5,725.1 206.2,725.6 207.7,725.0 C209.2,724.4 209.5,723.3 210.4,722.3 C211.3,721.3 212.3,720.4 213.2,719.0 C214.0,717.7 214.8,715.9 215.5,714.0 C216.2,712.1 216.7,709.6 217.3,707.7 C217.9,705.7 218.5,703.6 219.2,702.2 C219.9,700.7 220.7,699.7 221.5,699.0 C222.4,698.2 223.2,697.7 224.3,697.5 C225.4,697.3 226.8,697.6 228.0,697.7 C229.2,697.8 230.2,698.2 231.3,698.3 C232.3,698.3 233.6,697.8 234.5,697.9 C235.4,698.0 235.6,698.2 236.8,699.0 C238.0,699.7 239.1,701.4 241.7,702.5 C244.2,703.6 248.6,704.5 252.1,705.7 C255.5,707.0 260.0,709.0 262.5,710.0 C265.0,711.0 265.6,711.4 267.0,711.8 C268.3,712.3 269.4,713.4 270.5,712.8 C271.7,712.3 272.9,710.3 274.0,708.5 C275.1,706.6 276.0,703.3 277.0,701.5 C277.9,699.8 278.8,699.5 279.9,698.1 C280.9,696.6 282.3,693.5 283.4,693.1 C284.5,692.6 285.3,694.9 286.3,695.3 C287.3,695.8 288.4,695.4 289.3,695.8 C290.2,696.2 290.5,697.2 291.6,697.8 C292.8,698.4 294.9,698.8 296.3,699.4 C297.7,699.9 298.5,700.4 299.8,701.0 C301.1,701.6 302.8,703.0 303.9,702.9 C305.1,702.9 306.1,702.1 306.8,700.6 C307.6,699.2 308.1,698.8 308.6,694.2 C309.1,689.6 309.4,680.6 310.0,673.2 C310.7,665.8 311.6,655.3 312.5,649.9 C313.5,644.6 314.7,641.7 315.5,641.0 C316.3,640.2 316.7,643.1 317.6,645.5 C318.5,647.9 319.7,652.1 320.9,655.3 C322.2,658.5 324.1,663.3 325.1,664.6 C326.1,665.9 326.5,664.6 327.2,662.8 C327.9,661.0 328.7,657.2 329.3,654.0 C329.8,650.9 330.0,646.1 330.6,643.8 C331.1,641.6 331.5,640.8 332.3,640.6 C333.1,640.4 334.6,642.1 335.4,642.6 C336.3,643.1 336.6,642.7 337.5,643.7 C338.5,644.6 340.1,648.4 341.0,648.4 C342.0,648.4 342.6,645.0 343.4,643.7 C344.3,642.3 345.0,640.5 345.9,640.3 C346.8,640.0 347.9,641.7 348.7,642.3 C349.5,642.8 350.1,643.5 350.8,643.7 C351.5,643.8 352.2,646.0 352.8,642.9 C353.5,639.9 353.9,631.8 354.9,625.3 C356.0,618.9 358.2,608.7 359.1,604.2 C360.0,599.8 359.7,599.0 360.2,598.8 C360.6,598.7 361.4,602.4 361.9,603.2 C362.4,604.0 362.8,602.9 363.3,603.6 C363.7,604.2 364.1,605.6 364.7,607.0 C365.3,608.3 366.1,611.1 366.8,611.7 C367.4,612.4 367.9,612.0 368.5,611.1 C369.1,610.2 369.7,608.7 370.3,606.3 C370.8,603.9 371.5,599.9 372.0,596.8 C372.4,593.7 372.7,591.5 373.0,588.0 C373.4,584.4 373.6,578.8 374.1,575.6 C374.5,572.4 375.0,570.5 375.5,568.8 C375.9,567.1 376.6,565.8 376.9,565.2" fill="none" stroke="#2f92e1" stroke-width="1.1" stroke-linejoin="round" stroke-linecap="round" />
<path d="M61.5,704.6 C64.0,705.3 71.4,707.3 76.5,708.7 C81.6,710.2 86.9,711.9 92.1,713.3 C97.3,714.6 103.1,715.9 107.8,716.9 C112.4,717.9 116.1,718.7 119.9,719.3 C123.7,719.8 127.5,720.2 130.5,720.3 C133.6,720.4 136.1,720.0 138.4,719.9 C140.6,719.8 141.7,719.6 143.8,719.6 C145.9,719.7 148.9,720.1 150.9,720.4 C152.8,720.7 153.6,720.9 155.6,721.4 C157.5,722.0 159.7,722.7 162.7,723.5 C165.6,724.4 169.6,725.6 173.1,726.4 C176.6,727.2 180.0,727.9 183.5,728.3 C186.9,728.7 191.0,729.2 193.9,728.8 C196.9,728.4 198.9,726.6 201.2,726.0 C203.5,725.5 206.2,726.0 207.7,725.4 C209.2,724.9 209.5,723.7 210.4,722.7 C211.3,721.7 212.3,720.8 213.2,719.5 C214.0,718.1 214.8,716.4 215.5,714.5 C216.2,712.6 216.7,710.1 217.3,708.1 C217.9,706.2 218.5,704.1 219.2,702.7 C219.9,701.2 220.7,700.2 221.5,699.4 C222.4,698.7 223.2,698.2 224.3,698.0 C225.4,697.8 226.8,698.0 228.0,698.1 C229.2,698.3 230.2,698.7 231.3,698.7 C232.3,698.8 233.6,698.3 234.5,698.4 C235.4,698.5 235.6,698.7 236.8,699.4 C238.0,700.2 239.1,701.8 241.7,702.9 C244.2,704.0 248.6,704.9 252.1,706.1 C255.5,707.4 260.0,709.4 262.5,710.4 C265.0,711.4 265.6,711.7 267.0,712.2 C268.3,712.7 269.4,713.8 270.5,713.2 C271.7,712.6 272.9,710.7 274.0,708.8 C275.1,707.0 276.0,703.6 277.0,701.9 C277.9,700.2 278.8,699.8 279.9,698.4 C280.9,697.0 282.3,693.9 283.4,693.5 C284.5,693.0 285.3,695.3 286.3,695.7 C287.3,696.2 288.4,695.8 289.3,696.2 C290.2,696.7 290.5,697.6 291.6,698.2 C292.8,698.8 294.9,699.3 296.3,699.8 C297.7,700.3 298.5,700.9 299.8,701.5 C301.1,702.1 302.8,703.4 303.9,703.4 C305.1,703.4 306.1,702.7 306.8,701.3 C307.6,699.9 308.1,699.5 308.6,694.9 C309.1,690.4 309.4,681.4 310.0,674.0 C310.7,666.7 311.6,656.3 312.5,651.0 C313.5,645.7 314.7,643.0 315.5,642.3 C316.3,641.5 316.7,644.3 317.6,646.6 C318.5,648.9 319.7,653.1 320.9,656.1 C322.2,659.2 324.1,663.9 325.1,665.1 C326.1,666.3 326.5,665.1 327.2,663.3 C327.9,661.5 328.7,657.7 329.3,654.5 C329.8,651.3 330.0,646.5 330.6,644.3 C331.1,642.0 331.5,641.3 332.3,641.0 C333.1,640.8 334.6,642.5 335.4,643.0 C336.3,643.5 336.6,643.1 337.5,644.0 C338.5,645.0 340.1,648.8 341.0,648.8 C342.0,648.8 342.6,645.4 343.4,644.1 C344.3,642.7 345.0,640.9 345.9,640.7 C346.8,640.5 347.9,642.1 348.7,642.7 C349.5,643.3 350.1,644.0 350.8,644.1 C351.5,644.2 352.2,646.5 352.8,643.4 C353.5,640.4 353.9,632.3 354.9,625.8 C356.0,619.4 358.2,609.2 359.1,604.8 C360.0,600.4 359.7,599.5 360.2,599.4 C360.6,599.2 361.4,603.0 361.9,603.8 C362.4,604.6 362.8,603.5 363.3,604.1 C363.7,604.7 364.1,606.2 364.7,607.5 C365.3,608.9 366.1,611.6 366.8,612.3 C367.4,613.0 367.9,612.5 368.5,611.6 C369.1,610.7 369.7,609.2 370.3,606.9 C370.8,604.5 371.5,600.4 372.0,597.3 C372.4,594.3 372.7,592.0 373.0,588.5 C373.4,585.0 373.6,579.3 374.1,576.1 C374.5,572.9 375.0,571.1 375.5,569.4 C375.9,567.6 376.6,566.3 376.9,565.7" fill="none" stroke="#369ae5" stroke-width="1.1" stroke-linejoin="round" stroke-linecap="round" />
<path d="M61.5,705.5 C64.0,706.2 71.4,708.2 76.5,709.6 C81.6,711.0 86.9,712.7 92.1,714.1 C97.3,715.4 103.1,716.6 107.8,717.6 C112.4,718.6 116.1,719.4 119.9,720.0 C123.7,720.5 127.5,720.8 130.5,720.9 C133.6,721.0 136.1,720.6 138.4,720.5 C140.6,720.4 141.7,720.1 143.8,720.2 C145.9,720.3 148.9,720.6 150.9,720.9 C152.8,721.2 153.6,721.4 155.6,721.9 C157.5,722.4 159.7,723.2 162.7,724.0 C165.6,724.8 169.6,725.9 173.1,726.7 C176.6,727.5 180.0,728.2 183.5,728.6 C186.9,729.0 191.0,729.4 193.9,729.1 C196.9,728.7 198.9,726.9 201.2,726.4 C203.5,725.8 206.2,726.4 207.7,725.8 C209.2,725.3 209.5,724.1 210.4,723.1 C211.3,722.1 212.3,721.3 213.2,719.9 C214.0,718.6 214.8,716.8 215.5,715.0 C216.2,713.1 216.7,710.6 217.3,708.6 C217.9,706.7 218.5,704.6 219.2,703.2 C219.9,701.7 220.7,700.7 221.5,699.9 C222.4,699.2 223.2,698.7 224.3,698.5 C225.4,698.3 226.8,698.5 228.0,698.6 C229.2,698.7 230.2,699.1 231.3,699.2 C232.3,699.2 233.6,698.7 234.5,698.8 C235.4,698.9 235.6,699.1 236.8,699.8 C238.0,700.6 239.1,702.2 241.7,703.3 C244.2,704.4 248.6,705.3 252.1,706.5 C255.5,707.8 260.0,709.8 262.5,710.8 C265.0,711.8 265.6,712.1 267.0,712.6 C268.3,713.0 269.4,714.1 270.5,713.6 C271.7,713.0 272.9,711.1 274.0,709.2 C275.1,707.3 276.0,704.0 277.0,702.3 C277.9,700.6 278.8,700.2 279.9,698.8 C280.9,697.4 282.3,694.3 283.4,693.9 C284.5,693.4 285.3,695.7 286.3,696.1 C287.3,696.6 288.4,696.2 289.3,696.6 C290.2,697.1 290.5,698.0 291.6,698.6 C292.8,699.2 294.9,699.7 296.3,700.2 C297.7,700.8 298.5,701.3 299.8,701.9 C301.1,702.5 302.8,703.8 303.9,703.8 C305.1,703.8 306.1,703.3 306.8,701.9 C307.6,700.5 308.1,700.2 308.6,695.7 C309.1,691.1 309.4,682.1 310.0,674.8 C310.7,667.6 311.6,657.2 312.5,652.0 C313.5,646.8 314.7,644.3 315.5,643.6 C316.3,642.8 316.7,645.5 317.6,647.8 C318.5,650.0 319.7,654.0 320.9,657.0 C322.2,660.0 324.1,664.5 325.1,665.7 C326.1,666.8 326.5,665.6 327.2,663.8 C327.9,662.0 328.7,658.1 329.3,655.0 C329.8,651.8 330.0,647.0 330.6,644.7 C331.1,642.5 331.5,641.7 332.3,641.4 C333.1,641.2 334.6,642.8 335.4,643.3 C336.3,643.8 336.6,643.4 337.5,644.4 C338.5,645.4 340.1,649.2 341.0,649.2 C342.0,649.2 342.6,645.8 343.4,644.5 C344.3,643.1 345.0,641.3 345.9,641.1 C346.8,640.9 347.9,642.6 348.7,643.2 C349.5,643.8 350.1,644.5 350.8,644.6 C351.5,644.7 352.2,647.0 352.8,643.9 C353.5,640.9 353.9,632.7 354.9,626.3 C356.0,619.9 358.2,609.7 359.1,605.3 C360.0,600.9 359.7,600.0 360.2,599.9 C360.6,599.7 361.4,603.5 361.9,604.3 C362.4,605.1 362.8,604.0 363.3,604.7 C363.7,605.3 364.1,606.7 364.7,608.1 C365.3,609.4 366.1,612.1 366.8,612.8 C367.4,613.5 367.9,613.1 368.5,612.1 C369.1,611.2 369.7,609.8 370.3,607.4 C370.8,605.0 371.5,600.9 372.0,597.9 C372.4,594.8 372.7,592.6 373.0,589.1 C373.4,585.5 373.6,579.9 374.1,576.7 C374.5,573.5 375.0,571.6 375.5,569.9 C375.9,568.2 376.6,566.9 376.9,566.2" fill="none" stroke="#41a3e9" stroke-width="1.1" stroke-linejoin="round" stroke-linecap="round" />
<path d="M61.5,706.4 C64.0,707.1 71.4,709.0 76.5,710.4 C81.6,711.8 86.9,713.5 92.1,714.9 C97.3,716.2 103.1,717.4 107.8,718.3 C112.4,719.3 116.1,720.1 119.9,720.6 C123.7,721.2 127.5,721.5 130.5,721.5 C133.6,721.6 136.1,721.2 138.4,721.1 C140.6,720.9 141.7,720.7 143.8,720.8 C145.9,720.8 148.9,721.1 150.9,721.4 C152.8,721.7 153.6,721.9 155.6,722.4 C157.5,722.9 159.7,723.6 162.7,724.4 C165.6,725.2 169.6,726.3 173.1,727.0 C176.6,727.8 180.0,728.5 183.5,728.9 C186.9,729.2 191.0,729.7 193.9,729.3 C196.9,729.0 198.9,727.2 201.2,726.7 C203.5,726.2 206.2,726.7 207.7,726.2 C209.2,725.7 209.5,724.5 210.4,723.5 C211.3,722.6 212.3,721.7 213.2,720.4 C214.0,719.0 214.8,717.3 215.5,715.4 C216.2,713.5 216.7,711.1 217.3,709.1 C217.9,707.1 218.5,705.1 219.2,703.7 C219.9,702.2 220.7,701.2 221.5,700.4 C222.4,699.6 223.2,699.2 224.3,699.0 C225.4,698.8 226.8,699.0 228.0,699.1 C229.2,699.2 230.2,699.6 231.3,699.6 C232.3,699.7 233.6,699.2 234.5,699.3 C235.4,699.4 235.6,699.5 236.8,700.3 C238.0,701.0 239.1,702.6 241.7,703.7 C244.2,704.9 248.6,705.7 252.1,706.9 C255.5,708.2 260.0,710.2 262.5,711.2 C265.0,712.2 265.6,712.5 267.0,712.9 C268.3,713.4 269.4,714.5 270.5,713.9 C271.7,713.4 272.9,711.4 274.0,709.6 C275.1,707.7 276.0,704.4 277.0,702.7 C277.9,700.9 278.8,700.6 279.9,699.2 C280.9,697.8 282.3,694.7 283.4,694.3 C284.5,693.8 285.3,696.1 286.3,696.5 C287.3,697.0 288.4,696.6 289.3,697.1 C290.2,697.5 290.5,698.4 291.6,699.0 C292.8,699.6 294.9,700.1 296.3,700.7 C297.7,701.2 298.5,701.7 299.8,702.3 C301.1,702.9 302.8,704.3 303.9,704.3 C305.1,704.3 306.1,703.9 306.8,702.5 C307.6,701.2 308.1,700.9 308.6,696.4 C309.1,691.9 309.4,682.9 310.0,675.7 C310.7,668.4 311.6,658.2 312.5,653.1 C313.5,647.9 314.7,645.5 315.5,644.9 C316.3,644.2 316.7,646.7 317.6,648.9 C318.5,651.1 319.7,655.0 320.9,657.9 C322.2,660.7 324.1,665.1 325.1,666.2 C326.1,667.3 326.5,666.1 327.2,664.3 C327.9,662.5 328.7,658.6 329.3,655.4 C329.8,652.2 330.0,647.4 330.6,645.2 C331.1,642.9 331.5,642.1 332.3,641.9 C333.1,641.6 334.6,643.2 335.4,643.7 C336.3,644.2 336.6,643.8 337.5,644.8 C338.5,645.8 340.1,649.6 341.0,649.6 C342.0,649.6 342.6,646.3 343.4,644.9 C344.3,643.6 345.0,641.8 345.9,641.6 C346.8,641.3 347.9,643.0 348.7,643.6 C349.5,644.2 350.1,644.9 350.8,645.1 C351.5,645.2 352.2,647.4 352.8,644.4 C353.5,641.3 353.9,633.2 354.9,626.8 C356.0,620.4 358.2,610.2 359.1,605.8 C360.0,601.4 359.7,600.6 360.2,600.4 C360.6,600.3 361.4,604.1 361.9,604.9 C362.4,605.7 362.8,604.6 363.3,605.2 C363.7,605.8 364.1,607.2 364.7,608.6 C365.3,610.0 366.1,612.7 366.8,613.4 C367.4,614.0 367.9,613.6 368.5,612.7 C369.1,611.8 369.7,610.3 370.3,607.9 C370.8,605.6 371.5,601.5 372.0,598.4 C372.4,595.4 372.7,593.1 373.0,589.6 C373.4,586.1 373.6,580.4 374.1,577.2 C374.5,574.0 375.0,572.2 375.5,570.4 C375.9,568.7 376.6,567.4 376.9,566.8" fill="none" stroke="#52abec" stroke-width="1.1" stroke-linejoin="round" stroke-linecap="round" />
<path d="M61.5,707.3 C64.0,708.0 71.4,709.9 76.5,711.3 C81.6,712.7 86.9,714.3 92.1,715.6 C97.3,716.9 103.1,718.1 107.8,719.0 C112.4,720.0 116.1,720.8 119.9,721.3 C123.7,721.8 127.5,722.1 130.5,722.2 C133.6,722.2 136.1,721.8 138.4,721.7 C140.6,721.5 141.7,721.3 143.8,721.3 C145.9,721.4 148.9,721.7 150.9,721.9 C152.8,722.2 153.6,722.4 155.6,722.9 C157.5,723.3 159.7,724.0 162.7,724.8 C165.6,725.5 169.6,726.7 173.1,727.4 C176.6,728.1 180.0,728.7 183.5,729.1 C186.9,729.5 191.0,730.0 193.9,729.6 C196.9,729.3 198.9,727.6 201.2,727.1 C203.5,726.6 206.2,727.1 207.7,726.6 C209.2,726.1 209.5,724.9 210.4,723.9 C211.3,723.0 212.3,722.2 213.2,720.8 C214.0,719.5 214.8,717.8 215.5,715.9 C216.2,714.0 216.7,711.5 217.3,709.6 C217.9,707.6 218.5,705.6 219.2,704.2 C219.9,702.7 220.7,701.7 221.5,700.9 C222.4,700.1 223.2,699.7 224.3,699.5 C225.4,699.2 226.8,699.4 228.0,699.5 C229.2,699.7 230.2,700.1 231.3,700.1 C232.3,700.1 233.6,699.6 234.5,699.7 C235.4,699.8 235.6,700.0 236.8,700.7 C238.0,701.5 239.1,703.1 241.7,704.2 C244.2,705.3 248.6,706.1 252.1,707.3 C255.5,708.6 260.0,710.5 262.5,711.5 C265.0,712.5 265.6,712.8 267.0,713.3 C268.3,713.8 269.4,714.8 270.5,714.3 C271.7,713.7 272.9,711.8 274.0,709.9 C275.1,708.1 276.0,704.8 277.0,703.0 C277.9,701.3 278.8,701.0 279.9,699.6 C280.9,698.2 282.3,695.1 283.4,694.7 C284.5,694.2 285.3,696.5 286.3,696.9 C287.3,697.4 288.4,697.0 289.3,697.5 C290.2,697.9 290.5,698.9 291.6,699.5 C292.8,700.1 294.9,700.5 296.3,701.1 C297.7,701.6 298.5,702.2 299.8,702.8 C301.1,703.4 302.8,704.7 303.9,704.8 C305.1,704.8 306.1,704.4 306.8,703.2 C307.6,701.9 308.1,701.6 308.6,697.1 C309.1,692.7 309.4,683.6 310.0,676.5 C310.7,669.3 311.6,659.2 312.5,654.1 C313.5,649.1 314.7,646.8 315.5,646.1 C316.3,645.5 316.7,647.9 317.6,650.0 C318.5,652.1 319.7,655.9 320.9,658.7 C322.2,661.5 324.1,665.7 325.1,666.7 C326.1,667.8 326.5,666.6 327.2,664.8 C327.9,663.0 328.7,659.1 329.3,655.9 C329.8,652.7 330.0,647.9 330.6,645.6 C331.1,643.3 331.5,642.5 332.3,642.3 C333.1,642.0 334.6,643.6 335.4,644.1 C336.3,644.5 336.6,644.2 337.5,645.2 C338.5,646.2 340.1,650.0 341.0,650.0 C342.0,650.0 342.6,646.7 343.4,645.3 C344.3,644.0 345.0,642.2 345.9,642.0 C346.8,641.8 347.9,643.5 348.7,644.1 C349.5,644.7 350.1,645.4 350.8,645.5 C351.5,645.7 352.2,647.9 352.8,644.9 C353.5,641.8 353.9,633.7 354.9,627.3 C356.0,620.9 358.2,610.7 359.1,606.3 C360.0,602.0 359.7,601.1 360.2,601.0 C360.6,600.8 361.4,604.6 361.9,605.4 C362.4,606.2 362.8,605.1 363.3,605.7 C363.7,606.4 364.1,607.8 364.7,609.2 C365.3,610.5 366.1,613.2 366.8,613.9 C367.4,614.6 367.9,614.1 368.5,613.2 C369.1,612.3 369.7,610.9 370.3,608.5 C370.8,606.1 371.5,602.0 372.0,599.0 C372.4,595.9 372.7,593.7 373.0,590.1 C373.4,586.6 373.6,580.9 374.1,577.8 C374.5,574.6 375.0,572.7 375.5,571.0 C375.9,569.2 376.6,567.9 376.9,567.3" fill="none" stroke="#63b4ee" stroke-width="1.1" stroke-linejoin="round" stroke-linecap="round" />
<path d="M61.5,708.2 C64.0,708.9 71.4,710.8 76.5,712.1 C81.6,713.5 86.9,715.2 92.1,716.4 C97.3,717.7 103.1,718.8 107.8,719.8 C112.4,720.7 116.1,721.5 119.9,722.0 C123.7,722.5 127.5,722.8 130.5,722.8 C133.6,722.9 136.1,722.4 138.4,722.3 C140.6,722.1 141.7,721.9 143.8,721.9 C145.9,721.9 148.9,722.2 150.9,722.4 C152.8,722.7 153.6,722.9 155.6,723.3 C157.5,723.8 159.7,724.5 162.7,725.2 C165.6,725.9 169.6,727.0 173.1,727.7 C176.6,728.4 180.0,729.0 183.5,729.4 C186.9,729.7 191.0,730.2 193.9,729.9 C196.9,729.6 198.9,727.9 201.2,727.4 C203.5,726.9 206.2,727.5 207.7,727.0 C209.2,726.5 209.5,725.3 210.4,724.4 C211.3,723.4 212.3,722.6 213.2,721.3 C214.0,719.9 214.8,718.2 215.5,716.4 C216.2,714.5 216.7,712.0 217.3,710.1 C217.9,708.1 218.5,706.1 219.2,704.7 C219.9,703.2 220.7,702.2 221.5,701.4 C222.4,700.6 223.2,700.2 224.3,699.9 C225.4,699.7 226.8,699.9 228.0,700.0 C229.2,700.1 230.2,700.5 231.3,700.5 C232.3,700.6 233.6,700.1 234.5,700.2 C235.4,700.3 235.6,700.4 236.8,701.2 C238.0,701.9 239.1,703.5 241.7,704.6 C244.2,705.7 248.6,706.5 252.1,707.7 C255.5,709.0 260.0,710.9 262.5,711.9 C265.0,712.9 265.6,713.2 267.0,713.7 C268.3,714.1 269.4,715.2 270.5,714.7 C271.7,714.1 272.9,712.2 274.0,710.3 C275.1,708.4 276.0,705.1 277.0,703.4 C277.9,701.7 278.8,701.4 279.9,700.0 C280.9,698.6 282.3,695.5 283.4,695.1 C284.5,694.6 285.3,696.9 286.3,697.3 C287.3,697.8 288.4,697.5 289.3,697.9 C290.2,698.3 290.5,699.3 291.6,699.9 C292.8,700.5 294.9,701.0 296.3,701.5 C297.7,702.1 298.5,702.6 299.8,703.2 C301.1,703.8 302.8,705.2 303.9,705.2 C305.1,705.3 306.1,705.0 306.8,703.8 C307.6,702.6 308.1,702.3 308.6,697.9 C309.1,693.4 309.4,684.4 310.0,677.3 C310.7,670.2 311.6,660.1 312.5,655.1 C313.5,650.2 314.7,648.1 315.5,647.4 C316.3,646.8 316.7,649.1 317.6,651.1 C318.5,653.2 319.7,656.9 320.9,659.6 C322.2,662.3 324.1,666.3 325.1,667.3 C326.1,668.2 326.5,667.1 327.2,665.3 C327.9,663.5 328.7,659.6 329.3,656.4 C329.8,653.2 330.0,648.3 330.6,646.1 C331.1,643.8 331.5,643.0 332.3,642.7 C333.1,642.4 334.6,643.9 335.4,644.4 C336.3,644.9 336.6,644.5 337.5,645.5 C338.5,646.5 340.1,650.4 341.0,650.4 C342.0,650.5 342.6,647.1 343.4,645.8 C344.3,644.4 345.0,642.6 345.9,642.4 C346.8,642.2 347.9,643.9 348.7,644.5 C349.5,645.1 350.1,645.9 350.8,646.0 C351.5,646.1 352.2,648.4 352.8,645.4 C353.5,642.3 353.9,634.2 354.9,627.8 C356.0,621.4 358.2,611.3 359.1,606.9 C360.0,602.5 359.7,601.6 360.2,601.5 C360.6,601.3 361.4,605.2 361.9,606.0 C362.4,606.8 362.8,605.7 363.3,606.3 C363.7,606.9 364.1,608.3 364.7,609.7 C365.3,611.1 366.1,613.8 366.8,614.4 C367.4,615.1 367.9,614.7 368.5,613.8 C369.1,612.9 369.7,611.4 370.3,609.0 C370.8,606.6 371.5,602.6 372.0,599.5 C372.4,596.5 372.7,594.2 373.0,590.7 C373.4,587.1 373.6,581.5 374.1,578.3 C374.5,575.1 375.0,573.3 375.5,571.5 C375.9,569.8 376.6,568.5 376.9,567.9" fill="none" stroke="#74bdf0" stroke-width="1.1" stroke-linejoin="round" stroke-linecap="round" />
<path d="M61.5,709.2 C64.0,709.8 71.4,711.6 76.5,713.0 C81.6,714.3 86.9,716.0 92.1,717.2 C97.3,718.5 103.1,719.6 107.8,720.5 C112.4,721.4 116.1,722.1 119.9,722.6 C123.7,723.1 127.5,723.4 130.5,723.4 C133.6,723.5 136.1,723.0 138.4,722.9 C140.6,722.7 141.7,722.4 143.8,722.5 C145.9,722.5 148.9,722.7 150.9,722.9 C152.8,723.2 153.6,723.4 155.6,723.8 C157.5,724.3 159.7,724.9 162.7,725.6 C165.6,726.3 169.6,727.4 173.1,728.1 C176.6,728.7 180.0,729.3 183.5,729.6 C186.9,730.0 191.0,730.5 193.9,730.2 C196.9,729.9 198.9,728.2 201.2,727.7 C203.5,727.3 206.2,727.9 207.7,727.4 C209.2,726.9 209.5,725.7 210.4,724.8 C211.3,723.8 212.3,723.0 213.2,721.7 C214.0,720.4 214.8,718.7 215.5,716.8 C216.2,715.0 216.7,712.5 217.3,710.5 C217.9,708.6 218.5,706.6 219.2,705.2 C219.9,703.7 220.7,702.7 221.5,701.9 C222.4,701.1 223.2,700.7 224.3,700.4 C225.4,700.2 226.8,700.4 228.0,700.5 C229.2,700.6 230.2,701.0 231.3,701.0 C232.3,701.0 233.6,700.5 234.5,700.6 C235.4,700.7 235.6,700.9 236.8,701.6 C238.0,702.3 239.1,703.9 241.7,705.0 C244.2,706.1 248.6,706.9 252.1,708.1 C255.5,709.3 260.0,711.3 262.5,712.3 C265.0,713.3 265.6,713.6 267.0,714.0 C268.3,714.5 269.4,715.6 270.5,715.0 C271.7,714.5 272.9,712.5 274.0,710.7 C275.1,708.8 276.0,705.5 277.0,703.8 C277.9,702.1 278.8,701.8 279.9,700.4 C280.9,699.0 282.3,695.9 283.4,695.4 C284.5,695.0 285.3,697.3 286.3,697.7 C287.3,698.2 288.4,697.9 289.3,698.3 C290.2,698.7 290.5,699.7 291.6,700.3 C292.8,700.9 294.9,701.4 296.3,702.0 C297.7,702.5 298.5,703.0 299.8,703.7 C301.1,704.3 302.8,705.6 303.9,705.7 C305.1,705.8 306.1,705.6 306.8,704.4 C307.6,703.2 308.1,703.0 308.6,698.6 C309.1,694.2 309.4,685.2 310.0,678.1 C310.7,671.0 311.6,661.1 312.5,656.2 C313.5,651.3 314.7,649.4 315.5,648.7 C316.3,648.1 316.7,650.3 317.6,652.3 C318.5,654.2 319.7,657.8 320.9,660.4 C322.2,663.0 324.1,666.9 325.1,667.8 C326.1,668.7 326.5,667.6 327.2,665.8 C327.9,664.0 328.7,660.0 329.3,656.8 C329.8,653.6 330.0,648.8 330.6,646.5 C331.1,644.2 331.5,643.4 332.3,643.1 C333.1,642.8 334.6,644.3 335.4,644.8 C336.3,645.3 336.6,644.9 337.5,645.9 C338.5,646.9 340.1,650.8 341.0,650.8 C342.0,650.9 342.6,647.5 343.4,646.2 C344.3,644.8 345.0,643.1 345.9,642.9 C346.8,642.7 347.9,644.4 348.7,645.0 C349.5,645.6 350.1,646.3 350.8,646.5 C351.5,646.6 352.2,648.9 352.8,645.8 C353.5,642.8 353.9,634.7 354.9,628.3 C356.0,621.9 358.2,611.8 359.1,607.4 C360.0,603.0 359.7,602.2 360.2,602.0 C360.6,601.9 361.4,605.7 361.9,606.5 C362.4,607.3 362.8,606.2 363.3,606.8 C363.7,607.5 364.1,608.9 364.7,610.2 C365.3,611.6 366.1,614.3 366.8,615.0 C367.4,615.7 367.9,615.2 368.5,614.3 C369.1,613.4 369.7,611.9 370.3,609.6 C370.8,607.2 371.5,603.1 372.0,600.1 C372.4,597.0 372.7,594.8 373.0,591.2 C373.4,587.7 373.6,582.0 374.1,578.8 C374.5,575.6 375.0,573.8 375.5,572.1 C375.9,570.3 376.6,569.0 376.9,568.4" fill="none" stroke="#86c6f3" stroke-width="1.1" stroke-linejoin="round" stroke-linecap="round" />
<path d="M61.5,710.1 C64.0,710.7 71.4,712.5 76.5,713.8 C81.6,715.1 86.9,716.8 92.1,718.0 C97.3,719.2 103.1,720.3 107.8,721.2 C112.4,722.1 116.1,722.8 119.9,723.3 C123.7,723.8 127.5,724.0 130.5,724.1 C133.6,724.1 136.1,723.6 138.4,723.5 C140.6,723.3 141.7,723.0 143.8,723.0 C145.9,723.0 148.9,723.2 150.9,723.5 C152.8,723.7 153.6,723.8 155.6,724.3 C157.5,724.7 159.7,725.4 162.7,726.0 C165.6,726.7 169.6,727.8 173.1,728.4 C176.6,729.0 180.0,729.6 183.5,729.9 C186.9,730.2 191.0,730.8 193.9,730.4 C196.9,730.1 198.9,728.5 201.2,728.1 C203.5,727.6 206.2,728.3 207.7,727.8 C209.2,727.3 209.5,726.1 210.4,725.2 C211.3,724.3 212.3,723.5 213.2,722.1 C214.0,720.8 214.8,719.1 215.5,717.3 C216.2,715.4 216.7,712.9 217.3,711.0 C217.9,709.1 218.5,707.1 219.2,705.7 C219.9,704.2 220.7,703.2 221.5,702.4 C222.4,701.6 223.2,701.1 224.3,700.9 C225.4,700.7 226.8,700.9 228.0,701.0 C229.2,701.0 230.2,701.4 231.3,701.5 C232.3,701.5 233.6,701.0 234.5,701.0 C235.4,701.1 235.6,701.3 236.8,702.0 C238.0,702.8 239.1,704.3 241.7,705.4 C244.2,706.5 248.6,707.3 252.1,708.5 C255.5,709.7 260.0,711.7 262.5,712.7 C265.0,713.7 265.6,714.0 267.0,714.4 C268.3,714.9 269.4,715.9 270.5,715.4 C271.7,714.8 272.9,712.9 274.0,711.0 C275.1,709.2 276.0,705.9 277.0,704.2 C277.9,702.5 278.8,702.1 279.9,700.7 C280.9,699.4 282.3,696.3 283.4,695.8 C284.5,695.4 285.3,697.7 286.3,698.1 C287.3,698.6 288.4,698.3 289.3,698.7 C290.2,699.1 290.5,700.1 291.6,700.7 C292.8,701.3 294.9,701.8 296.3,702.4 C297.7,702.9 298.5,703.5 299.8,704.1 C301.1,704.7 302.8,706.0 303.9,706.2 C305.1,706.3 306.1,706.2 306.8,705.1 C307.6,703.9 308.1,703.7 308.6,699.3 C309.1,695.0 309.4,685.9 310.0,678.9 C310.7,671.9 311.6,662.0 312.5,657.2 C313.5,652.4 314.7,650.7 315.5,650.0 C316.3,649.4 316.7,651.5 317.6,653.4 C318.5,655.3 319.7,658.8 320.9,661.3 C322.2,663.8 324.1,667.5 325.1,668.4 C326.1,669.2 326.5,668.2 327.2,666.3 C327.9,664.5 328.7,660.5 329.3,657.3 C329.8,654.1 330.0,649.2 330.6,646.9 C331.1,644.7 331.5,643.8 332.3,643.5 C333.1,643.2 334.6,644.7 335.4,645.1 C336.3,645.6 336.6,645.3 337.5,646.3 C338.5,647.3 340.1,651.2 341.0,651.2 C342.0,651.3 342.6,647.9 343.4,646.6 C344.3,645.3 345.0,643.5 345.9,643.3 C346.8,643.1 347.9,644.8 348.7,645.4 C349.5,646.1 350.1,646.8 350.8,646.9 C351.5,647.1 352.2,649.3 352.8,646.3 C353.5,643.3 353.9,635.2 354.9,628.8 C356.0,622.4 358.2,612.3 359.1,607.9 C360.0,603.5 359.7,602.7 360.2,602.6 C360.6,602.4 361.4,606.2 361.9,607.0 C362.4,607.8 362.8,606.7 363.3,607.4 C363.7,608.0 364.1,609.4 364.7,610.8 C365.3,612.1 366.1,614.9 366.8,615.5 C367.4,616.2 367.9,615.8 368.5,614.9 C369.1,614.0 369.7,612.5 370.3,610.1 C370.8,607.7 371.5,603.7 372.0,600.6 C372.4,597.5 372.7,595.3 373.0,591.8 C373.4,588.2 373.6,582.6 374.1,579.4 C374.5,576.2 375.0,574.3 375.5,572.6 C375.9,570.9 376.6,569.6 376.9,569.0" fill="none" stroke="#97cff6" stroke-width="1.1" stroke-linejoin="round" stroke-linecap="round" />
<path d="M61.5,711.0 C64.0,711.6 71.4,713.4 76.5,714.7 C81.6,716.0 86.9,717.6 92.1,718.8 C97.3,720.0 103.1,721.0 107.8,721.9 C112.4,722.8 116.1,723.5 119.9,724.0 C123.7,724.4 127.5,724.7 130.5,724.7 C133.6,724.7 136.1,724.2 138.4,724.1 C140.6,723.9 141.7,723.6 143.8,723.6 C145.9,723.6 148.9,723.8 150.9,724.0 C152.8,724.2 153.6,724.3 155.6,724.8 C157.5,725.2 159.7,725.8 162.7,726.5 C165.6,727.1 169.6,728.1 173.1,728.7 C176.6,729.4 180.0,729.8 183.5,730.2 C186.9,730.5 191.0,731.0 193.9,730.7 C196.9,730.4 198.9,728.8 201.2,728.4 C203.5,728.0 206.2,728.7 207.7,728.2 C209.2,727.7 209.5,726.6 210.4,725.6 C211.3,724.7 212.3,723.9 213.2,722.6 C214.0,721.3 214.8,719.6 215.5,717.7 C216.2,715.9 216.7,713.4 217.3,711.5 C217.9,709.6 218.5,707.6 219.2,706.2 C219.9,704.7 220.7,703.7 221.5,702.9 C222.4,702.1 223.2,701.6 224.3,701.4 C225.4,701.1 226.8,701.3 228.0,701.4 C229.2,701.5 230.2,701.9 231.3,701.9 C232.3,701.9 233.6,701.4 234.5,701.5 C235.4,701.6 235.6,701.7 236.8,702.5 C238.0,703.2 239.1,704.8 241.7,705.9 C244.2,706.9 248.6,707.7 252.1,708.9 C255.5,710.1 260.0,712.1 262.5,713.1 C265.0,714.0 265.6,714.3 267.0,714.8 C268.3,715.2 269.4,716.3 270.5,715.7 C271.7,715.2 272.9,713.3 274.0,711.4 C275.1,709.5 276.0,706.3 277.0,704.5 C277.9,702.8 278.8,702.5 279.9,701.1 C280.9,699.7 282.3,696.7 283.4,696.2 C284.5,695.8 285.3,698.1 286.3,698.5 C287.3,699.0 288.4,698.7 289.3,699.1 C290.2,699.5 290.5,700.5 291.6,701.1 C292.8,701.7 294.9,702.2 296.3,702.8 C297.7,703.4 298.5,703.9 299.8,704.5 C301.1,705.2 302.8,706.5 303.9,706.6 C305.1,706.8 306.1,706.8 306.8,705.7 C307.6,704.6 308.1,704.4 308.6,700.1 C309.1,695.7 309.4,686.7 310.0,679.7 C310.7,672.8 311.6,663.0 312.5,658.3 C313.5,653.5 314.7,652.0 315.5,651.3 C316.3,650.7 316.7,652.7 317.6,654.5 C318.5,656.3 319.7,659.7 320.9,662.1 C322.2,664.5 324.1,668.1 325.1,668.9 C326.1,669.7 326.5,668.7 327.2,666.8 C327.9,665.0 328.7,661.0 329.3,657.8 C329.8,654.5 330.0,649.7 330.6,647.4 C331.1,645.1 331.5,644.2 332.3,643.9 C333.1,643.6 334.6,645.0 335.4,645.5 C336.3,646.0 336.6,645.7 337.5,646.7 C338.5,647.7 340.1,651.6 341.0,651.6 C342.0,651.7 342.6,648.3 343.4,647.0 C344.3,645.7 345.0,643.9 345.9,643.7 C346.8,643.5 347.9,645.3 348.7,645.9 C349.5,646.5 350.1,647.3 350.8,647.4 C351.5,647.6 352.2,649.8 352.8,646.8 C353.5,643.8 353.9,635.7 354.9,629.3 C356.0,622.9 358.2,612.8 359.1,608.4 C360.0,604.1 359.7,603.2 360.2,603.1 C360.6,602.9 361.4,606.8 361.9,607.6 C362.4,608.4 362.8,607.3 363.3,607.9 C363.7,608.5 364.1,610.0 364.7,611.3 C365.3,612.7 366.1,615.4 366.8,616.1 C367.4,616.8 367.9,616.3 368.5,615.4 C369.1,614.5 369.7,613.0 370.3,610.7 C370.8,608.3 371.5,604.2 372.0,601.1 C372.4,598.1 372.7,595.8 373.0,592.3 C373.4,588.8 373.6,583.1 374.1,579.9 C374.5,576.7 375.0,574.9 375.5,573.2 C375.9,571.4 376.6,570.1 376.9,569.5" fill="none" stroke="#a8d8f8" stroke-width="1.1" stroke-linejoin="round" stroke-linecap="round" /></g>
<line x1="420.5" y1="536.6" x2="420.5" y2="751.4" stroke="#5e5e5e" stroke-width="1.5"/>
<line x1="416.2" y1="751.4" x2="738.4" y2="751.4" stroke="#333" stroke-width="1.3"/>
<line x1="416.2" y1="751.4" x2="420.5" y2="751.4" stroke="#5e5e5e" stroke-width="1.2"/>
<line x1="416.2" y1="720.7" x2="420.5" y2="720.7" stroke="#5e5e5e" stroke-width="1.2"/>
<line x1="416.2" y1="689.9" x2="420.5" y2="689.9" stroke="#5e5e5e" stroke-width="1.2"/>
<line x1="416.2" y1="659.1" x2="420.5" y2="659.1" stroke="#5e5e5e" stroke-width="1.2"/>
<line x1="416.2" y1="628.4" x2="420.5" y2="628.4" stroke="#5e5e5e" stroke-width="1.2"/>
<line x1="416.2" y1="597.6" x2="420.5" y2="597.6" stroke="#5e5e5e" stroke-width="1.2"/>
<line x1="416.2" y1="566.9" x2="420.5" y2="566.9" stroke="#5e5e5e" stroke-width="1.2"/>
<line x1="416.2" y1="536.1" x2="420.5" y2="536.1" stroke="#5e5e5e" stroke-width="1.2"/>
<line x1="418.4" y1="736.0" x2="420.5" y2="736.0" stroke="#5e5e5e" stroke-width="1.1"/>
<line x1="418.4" y1="705.3" x2="420.5" y2="705.3" stroke="#5e5e5e" stroke-width="1.1"/>
<line x1="418.4" y1="674.5" x2="420.5" y2="674.5" stroke="#5e5e5e" stroke-width="1.1"/>
<line x1="418.4" y1="643.8" x2="420.5" y2="643.8" stroke="#5e5e5e" stroke-width="1.1"/>
<line x1="418.4" y1="613.0" x2="420.5" y2="613.0" stroke="#5e5e5e" stroke-width="1.1"/>
<line x1="418.4" y1="582.2" x2="420.5" y2="582.2" stroke="#5e5e5e" stroke-width="1.1"/>
<line x1="418.4" y1="551.5" x2="420.5" y2="551.5" stroke="#5e5e5e" stroke-width="1.1"/>
<line x1="446.2" y1="751.4" x2="446.2" y2="755.6" stroke="#444" stroke-width="1.2"/>
<line x1="543.6" y1="751.4" x2="543.6" y2="755.6" stroke="#444" stroke-width="1.2"/>
<line x1="641.0" y1="751.4" x2="641.0" y2="755.6" stroke="#444" stroke-width="1.2"/>
<line x1="738.4" y1="751.4" x2="738.4" y2="755.6" stroke="#444" stroke-width="1.2"/>
<line x1="494.9" y1="751.4" x2="494.9" y2="753.5" stroke="#444" stroke-width="1.1"/>
<line x1="592.3" y1="751.4" x2="592.3" y2="753.5" stroke="#444" stroke-width="1.1"/>
<line x1="689.7" y1="751.4" x2="689.7" y2="753.5" stroke="#444" stroke-width="1.1"/>
<text x="398.2" y="754.3" font-family="Liberation Sans, sans-serif" font-size="9.7" fill="#222" textLength="15.1" lengthAdjust="spacingAndGlyphs">1,6</text>
<text x="398.2" y="723.6" font-family="Liberation Sans, sans-serif" font-size="9.7" fill="#222" textLength="15.1" lengthAdjust="spacingAndGlyphs">1,8</text>
<text x="398.2" y="692.8" font-family="Liberation Sans, sans-serif" font-size="9.7" fill="#222" textLength="15.1" lengthAdjust="spacingAndGlyphs">2,0</text>
<text x="398.2" y="662.0" font-family="Liberation Sans, sans-serif" font-size="9.7" fill="#222" textLength="15.1" lengthAdjust="spacingAndGlyphs">2,2</text>
<text x="398.2" y="631.3" font-family="Liberation Sans, sans-serif" font-size="9.7" fill="#222" textLength="15.1" lengthAdjust="spacingAndGlyphs">2,4</text>
<text x="398.2" y="600.5" font-family="Liberation Sans, sans-serif" font-size="9.7" fill="#222" textLength="15.1" lengthAdjust="spacingAndGlyphs">2,6</text>
<text x="398.2" y="569.8" font-family="Liberation Sans, sans-serif" font-size="9.7" fill="#222" textLength="15.1" lengthAdjust="spacingAndGlyphs">2,8</text>
<text x="398.2" y="539.0" font-family="Liberation Sans, sans-serif" font-size="9.7" fill="#222" textLength="15.1" lengthAdjust="spacingAndGlyphs">3,0</text>
<text x="433.8" y="765.3" font-family="Liberation Sans, sans-serif" font-size="9.7" fill="#222" textLength="24.8" lengthAdjust="spacingAndGlyphs">4400</text>
<text x="531.2" y="765.3" font-family="Liberation Sans, sans-serif" font-size="9.7" fill="#222" textLength="24.8" lengthAdjust="spacingAndGlyphs">4300</text>
<text x="628.6" y="765.3" font-family="Liberation Sans, sans-serif" font-size="9.7" fill="#222" textLength="24.8" lengthAdjust="spacingAndGlyphs">4200</text>
<text x="726.0" y="765.3" font-family="Liberation Sans, sans-serif" font-size="9.7" fill="#222" textLength="24.8" lengthAdjust="spacingAndGlyphs">4100</text>
<text x="434" y="553.8" font-family="Liberation Sans, sans-serif" font-size="22.5" fill="#111" textLength="27.5" lengthAdjust="spacingAndGlyphs">A1</text>
<path d="M421.2,709.4 C422.1,707.8 424.2,702.4 426.5,699.8 C428.8,697.1 431.1,695.1 435.0,693.5 C438.9,691.9 444.2,691.5 449.8,690.3 C455.4,689.1 462.8,686.6 468.8,686.1 C474.8,685.6 480.2,686.9 485.8,687.1 C491.4,687.3 497.8,686.8 502.7,687.1 C507.6,687.5 511.6,689.2 515.5,689.2 C519.4,689.2 522.5,689.2 526.0,687.1 C529.5,685.0 533.1,679.9 536.6,676.5 C540.1,673.1 543.8,669.1 547.2,667.0 C550.6,664.9 553.6,663.6 556.8,663.8 C560.0,664.0 563.3,666.1 566.3,668.0 C569.3,669.9 572.0,672.8 575.0,675.3 C578.0,677.8 580.6,680.4 584.0,683.2 C587.4,686.0 591.9,690.2 595.3,692.2 C598.7,694.2 601.3,695.3 604.3,695.5 C607.3,695.7 610.3,694.1 613.3,693.3 C616.3,692.4 619.7,690.4 622.3,690.4 C624.9,690.4 626.5,691.7 629.1,693.3 C631.7,694.9 634.4,698.0 638.1,700.0 C641.9,702.0 647.9,704.5 651.6,705.2 C655.4,706.0 656.9,705.6 660.6,704.5 C664.4,703.4 669.6,700.8 674.1,698.5 C678.6,696.2 683.9,693.4 687.6,691.0 C691.4,688.6 693.6,687.9 696.6,684.3 C699.6,680.7 702.6,675.8 705.6,669.6 C708.6,663.4 711.6,654.6 714.6,647.1 C717.6,639.6 719.8,634.2 723.6,624.6 C727.4,615.0 734.9,595.5 737.2,589.7" fill="none" stroke="#3a9c62" stroke-width="1.1" stroke-linejoin="round" stroke-linecap="round" />
<path d="M421.2,680.8 C422.8,678.7 427.0,672.4 430.7,668.0 C434.4,663.6 438.4,659.1 443.4,654.3 C448.3,649.5 454.0,645.2 460.4,639.4 C466.8,633.6 476.1,624.9 481.6,619.3 C487.1,613.7 489.7,609.8 493.2,605.6 C496.7,601.4 499.7,597.0 502.7,593.9 C505.7,590.8 508.9,588.2 511.2,586.9 C513.5,585.5 514.4,585.3 516.5,585.8 C518.6,586.3 520.9,587.5 523.9,589.7 C526.9,591.9 531.0,596.9 534.5,599.2 C538.0,601.5 540.1,601.8 545.1,603.4 C550.1,605.0 559.2,608.2 564.2,608.7 C569.2,609.2 572.1,607.0 575.0,606.6 C577.9,606.2 579.5,605.5 581.8,606.1 C584.0,606.7 585.9,607.5 588.5,610.0 C591.1,612.5 594.1,617.6 597.5,621.2 C600.9,624.8 605.0,628.8 608.8,631.4 C612.5,634.0 615.9,635.5 620.0,637.0 C624.1,638.5 629.8,639.7 633.6,640.4 C637.4,641.1 638.1,641.3 642.6,641.0 C647.1,640.7 655.4,639.6 660.6,638.8 C665.9,637.9 669.6,637.5 674.1,635.9 C678.6,634.3 683.1,632.3 687.6,629.1 C692.1,625.9 696.6,622.0 701.1,616.7 C705.6,611.5 710.5,603.6 714.6,597.6 C718.7,591.6 722.1,586.5 725.9,580.7 C729.7,574.9 735.3,565.7 737.2,562.7" fill="none" stroke="#3199e0" stroke-width="1.1" stroke-linejoin="round" stroke-linecap="round" />
<path d="M421.2,689.2 C422.8,687.1 427.0,681.1 430.7,676.5 C434.4,671.9 438.4,667.0 443.4,661.7 C448.3,656.4 454.0,651.1 460.4,644.7 C466.8,638.4 476.3,629.6 481.6,623.6 C486.9,617.6 488.7,614.0 492.2,608.7 C495.7,603.4 499.5,596.6 502.7,591.8 C505.9,587.0 508.9,582.4 511.2,580.1 C513.5,577.8 514.4,577.8 516.5,578.0 C518.6,578.2 520.9,579.2 523.9,581.2 C526.9,583.2 531.0,587.8 534.5,589.7 C538.0,591.6 540.1,591.9 545.1,592.8 C550.1,593.7 559.2,595.1 564.2,595.0 C569.2,594.9 572.1,592.6 575.0,591.9 C577.9,591.2 579.5,590.4 581.8,590.8 C584.0,591.2 585.9,591.6 588.5,594.2 C591.1,596.8 594.1,602.5 597.5,606.6 C600.9,610.7 605.0,615.6 608.8,619.0 C612.5,622.4 615.9,624.7 620.0,626.8 C624.1,628.9 629.8,630.7 633.6,631.8 C637.4,632.9 638.1,633.1 642.6,633.2 C647.1,633.3 655.4,633.0 660.6,632.5 C665.9,632.0 669.6,631.9 674.1,630.2 C678.6,628.5 683.1,625.9 687.6,622.3 C692.1,618.7 696.6,614.4 701.1,608.8 C705.6,603.2 710.5,595.4 714.6,588.6 C718.7,581.9 722.1,575.6 725.9,568.3 C729.7,561.0 735.3,548.5 737.2,544.6" fill="none" stroke="#d8474a" stroke-width="1.1" stroke-linejoin="round" stroke-linecap="round" />
<path d="M421.2,679.7 C422.8,677.4 427.0,670.7 430.7,665.9 C434.4,661.1 438.4,656.4 443.4,651.1 C448.3,645.8 454.0,640.2 460.4,634.2 C466.8,628.2 476.0,620.8 481.6,615.1 C487.2,609.5 490.8,605.4 494.3,600.3 C497.8,595.2 499.9,589.5 502.7,584.4 C505.5,579.3 508.9,572.5 511.2,569.5 C513.5,566.5 514.4,566.4 516.5,566.4 C518.6,566.4 520.9,567.4 523.9,569.5 C526.9,571.6 531.0,576.8 534.5,579.1 C538.0,581.4 540.5,582.2 545.1,583.3 C549.7,584.4 557.9,585.8 562.1,585.8 C566.3,585.8 568.4,583.9 570.5,583.3 C572.6,582.7 573.1,582.6 575.0,582.3 C576.9,582.0 579.5,580.9 581.8,581.4 C584.0,581.9 585.9,582.5 588.5,585.2 C591.1,587.9 594.1,593.7 597.5,597.6 C600.9,601.5 605.0,605.8 608.8,608.8 C612.5,611.8 615.9,613.6 620.0,615.6 C624.1,617.6 629.8,619.9 633.6,620.8 C637.4,621.7 638.1,621.2 642.6,621.2 C647.1,621.2 655.4,621.1 660.6,620.5 C665.9,619.9 669.6,619.4 674.1,617.8 C678.6,616.2 683.1,614.1 687.6,611.1 C692.1,608.1 696.6,604.7 701.1,599.8 C705.6,594.9 710.5,587.8 714.6,581.8 C718.7,575.8 722.1,570.2 725.9,563.8 C729.7,557.4 735.3,546.9 737.2,543.5" fill="none" stroke="#2a2a2a" stroke-width="1.1" stroke-linejoin="round" stroke-linecap="round" />
<line x1="62.4" y1="781.2" x2="62.4" y2="1022.8" stroke="#5e5e5e" stroke-width="1.5"/>
<line x1="58.1" y1="1022.8" x2="383.6" y2="1022.8" stroke="#333" stroke-width="1.3"/>
<line x1="58.1" y1="993.0" x2="62.4" y2="993.0" stroke="#5e5e5e" stroke-width="1.2"/>
<line x1="58.1" y1="932.5" x2="62.4" y2="932.5" stroke="#5e5e5e" stroke-width="1.2"/>
<line x1="58.1" y1="872.0" x2="62.4" y2="872.0" stroke="#5e5e5e" stroke-width="1.2"/>
<line x1="58.1" y1="811.5" x2="62.4" y2="811.5" stroke="#5e5e5e" stroke-width="1.2"/>
<line x1="60.2" y1="1023.2" x2="62.4" y2="1023.2" stroke="#5e5e5e" stroke-width="1.1"/>
<line x1="60.2" y1="962.8" x2="62.4" y2="962.8" stroke="#5e5e5e" stroke-width="1.1"/>
<line x1="60.2" y1="902.2" x2="62.4" y2="902.2" stroke="#5e5e5e" stroke-width="1.1"/>
<line x1="60.2" y1="841.8" x2="62.4" y2="841.8" stroke="#5e5e5e" stroke-width="1.1"/>
<line x1="60.2" y1="781.2" x2="62.4" y2="781.2" stroke="#5e5e5e" stroke-width="1.1"/>
<line x1="82.3" y1="1022.8" x2="82.3" y2="1027.0" stroke="#444" stroke-width="1.2"/>
<line x1="162.0" y1="1022.8" x2="162.0" y2="1027.0" stroke="#444" stroke-width="1.2"/>
<line x1="241.7" y1="1022.8" x2="241.7" y2="1027.0" stroke="#444" stroke-width="1.2"/>
<line x1="321.4" y1="1022.8" x2="321.4" y2="1027.0" stroke="#444" stroke-width="1.2"/>
<line x1="122.2" y1="1022.8" x2="122.2" y2="1024.9" stroke="#444" stroke-width="1.1"/>
<line x1="201.9" y1="1022.8" x2="201.9" y2="1024.9" stroke="#444" stroke-width="1.1"/>
<line x1="281.6" y1="1022.8" x2="281.6" y2="1024.9" stroke="#444" stroke-width="1.1"/>
<line x1="361.2" y1="1022.8" x2="361.2" y2="1024.9" stroke="#444" stroke-width="1.1"/>
<text x="38.1" y="995.9" font-family="Liberation Sans, sans-serif" font-size="9.7" fill="#222" textLength="15.1" lengthAdjust="spacingAndGlyphs">1,0</text>
<text x="38.1" y="935.4" font-family="Liberation Sans, sans-serif" font-size="9.7" fill="#222" textLength="15.1" lengthAdjust="spacingAndGlyphs">1,2</text>
<text x="38.1" y="874.9" font-family="Liberation Sans, sans-serif" font-size="9.7" fill="#222" textLength="15.1" lengthAdjust="spacingAndGlyphs">1,4</text>
<text x="38.1" y="814.4" font-family="Liberation Sans, sans-serif" font-size="9.7" fill="#222" textLength="15.1" lengthAdjust="spacingAndGlyphs">1,6</text>
<text x="69.9" y="1038.7" font-family="Liberation Sans, sans-serif" font-size="9.7" fill="#222" textLength="24.8" lengthAdjust="spacingAndGlyphs">4900</text>
<text x="149.6" y="1038.7" font-family="Liberation Sans, sans-serif" font-size="9.7" fill="#222" textLength="24.8" lengthAdjust="spacingAndGlyphs">4800</text>
<text x="229.3" y="1038.7" font-family="Liberation Sans, sans-serif" font-size="9.7" fill="#222" textLength="24.8" lengthAdjust="spacingAndGlyphs">4700</text>
<text x="309.0" y="1038.7" font-family="Liberation Sans, sans-serif" font-size="9.7" fill="#222" textLength="24.8" lengthAdjust="spacingAndGlyphs">4600</text>
<text x="67.8" y="810.6" font-family="Liberation Sans, sans-serif" font-size="22" fill="#111" textLength="25.8" lengthAdjust="spacingAndGlyphs">A2</text>
<text x="108.9" y="786.9" font-family="Liberation Sans, sans-serif" font-size="17.5" fill="#111" textLength="54.8" lengthAdjust="spacingAndGlyphs">amide</text>
<text x="188.8" y="816.7" font-family="Liberation Sans, sans-serif" font-size="17.5" fill="#111" textLength="27.4" lengthAdjust="spacingAndGlyphs">OH</text>
<text x="301.9" y="797.9" font-family="Liberation Sans, sans-serif" font-size="17.5" fill="#111" textLength="54.7" lengthAdjust="spacingAndGlyphs">amide</text>
<text transform="translate(15.5,966.6) rotate(-90)" font-family="Liberation Sans, sans-serif" font-size="16.5" fill="#111" textLength="109" lengthAdjust="spacingAndGlyphs">Absorbance / -</text>
<text x="163.9" y="1059.4" font-family="Liberation Sans, sans-serif" font-size="13.3" fill="#111">Wavenumber / cm<tspan dx="1" dy="-5" font-size="9.5">-1</tspan></text>
<g clip-path="url(#clipA2)">
<path d="M62.4,932.4 C63.5,928.9 66.5,920.5 69.2,911.6 C71.9,902.8 75.4,891.2 78.5,879.3 C81.6,867.4 85.0,851.9 87.7,840.0 C90.4,828.1 92.5,815.2 94.6,807.7 C96.7,800.2 98.7,797.3 100.4,795.0 C102.1,792.7 103.3,792.5 105.0,793.9 C106.7,795.2 108.7,798.5 110.8,803.1 C112.9,807.7 115.4,814.7 117.7,821.6 C120.0,828.5 122.0,837.0 124.7,844.7 C127.4,852.4 131.2,862.0 133.9,867.8 C136.6,873.6 138.5,876.8 140.8,879.3 C143.1,881.8 145.1,883.2 147.8,882.8 C150.5,882.4 153.6,881.4 157.0,877.0 C160.4,872.6 164.7,862.4 168.5,856.2 C172.3,850.0 176.8,843.6 180.1,840.0 C183.4,836.4 185.5,834.7 188.2,834.7 C190.9,834.7 193.0,835.6 196.3,840.0 C199.6,844.4 204.7,855.8 207.8,860.8 C210.9,865.8 212.3,865.7 215.0,869.8 C217.7,873.9 220.6,880.0 224.0,885.6 C227.4,891.2 231.6,898.5 235.3,903.6 C239.1,908.7 243.1,913.4 246.5,916.0 C249.9,918.6 252.1,920.0 255.5,919.4 C258.9,918.8 263.4,916.0 266.8,912.6 C270.2,909.2 272.8,905.1 275.8,899.1 C278.8,893.1 281.8,884.1 284.8,876.6 C287.8,869.1 290.4,861.2 293.8,854.1 C297.2,847.0 301.3,839.8 305.1,833.8 C308.9,827.8 313.0,821.6 316.4,818.0 C319.8,814.4 322.0,812.6 325.4,812.4 C328.8,812.2 332.5,815.2 336.6,816.9 C340.7,818.6 346.4,820.4 350.1,822.5 C353.9,824.6 355.7,826.3 359.1,829.3 C362.5,832.3 366.6,835.6 370.4,840.5 C374.2,845.4 379.5,855.0 381.7,858.6 C383.9,862.2 383.2,861.4 383.5,862.0" fill="none" stroke="#3a9c62" stroke-width="1.1" stroke-linejoin="round" stroke-linecap="round" />
<path d="M62.4,962.4 C64.3,957.8 69.7,945.9 73.9,934.7 C78.1,923.6 83.5,906.6 87.7,895.5 C91.9,884.4 95.5,875.1 99.3,867.8 C103.1,860.5 106.9,855.5 110.8,851.6 C114.7,847.8 118.9,845.7 122.4,844.7 C125.9,843.7 127.4,844.8 131.6,845.8 C135.8,846.8 142.4,849.2 147.8,850.4 C153.2,851.5 158.1,851.9 163.9,852.7 C169.7,853.5 177.0,853.4 182.4,855.1 C187.8,856.8 192.1,860.4 196.3,863.1 C200.5,865.8 204.7,869.0 207.8,871.2 C210.9,873.5 211.9,873.8 215.0,876.6 C218.1,879.4 222.6,884.4 226.3,887.8 C230.1,891.2 233.4,894.5 237.5,896.8 C241.6,899.1 246.5,901.8 251.0,901.4 C255.5,901.0 259.6,898.0 264.5,894.6 C269.4,891.2 275.4,886.7 280.3,881.1 C285.2,875.5 289.7,867.4 293.8,860.8 C297.9,854.2 301.3,847.3 305.1,841.7 C308.9,836.1 312.6,830.2 316.4,827.0 C320.1,823.8 323.5,823.1 327.6,822.5 C331.7,821.9 336.6,822.5 341.1,823.6 C345.6,824.7 350.1,826.7 354.6,829.3 C359.1,831.9 363.7,836.2 368.2,839.4 C372.7,842.6 379.1,846.7 381.7,848.4 C384.2,850.1 383.2,849.3 383.5,849.5" fill="none" stroke="#3199e0" stroke-width="1.1" stroke-linejoin="round" stroke-linecap="round" />
<path d="M62.4,1008.6 C63.9,1004.0 68.0,994.0 71.5,980.9 C75.0,967.8 79.2,946.6 83.1,930.1 C86.9,913.6 90.8,893.9 94.6,881.6 C98.4,869.3 102.3,862.2 106.2,856.2 C110.1,850.2 113.8,848.3 117.7,845.8 C121.6,843.3 123.5,842.2 129.3,841.2 C135.1,840.2 144.7,840.1 152.4,839.6 C160.1,839.1 170.1,838.2 175.5,838.2 C180.9,838.2 181.2,838.1 184.7,839.6 C188.2,841.1 192.5,844.0 196.3,847.0 C200.2,850.0 204.7,854.4 207.8,857.4 C210.9,860.4 211.9,862.1 215.0,865.3 C218.1,868.5 222.6,872.5 226.3,876.6 C230.1,880.7 233.0,885.8 237.5,890.1 C242.0,894.4 248.8,901.0 253.3,902.5 C257.8,904.0 260.0,901.6 264.5,899.1 C269.0,896.6 275.4,892.3 280.3,887.8 C285.2,883.3 289.7,877.0 293.8,872.1 C297.9,867.2 301.7,862.6 305.1,858.6 C308.5,854.6 311.3,850.7 314.1,848.4 C316.9,846.1 319.0,845.0 322.0,844.6 C325.0,844.2 328.2,844.8 332.1,846.2 C336.0,847.6 341.1,849.7 345.6,852.9 C350.1,856.1 354.6,861.0 359.1,865.3 C363.6,869.6 368.9,874.8 372.7,878.8 C376.5,882.8 379.9,887.5 381.7,889.6 C383.5,891.7 383.2,891.2 383.5,891.5" fill="none" stroke="#d8474a" stroke-width="1.1" stroke-linejoin="round" stroke-linecap="round" />
<path d="M62.4,1004.0 C63.9,998.2 68.0,983.6 71.5,969.4 C75.0,955.2 79.2,934.8 83.1,918.6 C86.9,902.4 90.8,884.7 94.6,872.4 C98.4,860.1 102.3,852.0 106.2,844.7 C110.1,837.4 113.8,832.5 117.7,828.5 C121.6,824.5 123.5,822.4 129.3,820.4 C135.1,818.4 145.5,817.1 152.4,816.5 C159.3,815.9 165.9,816.5 170.9,817.0 C175.9,817.5 178.6,818.0 182.4,819.3 C186.2,820.6 190.2,822.3 194.0,825.0 C197.8,827.7 202.0,831.3 205.5,835.4 C209.0,839.5 211.5,844.9 215.0,849.5 C218.5,854.1 222.6,858.6 226.3,863.1 C230.1,867.6 233.4,872.7 237.5,876.6 C241.6,880.5 247.2,885.1 251.0,886.7 C254.8,888.3 256.2,887.3 260.0,886.0 C263.8,884.7 269.1,882.2 273.6,878.8 C278.1,875.3 282.6,870.5 287.1,865.3 C291.6,860.0 296.5,852.5 300.6,847.3 C304.7,842.0 308.1,836.8 311.8,833.8 C315.6,830.8 319.0,829.7 323.1,829.3 C327.2,828.9 332.1,829.6 336.6,831.5 C341.1,833.4 345.2,836.7 350.1,840.5 C355.0,844.3 360.6,849.6 365.9,854.1 C371.2,858.6 378.8,865.1 381.7,867.6 C384.6,870.1 383.2,868.8 383.5,869.0" fill="none" stroke="#2a2a2a" stroke-width="1.1" stroke-linejoin="round" stroke-linecap="round" />
</g>
<line x1="420.1" y1="780.3" x2="420.1" y2="1022.6" stroke="#5e5e5e" stroke-width="1.5"/>
<line x1="415.8" y1="1022.6" x2="738.1" y2="1022.6" stroke="#333" stroke-width="1.3"/>
<line x1="415.8" y1="817.5" x2="420.1" y2="817.5" stroke="#5e5e5e" stroke-width="1.2"/>
<line x1="415.8" y1="868.7" x2="420.1" y2="868.7" stroke="#5e5e5e" stroke-width="1.2"/>
<line x1="415.8" y1="919.9" x2="420.1" y2="919.9" stroke="#5e5e5e" stroke-width="1.2"/>
<line x1="415.8" y1="971.1" x2="420.1" y2="971.1" stroke="#5e5e5e" stroke-width="1.2"/>
<line x1="415.8" y1="1022.3" x2="420.1" y2="1022.3" stroke="#5e5e5e" stroke-width="1.2"/>
<line x1="418.0" y1="791.9" x2="420.1" y2="791.9" stroke="#5e5e5e" stroke-width="1.1"/>
<line x1="418.0" y1="843.1" x2="420.1" y2="843.1" stroke="#5e5e5e" stroke-width="1.1"/>
<line x1="418.0" y1="894.3" x2="420.1" y2="894.3" stroke="#5e5e5e" stroke-width="1.1"/>
<line x1="418.0" y1="945.5" x2="420.1" y2="945.5" stroke="#5e5e5e" stroke-width="1.1"/>
<line x1="418.0" y1="996.7" x2="420.1" y2="996.7" stroke="#5e5e5e" stroke-width="1.1"/>
<line x1="420.1" y1="1022.6" x2="420.1" y2="1026.8" stroke="#444" stroke-width="1.2"/>
<line x1="473.1" y1="1022.6" x2="473.1" y2="1026.8" stroke="#444" stroke-width="1.2"/>
<line x1="526.1" y1="1022.6" x2="526.1" y2="1026.8" stroke="#444" stroke-width="1.2"/>
<line x1="579.1" y1="1022.6" x2="579.1" y2="1026.8" stroke="#444" stroke-width="1.2"/>
<line x1="632.1" y1="1022.6" x2="632.1" y2="1026.8" stroke="#444" stroke-width="1.2"/>
<line x1="685.1" y1="1022.6" x2="685.1" y2="1026.8" stroke="#444" stroke-width="1.2"/>
<line x1="738.1" y1="1022.6" x2="738.1" y2="1026.8" stroke="#444" stroke-width="1.2"/>
<line x1="446.6" y1="1022.6" x2="446.6" y2="1024.7" stroke="#444" stroke-width="1.1"/>
<line x1="499.6" y1="1022.6" x2="499.6" y2="1024.7" stroke="#444" stroke-width="1.1"/>
<line x1="552.6" y1="1022.6" x2="552.6" y2="1024.7" stroke="#444" stroke-width="1.1"/>
<line x1="605.6" y1="1022.6" x2="605.6" y2="1024.7" stroke="#444" stroke-width="1.1"/>
<line x1="658.6" y1="1022.6" x2="658.6" y2="1024.7" stroke="#444" stroke-width="1.1"/>
<line x1="711.6" y1="1022.6" x2="711.6" y2="1024.7" stroke="#444" stroke-width="1.1"/>
<text x="396.2" y="820.4" font-family="Liberation Sans, sans-serif" font-size="9.7" fill="#222" textLength="15.1" lengthAdjust="spacingAndGlyphs">0,2</text>
<text x="396.2" y="871.6" font-family="Liberation Sans, sans-serif" font-size="9.7" fill="#222" textLength="15.1" lengthAdjust="spacingAndGlyphs">0,0</text>
<text x="392.3" y="922.8" font-family="Liberation Sans, sans-serif" font-size="9.7" fill="#222" textLength="19.0" lengthAdjust="spacingAndGlyphs">-0,2</text>
<text x="392.3" y="974.0" font-family="Liberation Sans, sans-serif" font-size="9.7" fill="#222" textLength="19.0" lengthAdjust="spacingAndGlyphs">-0,4</text>
<text x="392.3" y="1025.2" font-family="Liberation Sans, sans-serif" font-size="9.7" fill="#222" textLength="19.0" lengthAdjust="spacingAndGlyphs">-0,6</text>
<text x="407.7" y="1038.2" font-family="Liberation Sans, sans-serif" font-size="9.7" fill="#222" textLength="24.8" lengthAdjust="spacingAndGlyphs">6000</text>
<text x="460.7" y="1038.2" font-family="Liberation Sans, sans-serif" font-size="9.7" fill="#222" textLength="24.8" lengthAdjust="spacingAndGlyphs">5900</text>
<text x="513.7" y="1038.2" font-family="Liberation Sans, sans-serif" font-size="9.7" fill="#222" textLength="24.8" lengthAdjust="spacingAndGlyphs">5800</text>
<text x="566.7" y="1038.2" font-family="Liberation Sans, sans-serif" font-size="9.7" fill="#222" textLength="24.8" lengthAdjust="spacingAndGlyphs">5700</text>
<text x="619.7" y="1038.2" font-family="Liberation Sans, sans-serif" font-size="9.7" fill="#222" textLength="24.8" lengthAdjust="spacingAndGlyphs">5600</text>
<text x="672.7" y="1038.2" font-family="Liberation Sans, sans-serif" font-size="9.7" fill="#222" textLength="24.8" lengthAdjust="spacingAndGlyphs">5500</text>
<text x="725.7" y="1038.2" font-family="Liberation Sans, sans-serif" font-size="9.7" fill="#222" textLength="24.8" lengthAdjust="spacingAndGlyphs">5400</text>
<text x="435.8" y="810.8" font-family="Liberation Sans, sans-serif" font-size="22" fill="#111" textLength="26.3" lengthAdjust="spacingAndGlyphs">A3</text>
<text x="522.3" y="1059.4" font-family="Liberation Sans, sans-serif" font-size="13.3" fill="#111">Wavenumber / cm<tspan dx="1" dy="-5" font-size="9.5">-1</tspan></text>
<g clip-path="url(#clipA3)">
<path d="M420.2,917.4 C421.8,915.3 426.0,909.1 429.5,904.7 C433.0,900.3 437.6,896.3 441.1,890.9 C444.6,885.5 447.4,877.4 450.3,872.4 C453.2,867.4 455.7,860.4 458.4,860.8 C461.1,861.2 463.6,869.7 466.5,874.7 C469.4,879.7 473.0,887.6 475.7,890.9 C478.4,894.2 480.0,895.1 482.7,894.3 C485.4,893.5 488.4,891.0 491.9,886.2 C495.4,881.4 500.0,874.7 503.5,865.5 C507.0,856.3 510.0,841.2 512.7,830.8 C515.4,820.4 517.5,809.6 519.6,803.1 C521.7,796.6 523.5,792.8 525.4,792.0 C527.3,791.2 529.1,794.3 531.2,798.5 C533.3,802.7 535.4,811.2 538.1,817.0 C540.8,822.8 544.2,828.1 547.3,833.1 C550.4,838.1 553.5,842.8 556.6,847.0 C559.7,851.2 563.3,856.1 565.8,858.5 C568.3,860.9 569.6,861.1 571.6,861.3 C573.6,861.5 575.5,860.8 578.0,859.7 C580.5,858.6 582.3,856.6 586.3,854.8 C590.3,853.0 597.9,849.9 602.0,849.1 C606.1,848.3 608.0,849.0 611.0,849.8 C614.0,850.5 617.0,852.3 620.0,853.6 C623.0,854.9 625.3,856.9 629.1,857.5 C632.9,858.1 638.1,856.1 642.6,857.0 C647.1,857.9 651.6,861.1 656.1,862.7 C660.6,864.3 665.1,865.4 669.6,866.5 C674.1,867.6 679.4,869.5 683.1,869.4 C686.9,869.3 688.4,867.0 692.1,866.0 C695.9,865.0 701.5,863.3 705.6,863.3 C709.7,863.3 713.1,864.6 716.9,866.0 C720.7,867.4 724.7,869.9 728.2,871.7 C731.7,873.5 736.4,876.1 738.0,877.0" fill="none" stroke="#3a9c62" stroke-width="1.1" stroke-linejoin="round" stroke-linecap="round" />
<path d="M420.2,993.6 C422.1,991.5 427.6,986.5 431.9,980.9 C436.1,975.3 441.5,966.6 445.7,960.1 C449.9,953.6 453.4,947.7 457.3,941.7 C461.2,935.7 464.6,928.9 468.8,924.3 C473.0,919.7 478.5,916.8 482.7,913.9 C486.9,911.0 490.7,909.3 494.2,907.0 C497.7,904.7 500.0,903.6 503.5,900.1 C507.0,896.6 511.2,890.8 515.0,886.2 C518.8,881.6 523.0,875.4 526.5,872.4 C530.0,869.4 532.7,868.0 535.8,868.2 C538.9,868.4 541.5,871.1 545.0,873.5 C548.5,875.9 552.8,880.6 556.6,882.8 C560.5,885.0 564.5,885.9 568.1,886.7 C571.7,887.5 575.4,887.3 578.0,887.4 C580.6,887.5 581.1,887.6 584.0,887.4 C586.9,887.2 591.9,885.7 595.3,886.3 C598.7,886.9 600.9,888.7 604.3,890.8 C607.7,892.9 611.0,896.5 615.5,898.7 C620.0,901.0 625.7,902.9 631.3,904.3 C636.9,905.7 643.7,905.9 649.3,907.0 C654.9,908.1 659.5,909.7 665.1,911.1 C670.7,912.5 677.1,913.5 683.1,915.6 C689.1,917.7 695.1,920.7 701.1,923.5 C707.1,926.3 713.0,929.8 719.1,932.5 C725.2,935.2 734.9,938.8 738.0,940.0" fill="none" stroke="#3199e0" stroke-width="1.1" stroke-linejoin="round" stroke-linecap="round" />
<path d="M432.0,1022.6 C433.9,1019.9 439.6,1012.5 443.4,1006.3 C447.2,1000.1 451.1,993.2 455.0,985.5 C458.9,977.8 462.7,966.2 466.5,960.1 C470.3,954.0 474.1,951.7 478.0,948.6 C481.9,945.5 486.1,943.8 489.6,941.7 C493.1,939.6 495.3,939.4 498.8,935.9 C502.3,932.4 506.5,926.1 510.4,920.9 C514.2,915.7 518.0,908.6 521.9,904.7 C525.8,900.9 530.0,898.2 533.5,897.8 C537.0,897.4 539.6,899.7 542.7,902.4 C545.8,905.1 548.5,910.4 552.0,914.0 C555.5,917.6 559.2,922.3 563.5,924.3 C567.8,926.3 574.6,926.0 578.0,926.2 C581.4,926.4 581.1,926.0 584.0,925.7 C586.9,925.4 591.9,923.9 595.3,924.6 C598.7,925.4 600.9,927.8 604.3,930.2 C607.7,932.6 611.0,936.8 615.5,939.2 C620.0,941.7 625.7,943.4 631.3,944.9 C636.9,946.4 643.7,946.7 649.3,948.2 C654.9,949.7 659.5,951.8 665.1,953.9 C670.7,956.0 677.1,958.0 683.1,960.6 C689.1,963.2 695.1,966.2 701.1,969.6 C707.1,973.0 713.0,977.2 719.1,980.9 C725.2,984.6 734.9,990.1 738.0,992.0" fill="none" stroke="#d8474a" stroke-width="1.1" stroke-linejoin="round" stroke-linecap="round" />
<path d="M425.4,1022.6 C427.2,1019.9 432.4,1012.4 436.5,1006.6 C440.6,1000.8 445.7,996.4 450.3,987.9 C454.9,979.4 460.0,963.6 464.2,955.5 C468.4,947.4 471.8,943.6 475.7,939.4 C479.6,935.2 483.4,932.4 487.3,930.1 C491.2,927.8 495.0,928.6 498.8,925.5 C502.6,922.4 506.5,916.6 510.4,911.6 C514.2,906.6 517.9,899.5 521.9,895.5 C525.9,891.5 531.1,888.3 534.6,887.9 C538.1,887.5 539.8,890.4 542.7,893.2 C545.6,896.0 548.5,901.6 552.0,904.7 C555.5,907.8 559.2,910.1 563.5,911.6 C567.8,913.1 574.6,913.1 578.0,913.5 C581.4,913.9 581.1,913.9 584.0,913.8 C586.9,913.7 591.9,912.0 595.3,912.9 C598.7,913.8 600.9,916.5 604.3,919.0 C607.7,921.5 611.0,925.6 615.5,928.0 C620.0,930.4 625.7,932.0 631.3,933.2 C636.9,934.4 643.7,934.4 649.3,935.4 C654.9,936.4 659.5,937.6 665.1,939.2 C670.7,940.8 677.1,942.5 683.1,944.9 C689.1,947.3 695.1,950.5 701.1,953.9 C707.1,957.3 713.0,961.4 719.1,965.1 C725.2,968.8 734.9,974.2 738.0,976.0" fill="none" stroke="#2a2a2a" stroke-width="1.1" stroke-linejoin="round" stroke-linecap="round" />
</g>
</svg>
</body></html>
